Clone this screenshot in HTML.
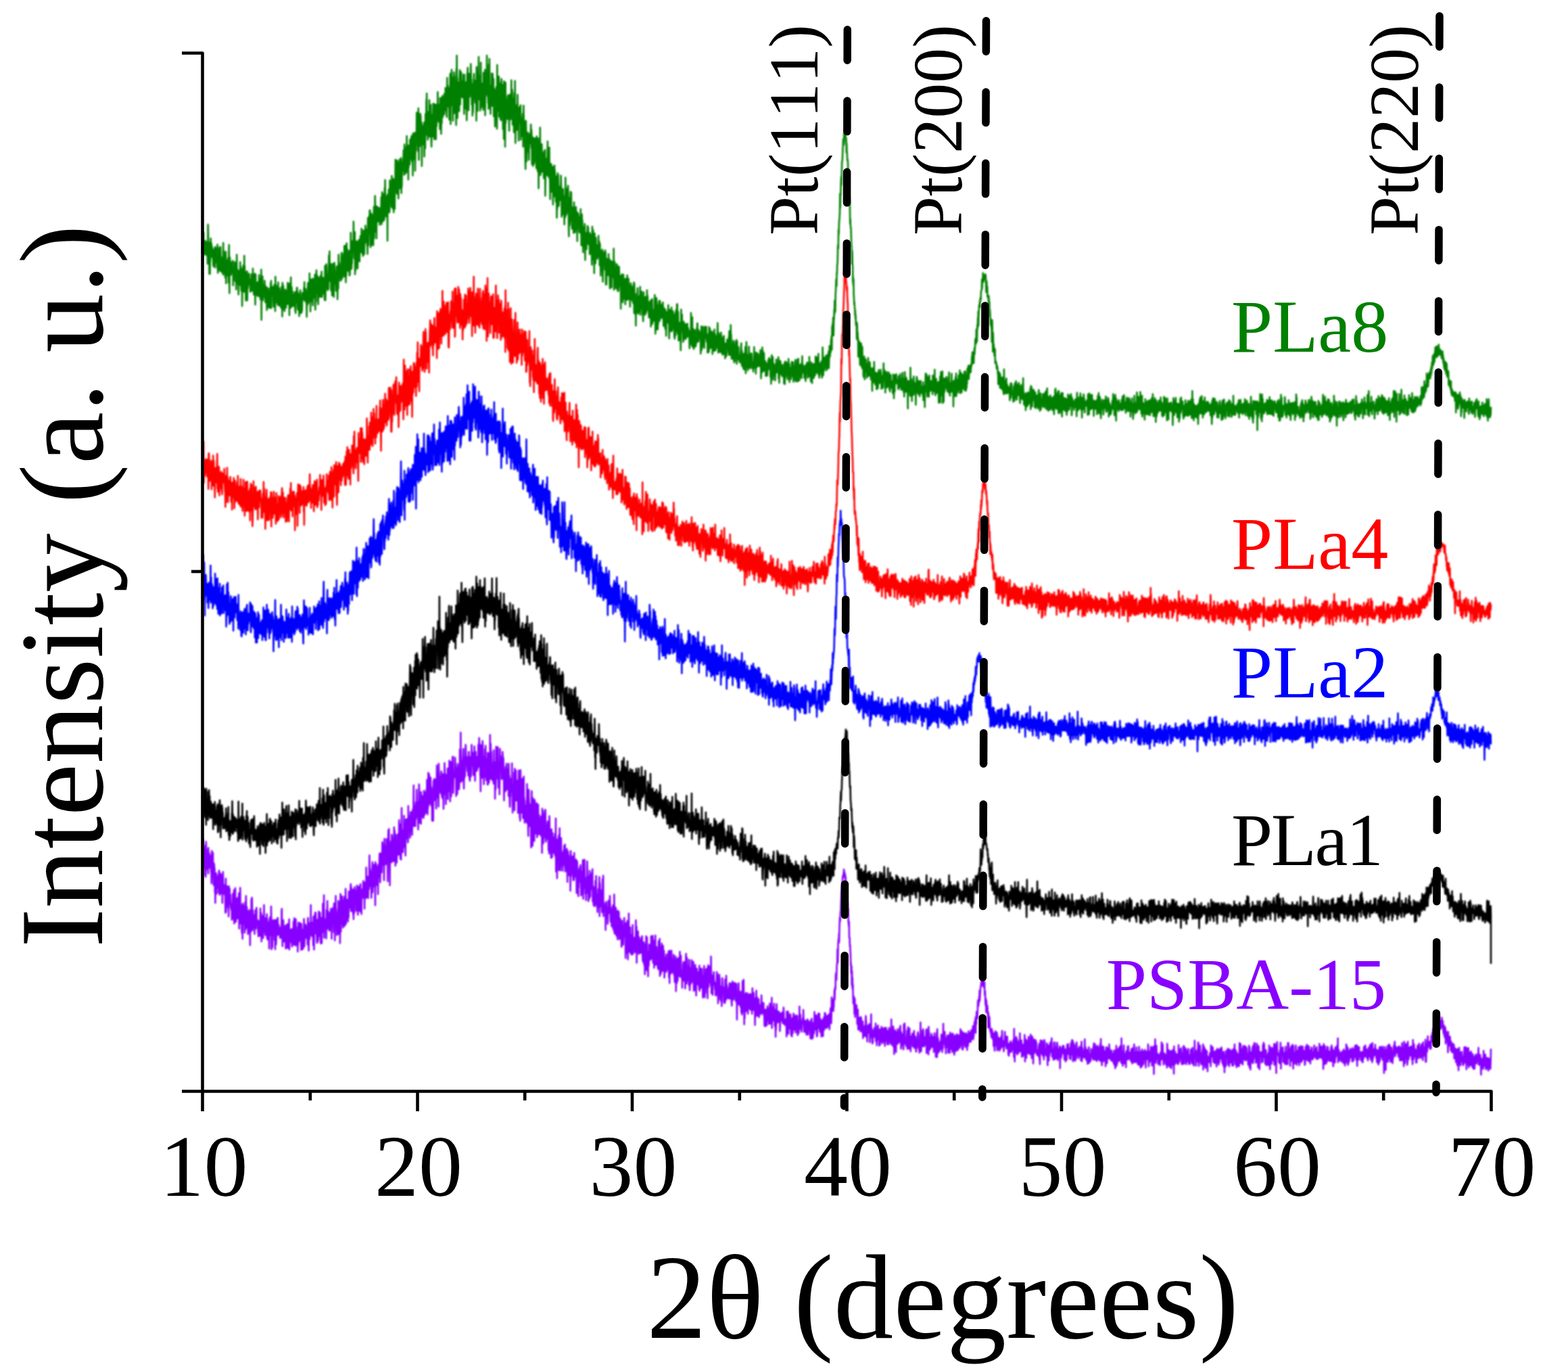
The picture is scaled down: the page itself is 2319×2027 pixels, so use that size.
<!DOCTYPE html>
<html><head><meta charset="utf-8"><title>XRD patterns</title>
<style>
html,body{margin:0;padding:0;background:#fff;}
svg{display:block;}
text{font-family:"Liberation Serif","Times New Roman",serif;font-kerning:none;}
</style></head>
<body>
<svg width="2319" height="2027" viewBox="0 0 2319 2027" xmlns="http://www.w3.org/2000/svg">
<rect width="2319" height="2027" fill="#fff"/>
<defs><filter id="bl" x="-1%" y="-5%" width="102%" height="110%"><feGaussianBlur stdDeviation="1.0"/></filter></defs>
<g fill="none" stroke-width="2.6" stroke-linejoin="round" filter="url(#bl)"><g transform="translate(300.0 0) scale(0.3175 0.5)">
<path vector-effect="non-scaling-stroke" d="M0 734l1 15 1-13 1-48 1 66 1-12 1-29 1 34 1-5 1-2 1-7 1 17 1-38 1 18 1-8 1 32 1-15 1-9 1-14 1 16 1 9 1-8 1 47 1-7 1-109 1 25 1 51 1-6 1 19 1 1 1 56 1-93 1 22 1 71 1-40 1 1 1-33 1-33 1 54 1-1 1-38 1 16 1 19 1-25 1 25 1 6 1-1 1-15 1 33 1 9 1-16 1-33 1 46 1-35 1 40 1-56 1 58 1-26 1-35 1 27 1 11 1 7 1-35 1-4 1 39 1-19 1 21 1 15 1-69 1 56 1 28 1-43 1-15 1 46 1-14 1 19 1-36 1-32 1 40 1-9 1 35 1-16 1-52 1 13 1 60 1-5 1-38 1 19 1 13 1 1 1 12 1-17 1-10 1-4 1 38 1-94 1 61 1 5 1-41 1 51 1-28 1 43 1-27 1 23 1 16 1-24 1-35 1-18 1 94 1-53 1-16 1 24 1-9 1 30 1-23 1 0 1-20 1 34 1-42 1 48 1 25 1-85 1-27 1 88 1 55 1-100 1-6 1 52 1-40 1 10 1 5 1 25 1-26 1 20 1-12 1-18 1 15 1-17 1 27 1-31 1 1 1 72 1-42 1 1 1 16 1-25 1 6 1 18 1-3 1-40 1 56 1-39 1-12 1 5 1 14 1 57 1-77 1 37 1-63 1 60 1 26 1-32 1-10 1 25 1 13 1 0 1 36 1-48 1-22 1 14 1 2 1 5 1-3 1 6 1-50 1 69 1-38 1-16 1 51 1 19 1-22 1-9 1-30 1 106 1-55 1-55 1 11 1 24 1-45 1 48 1-16 1 46 1-7 1-100 1 76 1-45 1 75 1-25 1 11 1-44 1 80 1 5 1-83 1 39 1-28 1 18 1-33 1 86 1-77 1 19 1 22 1-31 1 12 1-9 1 12 1-27 1 20 1 7 1-3 1 11 1-9 1 28 1-28 1 5 1-14 1 5 1-20 1 49 1-45 1 11 1 31 1 1 1-21 1-43 1 66 1-4 1-45 1 60 1-40 1-11 1 34 1-7 1 10 1-48 1 92 1-64 1-25 1 59 1-26 1 18 1-17 1 8 1 8 1-26 1 39 1-31 1-10 1 26 1 10 1-18 1-16 1 40 1-63 1 19 1 29 1-37 1 38 1-2 1 25 1-47 1 8 1 25 1-74 1 149 1-101 1-1 1 43 1-24 1-46 1 64 1 7 1-35 1 5 1 21 1-37 1 36 1-6 1-23 1-19 1 31 1-17 1 50 1-22 1 17 1-17 1 4 1-28 1 39 1 30 1-55 1-8 1 12 1-8 1-6 1 23 1-11 1 45 1-37 1 9 1 16 1-32 1 46 1-55 1-4 1 12 1 7 1-34 1 36 1-43 1 81 1-38 1-15 1-7 1 14 1 5 1-22 1 4 1 19 1-8 1 38 1 6 1-30 1 12 1-47 1 52 1-17 1 13 1 30 1-102 1 67 1-36 1 45 1-50 1 22 1 18 1 11 1-14 1-23 1 7 1 37 1-23 1-44 1 67 1-11 1 12 1-32 1 30 1-49 1 43 1-28 1 31 1 8 1-45 1 18 1 2 1 30 1-12 1-51 1 44 1 7 1 37 1-100 1 30 1 49 1-71 1 5 1 44 1 14 1-45 1 32 1-11 1 37 1-40 1 26 1-50 1 19 1 2 1 33 1-15 1-35 1 38 1 2 1-23 1-4 1 2 1-39 1 49 1 1 1-29 1 42 1-55 1 21 1 2 1 65 1-94 1 57 1 10 1-15 1 21 1-57 1-34 1 80 1-51 1 22 1-22 1 58 1-4 1-42 1 43 1-21 1-7 1 5 1-6 1 21 1-8 1-17 1 35 1-42 1 23 1 4 1 28 1-52 1 59 1-41 1-10 1-13 1 33 1-14 1-30 1-1 1 15 1-3 1 46 1 8 1-13 1-14 1-20 1 12 1 22 1 32 1-32 1-31 1 8 1-14 1-8 1 16 1 10 1 42 1-47 1 34 1 11 1-45 1 40 1-23 1-30 1 17 1-6 1-7 1 0 1 9 1 7 1-35 1 23 1-40 1 46 1 10 1-13 1 3 1 8 1-34 1 11 1 20 1 12 1-16 1 56 1-70 1 29 1 6 1-37 1-19 1-10 1 35 1 25 1-22 1-3 1-16 1 25 1-72 1 63 1-6 1-38 1 94 1-95 1 8 1-4 1 61 1-54 1 42 1-3 1-9 1-42 1 18 1 60 1-79 1 12 1 17 1 26 1-15 1 12 1-48 1 53 1-10 1-59 1 84 1 20 1-83 1 22 1 36 1-78 1-14 1 18 1 20 1-1 1 32 1-10 1-41 1 48 1 35 1-18 1-6 1-27 1 26 1-53 1 46 1-23 1 32 1-18 1-42 1 32 1 29 1-64 1 15 1-6 1-20 1 66 1 9 1-14 1-15 1-9 1 8 1-27 1 44 1 3 1-3 1-40 1 16 1-7 1 53 1-44 1-57 1 62 1 40 1-33 1 4 1-23 1-55 1 4 1 15 1 30 1 11 1 10 1-28 1 35 1-35 1-12 1 43 1-49 1-50 1 45 1 31 1-88 1 75 1 0 1-31 1-2 1 28 1-3 1 49 1-25 1-54 1 20 1 42 1 32 1-42 1-2 1 42 1-53 1-8 1-31 1 24 1 74 1-100 1 39 1-40 1 42 1 21 1-32 1 26 1 0 1-9 1 35 1-26 1-31 1-11 1-5 1 36 1-23 1 85 1-26 1-58 1-4 1 56 1-100 1 39 1 39 1-53 1 12 1 3 1 27 1-15 1 7 1 5 1-17 1 30 1-52 1-21 1-10 1 3 1 30 1 44 1-25 1-22 1-14 1 14 1 3 1-5 1-25 1 26 1 42 1-91 1 54 1-54 1 64 1-27 1-38 1 61 1 48 1-49 1 29 1-36 1-60 1 75 1-26 1-31 1 64 1-15 1-24 1 39 1-51 1 43 1-46 1 42 1-48 1 74 1-37 1 34 1-66 1 9 1 37 1-104 1 48 1 60 1-17 1 14 1-38 1 24 1-38 1-19 1-10 1 32 1-1 1-3 1-85 1 44 1 42 1 23 1-26 1-10 1-42 1 125 1-91 1 80 1-4 1-39 1-25 1 20 1-39 1 41 1-9 1 15 1 12 1 22 1-63 1 41 1-55 1-4 1 7 1-11 1 57 1-3 1 10 1-39 1 8 1-26 1-18 1 46 1-6 1-42 1 50 1-70 1 45 1-14 1 2 1-17 1 59 1-12 1 18 1-33 1-43 1 26 1-25 1 48 1 22 1-28 1-29 1 6 1 17 1-51 1 47 1 0 1-23 1 3 1 17 1-31 1-2 1 48 1-18 1 43 1-82 1-25 1 81 1 0 1-53 1-23 1 42 1-53 1 42 1-58 1 58 1-58 1 56 1 53 1-56 1 30 1-44 1-9 1-20 1 77 1-35 1 51 1-88 1 28 1 8 1 40 1 12 1-78 1-16 1-20 1 94 1-46 1-18 1 17 1-79 1 24 1 82 1-18 1-9 1-37 1 48 1 36 1-95 1 38 1-16 1 24 1-12 1-6 1-25 1 26 1-20 1 14 1 1 1 21 1-40 1 7 1 43 1-42 1-3 1 35 1-20 1-7 1 3 1-48 1 53 1 27 1-25 1-70 1 58 1-39 1 20 1 10 1-43 1 80 1-47 1 27 1-6 1 22 1-7 1-87 1 48 1-72 1 54 1 36 1 6 1 11 1-56 1 22 1-9 1 37 1 9 1-64 1 134 1-125 1-13 1 30 1 4 1-8 1-40 1 68 1-47 1 47 1-6 1-89 1 9 1-2 1 40 1-8 1 6 1-37 1 40 1 31 1-92 1 37 1 13 1-13 1-4 1 64 1-17 1-16 1-55 1 99 1-64 1-32 1 7 1-7 1 86 1-65 1-6 1-75 1 95 1-61 1-4 1 57 1-50 1 55 1 9 1-99 1 54 1-50 1 50 1 32 1-78 1 105 1-72 1-31 1 34 1 30 1-75 1 46 1-48 1 86 1-37 1-21 1 49 1-81 1 29 1 75 1-68 1 49 1-41 1-32 1 14 1 10 1-18 1-16 1 0 1-25 1 53 1 9 1 11 1-90 1 89 1-30 1-50 1 51 1 24 1-12 1 6 1 6 1-3 1-34 1-72 1 45 1 37 1-30 1 39 1 2 1-27 1 63 1-101 1 65 1-51 1-12 1 47 1-44 1 51 1-73 1 41 1-32 1 20 1-6 1-28 1 62 1-68 1 8 1 65 1 2 1-12 1-13 1 67 1-125 1 16 1-10 1 66 1-23 1 28 1-6 1-43 1-23 1-7 1 113 1-45 1-14 1-35 1 4 1-6 1 0 1-76 1 83 1-12 1 23 1-4 1 23 1-32 1 28 1-122 1 52 1 101 1-107 1 33 1 34 1-58 1 57 1-78 1-18 1 20 1-13 1 59 1-12 1 22 1-50 1 129 1-96 1 1 1 17 1-26 1-15 1 25 1 30 1-10 1 9 1-55 1-9 1 101 1-83 1 26 1 8 1 25 1-102 1 31 1 1 1 4 1-78 1 84 1-103 1 116 1 8 1 1 1-66 1 78 1-67 1-15 1 9 1 4 1 36 1 24 1-108 1 56 1 52 1-26 1 10 1-74 1 89 1-93 1 63 1 43 1 18 1-51 1 13 1-56 1 4 1 60 1-44 1-6 1-48 1 57 1 17 1-54 1 9 1 77 1-53 1-18 1-33 1 18 1 13 1 59 1-75 1 89 1-102 1 20 1 43 1-41 1-23 1 25 1 20 1-82 1 54 1 4 1-12 1 42 1-50 1 6 1 14 1 25 1-37 1 64 1-92 1 81 1-81 1 25 1 19 1 62 1-45 1-50 1 63 1-58 1-22 1 45 1-14 1 31 1-57 1 34 1 8 1-14 1-13 1-26 1 60 1-30 1 12 1-33 1 13 1-40 1 41 1 25 1-26 1 28 1-21 1 39 1-60 1-56 1 78 1-23 1-32 1 62 1-16 1 7 1-31 1 20 1 2 1 57 1-94 1 25 1 14 1-80 1 4 1 144 1-151 1 89 1-55 1 3 1-47 1 41 1 64 1-83 1 75 1-11 1 65 1-96 1 66 1-15 1-45 1-53 1 121 1-110 1 33 1 52 1 9 1-76 1 31 1-9 1 55 1 50 1-166 1 105 1-145 1 109 1-43 1 119 1-71 1-35 1 9 1-3 1 29 1-13 1 31 1 33 1-32 1-75 1-15 1 33 1 69 1-53 1-13 1 30 1-60 1 11 1 63 1-32 1-5 1 29 1-35 1-4 1 8 1 41 1-21 1-48 1 34 1 36 1 47 1-116 1 57 1-23 1 41 1-14 1 39 1-37 1-41 1 0 1 37 1-1 1 77 1-28 1-110 1 59 1-65 1-12 1 92 1-8 1-61 1 103 1-101 1-7 1 70 1-17 1-15 1 4 1 11 1-14 1-1 1-67 1 21 1 76 1-51 1 48 1 27 1-62 1 25 1 69 1-54 1 45 1-12 1-31 1-33 1-28 1-11 1 62 1-1 1-25 1 40 1-56 1 66 1-42 1-3 1 2 1-4 1 100 1-159 1 69 1 42 1-21 1-39 1 79 1-109 1-9 1 72 1-78 1-36 1 126 1-4 1-2 1-47 1 26 1-44 1 104 1-36 1-2 1-104 1 106 1 27 1-11 1-17 1-30 1-13 1 36 1-8 1-6 1-21 1 77 1-110 1 44 1-22 1 63 1 15 1-7 1-19 1-83 1 135 1-60 1-24 1 5 1-14 1 30 1-4 1-26 1-84 1 98 1 20 1 2 1-26 1 24 1 23 1-58 1 75 1-131 1 27 1 15 1-59 1 56 1 87 1 0 1-43 1 63 1-56 1-28 1 29 1-14 1 34 1-85 1 96 1-55 1 51 1-91 1 44 1 19 1 33 1-81 1 111 1-44 1-38 1 67 1-42 1 41 1 46 1-59 1-49 1 5 1 39 1-11 1-42 1 7 1 52 1 65 1-189 1 128 1-35 1 39 1 4 1-30 1-40 1-14 1-18 1 119 1-54 1-12 1 11 1-40 1 63 1 39 1-6 1-102 1 112 1-80 1-43 1 26 1 11 1 37 1-39 1-17 1 47 1 84 1-99 1 45 1-14 1 97 1-171 1 113 1-89 1 27 1 19 1 124 1-148 1-42 1 120 1-79 1 22 1 9 1 5 1-9 1 17 1 5 1 18 1-48 1-11 1-12 1 63 1-24 1 24 1-1 1 44 1-55 1 21 1-73 1 5 1 30 1-34 1 72 1-75 1 53 1-94 1 52 1 29 1 3 1-56 1 71 1 33 1-11 1-48 1 3 1-22 1 69 1 31 1-73 1-43 1 72 1 19 1-127 1 107 1 77 1-50 1-9 1-5 1 26 1-74 1 5 1 47 1-40 1 36 1-79 1 100 1 4 1-28 1 5 1 55 1-98 1 7 1-5 1 26 1-21 1 40 1-24 1-28 1-2 1 102 1-45 1-5 1 11 1-3 1 32 1-6 1-40 1-8 1-8 1-5 1 98 1-83 1-39 1 44 1 4 1 42 1-43 1 52 1-4 1 33 1 34 1 26 1-54 1-89 1 28 1 25 1 67 1-50 1 20 1-48 1 28 1 6 1-41 1 45 1 12 1-43 1 43 1 24 1-56 1-1 1-10 1-11 1 29 1-19 1 5 1-16 1-26 1 22 1 47 1-53 1 20 1 82 1-17 1-64 1 47 1-43 1 82 1-78 1 25 1 47 1-77 1 76 1-74 1 38 1-18 1 9 1 10 1-8 1-32 1 68 1-5 1 21 1 5 1-95 1 93 1 2 1-64 1 57 1 16 1-70 1-28 1 36 1 112 1-89 1-49 1 34 1-25 1 22 1 19 1-92 1 103 1 38 1-56 1-5 1 53 1-82 1 2 1-4 1 44 1 20 1-16 1 23 1 11 1-10 1-45 1 20 1 54 1-79 1 29 1-5 1 9 1-30 1-8 1 136 1-55 1-56 1 24 1 26 1-34 1 34 1-41 1 10 1 10 1-12 1-67 1 86 1 9 1 9 1-49 1 47 1-4 1-66 1-14 1 93 1-48 1 68 1 40 1-91 1-2 1 24 1 25 1-60 1 82 1-8 1-9 1-39 1 50 1 0 1-68 1 112 1-79 1 24 1-29 1 32 1 28 1-65 1-27 1 42 1-27 1 20 1 22 1 4 1 46 1-75 1 47 1-27 1 63 1 40 1-73 1 47 1-72 1-34 1 13 1-9 1 21 1 25 1 47 1-14 1-6 1-28 1-9 1 26 1 4 1 5 1 5 1-15 1-58 1 28 1 10 1 84 1-68 1 37 1 26 1-35 1-23 1 4 1-23 1 45 1 27 1-17 1 8 1-1 1 43 1-85 1 27 1 18 1 19 1-118 1 63 1 11 1-26 1 62 1-20 1-18 1-39 1 11 1 11 1 48 1-53 1-26 1 20 1 29 1 73 1 28 1-95 1 47 1 15 1-2 1-44 1-37 1 27 1-43 1 68 1 18 1-84 1 59 1 12 1 32 1 5 1-18 1-46 1 11 1 51 1-56 1 18 1 52 1-44 1-47 1 35 1 31 1-26 1 44 1 5 1-60 1 5 1 14 1-34 1 51 1-17 1 32 1-43 1-8 1 86 1-84 1 10 1-3 1 14 1-18 1 28 1-20 1 10 1 26 1 11 1-6 1-37 1 36 1-15 1 2 1-49 1 74 1-24 1 58 1-32 1-53 1-7 1 79 1-62 1 49 1-29 1 75 1-62 1 45 1-4 1-54 1 5 1 56 1-44 1-26 1 64 1 43 1-78 1 44 1-46 1 47 1-47 1 48 1-23 1-21 1 14 1-23 1-16 1 3 1 31 1-29 1 46 1 4 1-1 1-28 1 18 1-2 1 42 1-63 1 13 1 6 1 4 1-18 1 5 1 50 1-48 1 47 1 35 1-22 1-91 1 78 1-8 1 3 1-63 1 71 1-53 1 71 1-5 1 44 1-86 1-32 1 77 1-4 1-36 1 52 1-19 1-57 1 29 1-2 1 11 1 10 1-26 1 16 1 24 1-18 1-5 1 0 1 7 1-52 1 62 1-34 1 34 1-45 1 71 1-19 1-45 1 47 1-28 1 75 1-37 1-36 1 30 1-6 1 36 1-23 1 5 1-46 1 56 1 39 1-41 1-19 1 7 1-31 1 33 1-36 1 34 1-11 1-12 1 41 1-58 1 42 1-36 1 91 1 5 1-31 1 30 1-36 1-1 1-26 1-13 1 30 1-18 1 3 1 34 1-23 1-40 1 39 1-15 1 14 1-22 1 65 1 21 1-84 1 50 1-1 1-46 1 34 1 37 1-15 1 22 1-77 1 12 1 30 1 2 1-8 1-11 1 0 1-5 1 30 1-88 1 122 1-59 1-25 1 56 1-53 1 50 1-21 1 28 1 6 1 14 1-48 1 6 1 8 1-38 1 56 1-12 1-40 1 71 1 5 1-73 1 52 1 20 1-11 1-50 1-10 1 36 1-10 1 14 1-2 1 18 1-29 1 11 1 86 1-84 1 25 1-12 1-1 1-30 1 39 1-15 1 25 1 34 1-50 1 16 1-48 1 32 1 40 1-43 1-15 1 23 1-10 1 0 1-3 1 64 1-76 1 13 1-4 1 50 1-40 1 43 1-30 1-4 1-38 1 73 1-18 1-2 1-14 1-7 1-22 1 60 1-17 1-16 1-7 1 21 1-5 1 47 1-22 1-36 1-12 1 23 1-17 1 27 1 10 1 7 1-5 1-16 1 22 1-39 1 23 1 24 1-13 1-40 1 3 1-11 1 90 1-87 1 38 1 52 1-19 1 7 1-47 1 34 1 60 1-79 1 12 1-18 1 8 1 11 1 27 1-59 1-13 1 38 1 6 1 32 1-18 1-34 1 31 1 15 1-21 1-15 1 26 1-26 1-38 1 83 1-67 1 25 1 1 1 0 1 1 1-29 1 51 1-12 1 1 1 26 1 2 1 6 1 14 1-36 1-50 1 45 1-5 1 2 1-17 1-7 1 44 1 5 1-53 1 42 1-17 1-6 1 28 1-18 1-13 1 16 1-52 1 36 1 5 1-24 1 40 1 3 1-22 1 11 1 22 1 10 1-46 1 28 1 18 1-26 1-19 1 1 1 11 1-18 1 78 1-65 1 24 1-5 1 12 1-25 1-23 1 74 1-43 1 6 1 2 1 27 1-12 1 11 1-9 1-16 1 3 1-25 1-30 1 43 1-20 1 92 1-25 1-10 1-43 1 66 1-94 1 13 1 11 1-4 1 28 1 2 1 43 1-22 1 6 1-20 1-14 1-13 1-20 1 17 1 12 1 29 1-60 1 8 1 40 1-31 1 35 1-18 1-8 1-14 1 31 1-16 1 4 1 0 1 20 1 0 1-46 1 39 1 14 1 17 1-6 1-14 1-33 1 10 1 42 1-40 1 43 1 7 1-57 1 37 1-13 1 53 1-29 1-32 1 23 1-32 1 19 1 9 1-1 1 4 1-29 1-23 1 37 1-12 1 5 1 69 1-23 1-32 1-30 1 4 1 40 1 18 1-33 1 11 1 3 1 21 1-71 1 49 1 7 1 13 1-13 1-35 1 13 1-23 1 42 1 1 1 8 1-36 1-3 1 64 1-32 1 38 1-31 1-45 1 55 1 11 1-40 1-35 1 62 1-19 1 11 1-71 1 76 1-77 1 46 1 42 1-64 1-1 1 35 1 50 1 0 1-53 1 39 1-10 1-7 1 3 1-25 1 36 1 7 1 39 1-42 1-79 1 30 1 36 1-5 1-46 1 41 1-4 1 7 1-1 1 25 1 13 1-18 1-42 1 7 1 5 1 14 1-8 1 2 1-13 1 45 1-2 1 2 1-24 1 13 1-31 1-2 1 11 1 27 1-17 1-23 1 29 1 8 1-5 1-19 1 17 1-11 1 3 1 5 1 20 1 26 1-6 1-22 1-23 1 2 1 1 1 34 1-91 1 70 1-52 1 47 1 31 1-52 1-31 1 83 1 5 1-23 1 18 1-48 1 46 1 13 1-25 1-8 1 24 1-4 1-43 1 49 1-14 1-13 1 26 1-8 1-4 1-29 1 31 1-44 1 22 1-36 1 0 1 50 1-12 1 4 1 12 1-5 1-29 1 23 1-3 1-11 1 10 1-6 1-6 1 7 1 14 1 42 1-66 1 31 1-46 1 71 1-44 1 11 1 26 1-6 1-57 1 47 1-18 1 20 1-11 1 14 1-10 1-10 1 31 1-63 1 26 1-12 1 19 1-6 1 6 1-7 1 0 1-26 1 37 1 8 1-21 1-1 1 1 1 53 1-34 1 5 1-16 1-4 1-8 1 55 1-74 1 46 1-7 1-5 1-30 1 8 1 51 1-38 1 36 1-5 1-2 1 5 1-45 1 17 1 26 1-44 1 67 1-50 1 11 1-21 1 31 1-24 1 11 1-20 1 53 1-64 1 48 1-5 1 5 1-33 1 47 1-2 1-18 1 4 1-10 1 18 1-33 1 31 1-3 1-41 1-27 1 57 1-1 1 32 1-26 1-13 1-19 1 29 1-11 1-11 1 22 1 27 1-22 1-25 1 31 1-32 1-10 1 46 1-23 1 38 1-18 1-25 1 24 1 24 1-33 1-19 1 9 1-3 1-8 1-2 1 38 1 16 1-33 1 26 1 3 1 17 1-41 1-3 1 17 1-7 1 5 1 22 1-38 1 15 1-26 1 18 1-11 1-1 1 12 1-5 1 19 1 9 1-50 1 55 1-71 1 55 1 11 1-30 1 10 1-12 1 37 1-89 1 49 1-21 1 47 1 25 1-2 1-11 1-9 1-22 1 44 1-13 1-32 1-9 1 14 1 38 1 4 1 9 1-52 1 9 1 39 1-26 1 13 1-45 1 21 1 8 1-7 1-1 1-26 1 71 1-32 1-34 1 55 1-22 1 15 1-20 1-12 1 1 1 24 1 10 1-6 1 4 1 12 1-19 1 16 1 2 1-17 1-8 1-7 1-16 1-7 1 62 1-29 1-11 1 46 1-12 1-20 1 21 1-25 1 12 1 32 1-16 1-29 1 21 1 11 1-27 1-6 1 49 1-46 1-22 1 32 1 46 1-35 1 8 1-66 1 34 1 38 1-34 1 37 1-17 1-1 1 27 1-46 1 1 1 13 1 2 1-40 1 63 1-21 1-8 1 17 1-22 1 35 1-24 1 14 1-34 1 13 1 14 1-27 1 6 1 13 1 25 1-7 1 3 1-12 1 13 1 13 1-28 1 6 1 3 1-54 1 40 1 11 1 8 1-23 1 28 1-34 1 10 1 39 1-63 1 27 1-1 1 1 1-9 1 25 1-35 1-5 1 37 1-34 1 33 1-8 1-14 1 7 1 6 1 11 1-22 1 9 1-25 1 24 1-34 1 39 1-8 1 53 1-16 1-30 1 23 1-13 1-30 1-26 1 73 1-14 1-48 1 53 1 6 1-32 1 30 1-51 1 31 1 6 1 15 1-7 1-4 1 8 1-25 1 44 1-37 1 23 1-16 1-4 1 17 1-3 1 19 1-5 1-33 1 22 1-8 1-18 1-6 1 28 1-16 1-17 1 26 1 7 1-2 1-26 1 13 1 39 1-43 1 9 1 54 1-39 1-17 1-29 1 45 1-34 1 28 1-17 1-16 1 67 1-35 1 21 1-3 1-30 1 17 1-9 1 27 1-11 1-15 1 40 1-23 1-1 1-24 1 24 1-38 1 39 1-28 1 23 1-9 1 10 1 2 1-8 1 0 1-28 1-8 1 63 1-13 1-41 1 67 1-52 1 25 1-2 1-6 1 10 1-39 1 26 1-4 1 7 1-7 1-7 1-2 1 32 1-34 1 24 1 0 1-9 1 11 1 2 1-21 1 17 1 31 1-59 1 16 1-9 1 54 1-67 1 28 1 19 1-36 1 15 1-12 1-12 1 25 1 11 1-17 1 11 1 10 1 11 1-48 1 36 1-24 1-25 1 22 1 28 1-7 1-27 1 53 1-24 1-9 1-9 1 19 1-16 1 30 1-16 1 6 1-18 1-23 1 39 1-30 1 18 1 2 1-15 1 33 1-46 1 58 1-41 1 30 1 7 1-42 1 2 1 33 1-15 1-2 1-37 1 3 1 43 1 18 1-42 1-3 1 21 1 5 1 2 1-20 1-29 1 66 1-38 1 34 1-63 1 46 1-17 1-11 1 40 1 6 1-37 1 24 1-33 1 9 1 7 1-2 1 19 1-36 1 42 1 0 1-23 1-18 1-24 1 45 1-12 1 15 1-22 1 20 1-1 1 2 1 5 1 0 1 13 1-34 1 29 1-11 1-11 1-11 1 47 1-24 1-14 1 11 1-1 1-10 1-17 1 29 1-6 1-2 1 24 1-44 1 7 1 21 1 13 1-4 1 2 1-57 1 52 1-1 1 5 1-27 1 23 1 9 1 12 1-26 1-31 1 27 1 11 1-3 1 27 1-41 1-15 1 7 1 24 1-28 1-4 1 3 1 39 1-19 1-11 1 23 1-4 1-31 1 34 1-12 1-44 1 17 1 27 1 4 1-15 1-14 1 24 1-40 1 45 1-13 1 2 1-13 1 28 1-60 1 27 1 28 1-25 1 41 1-20 1-23 1 35 1-23 1 12 1-23 1 0 1 24 1-11 1-17 1-3 1 29 1 20 1-50 1 29 1-69 1 29 1 38 1 16 1-29 1 8 1-6 1 13 1-39 1 31 1-21 1 1 1 5 1-5 1-11 1 8 1-14 1 44 1-15 1-22 1 35 1-7 1-16 1-21 1 13 1 4 1 13 1-30 1-10 1 50 1-19 1-22 1-25 1 23 1 9 1-10 1-2 1-18 1 16 1-35 1-1 1-5 1-7 1 41 1-69 1 28 1-26 1-11 1 18 1-35 1 19 1 34 1-49 1 3 1-30 1 14 1-41 1 19 1-14 1 28 1-47 1-14 1-14 1-21 1 20 1 0 1-40 1 4 1-28 1-1 1-13 1-41 1-3 1 11 1-55 1 14 1-19 1-23 1 0 1-11 1-12 1-56 1 42 1-43 1 5 1-28 1-20 1-7 1 25 1-32 1-35 1-5 1-1 1-17 1-16 1-12 1-18 1 13 1-3 1 7 1-34 1 9 1-10 1 13 1-14 1-5 1-9 1 29 1-2 1 16 1-11 1 41 1-27 1 22 1 9 1 19 1-3 1 3 1 11 1 34 1 5 1 17 1 0 1 26 1 15 1 20 1-13 1 24 1 48 1-14 1 18 1 10 1-1 1 20 1 35 1-2 1 53 1-39 1 6 1 36 1 0 1 52 1-16 1 26 1-19 1 44 1 10 1 20 1-7 1 15 1 3 1 21 1-13 1 24 1-11 1 29 1-9 1 0 1 6 1 44 1-47 1 7 1 43 1-23 1 14 1 4 1 55 1-49 1 3 1 10 1 15 1 9 1-32 1 37 1 31 1-65 1 46 1 6 1-9 1-4 1-37 1 67 1-26 1 4 1 28 1-63 1 43 1 14 1 4 1-1 1 28 1-31 1 15 1-4 1-40 1 14 1 54 1-43 1 5 1-22 1 19 1-17 1 14 1 22 1-25 1 5 1 37 1-15 1 1 1 10 1-28 1 3 1-30 1 53 1-17 1 4 1-20 1 33 1 0 1-7 1-33 1 14 1 16 1-14 1 23 1 12 1-33 1 12 1-9 1 32 1-2 1 34 1-50 1-17 1 26 1-12 1 8 1 20 1-28 1 19 1-52 1 59 1-17 1-6 1-5 1 36 1-35 1 33 1-33 1 11 1 6 1 32 1-33 1 0 1-5 1-5 1-5 1 46 1-7 1-40 1 17 1-25 1 40 1-5 1-10 1-17 1 29 1-2 1-15 1 18 1-39 1 14 1-6 1 20 1 29 1-30 1 21 1-22 1-7 1 27 1-8 1 16 1-8 1-33 1-32 1 50 1-24 1-4 1-2 1 16 1 9 1 4 1 38 1-61 1 23 1-23 1 5 1 20 1 7 1-32 1 46 1-39 1 36 1-19 1 18 1-6 1-16 1 15 1-34 1 1 1 18 1 32 1-39 1 3 1 42 1-30 1 0 1-20 1 21 1 10 1-12 1 16 1-8 1 13 1-4 1-17 1 18 1 18 1-28 1-28 1 27 1-8 1 52 1-34 1-34 1 17 1 31 1-49 1 13 1 9 1-2 1-8 1 13 1-28 1 15 1 0 1 6 1 0 1 5 1-6 1-1 1 15 1 10 1 1 1-39 1 26 1 9 1-18 1 14 1-13 1 11 1-35 1 37 1-17 1-5 1 9 1 23 1 0 1-13 1 12 1-24 1-15 1-11 1 34 1-2 1 3 1 1 1 21 1-39 1 3 1 50 1-21 1-20 1-32 1 22 1 9 1 5 1 6 1-8 1 25 1-42 1 16 1-7 1 27 1-11 1 12 1-13 1 67 1-55 1-27 1 14 1-8 1 22 1 4 1-11 1-10 1-9 1 42 1-9 1-74 1 55 1-16 1 8 1 38 1-51 1 1 1 64 1-53 1 4 1 26 1-30 1 10 1 4 1 21 1-55 1 14 1 13 1 19 1-28 1 20 1-18 1 2 1 31 1-28 1 59 1-48 1 14 1-7 1-42 1 1 1 37 1-29 1 10 1 4 1-11 1 39 1-8 1-11 1 8 1-27 1 32 1-31 1 44 1-41 1 2 1 32 1-10 1-29 1 29 1-11 1 0 1 11 1 0 1 7 1-9 1-3 1-8 1 29 1-41 1 49 1 5 1-1 1-42 1 41 1-17 1-1 1 40 1-56 1 7 1-34 1-17 1 45 1 3 1 5 1-7 1-42 1 43 1 14 1 8 1-46 1 1 1 4 1 1 1-18 1 17 1 41 1-48 1-15 1 29 1-4 1 22 1-26 1 10 1-12 1-3 1 25 1-5 1-3 1 11 1-25 1 16 1 3 1 18 1-56 1 28 1 14 1-18 1 12 1 11 1-4 1-40 1 9 1-29 1 63 1-8 1 21 1-24 1-22 1 41 1-44 1 24 1-4 1 18 1 3 1-25 1-5 1 12 1-10 1 28 1-10 1 18 1 22 1-63 1 5 1 20 1-2 1-13 1-25 1 77 1-45 1-22 1-23 1 69 1-19 1-6 1-19 1 17 1-5 1-39 1 94 1-40 1-15 1-11 1 7 1 55 1-37 1-32 1 41 1-8 1 1 1-12 1-1 1 7 1-8 1-21 1 7 1 18 1-29 1 27 1-4 1 19 1-10 1-9 1 0 1 14 1 9 1-37 1-8 1 14 1-28 1 27 1 30 1 2 1 10 1-26 1 1 1-13 1 1 1 14 1 12 1-9 1-45 1 46 1-9 1-11 1 13 1 14 1-14 1-16 1 74 1-72 1 19 1 15 1-39 1 26 1-26 1 11 1-9 1 45 1-57 1 34 1-8 1-37 1 67 1-42 1 6 1 8 1-20 1 2 1 13 1-15 1 17 1 21 1-41 1-10 1 25 1 10 1 4 1-31 1-23 1 58 1-4 1 14 1-44 1 27 1 8 1-51 1 51 1 6 1-15 1-1 1 3 1-18 1-21 1 8 1 13 1-12 1 33 1-26 1 5 1-30 1 37 1-19 1 38 1-57 1 35 1-14 1 0 1 36 1-14 1-33 1 39 1-37 1 24 1-44 1 23 1-1 1-2 1-22 1-7 1 31 1 9 1-11 1-8 1-21 1 19 1-7 1-5 1 13 1-2 1 2 1-13 1-12 1 8 1-5 1-24 1 18 1-24 1-8 1 15 1 0 1 18 1-20 1 9 1 11 1-25 1 0 1-20 1 18 1-16 1-4 1-23 1-2 1-1 1 6 1 9 1-42 1 11 1-5 1 30 1-40 1-10 1 11 1-31 1 16 1-35 1 42 1-33 1-11 1-17 1 8 1-3 1-16 1 17 1-24 1-1 1-4 1 7 1-25 1 0 1-3 1-2 1-30 1 27 1-17 1-10 1 3 1-22 1 9 1 8 1 9 1-15 1 3 1-7 1 11 1-12 1 9 1-6 1-5 1 2 1 6 1 21 1 24 1-31 1-2 1 18 1 4 1-6 1 31 1-6 1 6 1-4 1 7 1 16 1-22 1 13 1 17 1-12 1 43 1-21 1 9 1 16 1 21 1-14 1-3 1 4 1 22 1-5 1 46 1-9 1-55 1 36 1 24 1 33 1-56 1 27 1 29 1-22 1 16 1-4 1 22 1-22 1 21 1-18 1 41 1-1 1-6 1 4 1 4 1-3 1 12 1 6 1-4 1-5 1 6 1 2 1 17 1-2 1 32 1-33 1 7 1-10 1 14 1-7 1-5 1 19 1 25 1-39 1 5 1 12 1 6 1 19 1-31 1 10 1-10 1 0 1 8 1-10 1 27 1 11 1-25 1-3 1 36 1-26 1 30 1-74 1 47 1-14 1 9 1 24 1 5 1-21 1 20 1-35 1 24 1-6 1-26 1 45 1-27 1 20 1-20 1 16 1 8 1-10 1-8 1 19 1-6 1-11 1 9 1-2 1-4 1 22 1 14 1-38 1 7 1-14 1-6 1 43 1-31 1 18 1-29 1 12 1 20 1 0 1-4 1 3 1-3 1 14 1 12 1-19 1-11 1-16 1 10 1 3 1 30 1-51 1 13 1-3 1 32 1-26 1-20 1-3 1 41 1-34 1 48 1-1 1-37 1 13 1 7 1-26 1 5 1 10 1 11 1 5 1-37 1 37 1-6 1-3 1-3 1 26 1 9 1-34 1 5 1-24 1 20 1 19 1-13 1 8 1-8 1 4 1 10 1 2 1-46 1 29 1-46 1 51 1-10 1 0 1 37 1-20 1 13 1-8 1 18 1-33 1 0 1 3 1 44 1-50 1 9 1 23 1-8 1-24 1 39 1-22 1 17 1-14 1 3 1-26 1 37 1-36 1 13 1 18 1-24 1 8 1-2 1 3 1 7 1-35 1 16 1 45 1-69 1 23 1 25 1-45 1 16 1 2 1 40 1-41 1 26 1-22 1 11 1-19 1-5 1 17 1-15 1 20 1 5 1 6 1 19 1-2 1-42 1 6 1 41 1-29 1-5 1 25 1-29 1 27 1-21 1 27 1-24 1 17 1 4 1 9 1-40 1 7 1-17 1-5 1 21 1 11 1 19 1-28 1 39 1-29 1 12 1-18 1-17 1 48 1-31 1 23 1-24 1 16 1-12 1-3 1 3 1 14 1-31 1 4 1 33 1-29 1 16 1-26 1 19 1 22 1-16 1 2 1-10 1 8 1-31 1 3 1 34 1-36 1 51 1-8 1-34 1-16 1-4 1 46 1-7 1 24 1-15 1 19 1-12 1-30 1 13 1-11 1 9 1-4 1 5 1 27 1-32 1-11 1 9 1 3 1-2 1 7 1-4 1 26 1-4 1-27 1 29 1 7 1-23 1-15 1 22 1-9 1 7 1-23 1 53 1-38 1 12 1-19 1 13 1-41 1 16 1-19 1 58 1-40 1-3 1 45 1-27 1 6 1 20 1-9 1-3 1 6 1-44 1 54 1 1 1 9 1-66 1 21 1 5 1 37 1-19 1 21 1-22 1-19 1-11 1 13 1 32 1-37 1-15 1 34 1 18 1 18 1-20 1-5 1-45 1 23 1 0 1 9 1-18 1 29 1 7 1-19 1-6 1 8 1 3 1 7 1-28 1 39 1-24 1-3 1 14 1-23 1 26 1 21 1-28 1-4 1-11 1 32 1-6 1-44 1 42 1-28 1-8 1 18 1-10 1 31 1-41 1 0 1 6 1 13 1 12 1-28 1 6 1-14 1 23 1-14 1 54 1-4 1-48 1 18 1 5 1-17 1 3 1 17 1-15 1 0 1 4 1 21 1-25 1 11 1-2 1 8 1-16 1-4 1-4 1 16 1-2 1-6 1 8 1 35 1-26 1-44 1 53 1-20 1-19 1 39 1-23 1 18 1-27 1 28 1-23 1 21 1-2 1-33 1 25 1 2 1-9 1-28 1 34 1-10 1 25 1-37 1 34 1-14 1 40 1-59 1 32 1-24 1-7 1 33 1-7 1 7 1-44 1 7 1 29 1-23 1 36 1 5 1-29 1 2 1 0 1-5 1 4 1-3 1 11 1-12 1-3 1 3 1-5 1 9 1 10 1 25 1-61 1 5 1 21 1 2 1-1 1 32 1-62 1 28 1-18 1 16 1 13 1-32 1 41 1-31 1-3 1-10 1 15 1 0 1 26 1-40 1 30 1 10 1-18 1 17 1-24 1 18 1-12 1 41 1-40 1 0 1 11 1-15 1 6 1 8 1 9 1-24 1 11 1-4 1 15 1 2 1-7 1-2 1 25 1-44 1 41 1-18 1-34 1 28 1-26 1 22 1-32 1 46 1-25 1 40 1-39 1 13 1-23 1 20 1 3 1 7 1 33 1-14 1-14 1-18 1 1 1-1 1-9 1 26 1-12 1 9 1-12 1 10 1 23 1-23 1 10 1-30 1 12 1-4 1 15 1-3 1-16 1 17 1-4 1-28 1 26 1 20 1-34 1 33 1-7 1-8 1 4 1-20 1 25 1-35 1 5 1 27 1-27 1 51 1-27 1 9 1 2 1-23 1 7 1 8 1-8 1 26 1-9 1-13 1 17 1-20 1 12 1-10 1-7 1-11 1 4 1 12 1 6 1-42 1 29 1 16 1-12 1-16 1 2 1 44 1-54 1 21 1 19 1-47 1 44 1-36 1 42 1 27 1-64 1 19 1 7 1-15 1 18 1-20 1 2 1-4 1 13 1 8 1 8 1-17 1-16 1 10 1-1 1 2 1 16 1-12 1 4 1 0 1-3 1-6 1 20 1-14 1 0 1-17 1 7 1 2 1 19 1-38 1 41 1-10 1-14 1-2 1 22 1-5 1-36 1 21 1-3 1 14 1-10 1 18 1-16 1 4 1 25 1-24 1-4 1 9 1-22 1-5 1 25 1-9 1-13 1 38 1-4 1-7 1-13 1 6 1-6 1 23 1-38 1 28 1-4 1-18 1 28 1-15 1 36 1-12 1-20 1-5 1-5 1-1 1 17 1-28 1 39 1-4 1-14 1 15 1 25 1-33 1 23 1-32 1-5 1 26 1-48 1 47 1-15 1-8 1 9 1 0 1 19 1-7 1-10 1-7 1-12 1 19 1-45 1 58 1-16 1-27 1 36 1-24 1 7 1-21 1 17 1 15 1-4 1 6 1-17 1 21 1-33 1 15 1-34 1 38 1-4 1 6 1 12 1 13 1-41 1 15 1-28 1 62 1-9 1-13 1 12 1-6 1-24 1 22 1 8 1-6 1-15 1-5 1 45 1-34 1 5 1-32 1 34 1-7 1-18 1 35 1-21 1 11 1-4 1-18 1 16 1 18 1-41 1 1 1 2 1 27 1-19 1 12 1 14 1-37 1 42 1-23 1-4 1 28 1-17 1-29 1 20 1-11 1 17 1-12 1 2 1 21 1-43 1 32 1-8 1 9 1-44 1 23 1 9 1 34 1-48 1 3 1 15 1 8 1-15 1 11 1-28 1 54 1-32 1 7 1 42 1-53 1-11 1 4 1 43 1-30 1-9 1 12 1 0 1 17 1-5 1-5 1 1 1-21 1-7 1 27 1 2 1-6 1 2 1 6 1-29 1 13 1-8 1-16 1 38 1-12 1 11 1 3 1-25 1 39 1-19 1 11 1 11 1-35 1-2 1 13 1 15 1 1 1-51 1 55 1-30 1 15 1-29 1 7 1 20 1-34 1 42 1-22 1 13 1-2 1-11 1 30 1 16 1-27 1-38 1 30 1-6 1 18 1-13 1 33 1-23 1-1 1-16 1-8 1 13 1 4 1 5 1-5 1-7 1 5 1-8 1-9 1 2 1 22 1 4 1-15 1 1 1 11 1-11 1 53 1-49 1-10 1-21 1 33 1 13 1-17 1 21 1-30 1 8 1-1 1-9 1-12 1 8 1-15 1 43 1-15 1 1 1-7 1 24 1-29 1 41 1-10 1-28 1 8 1 13 1 10 1-33 1 5 1 48 1-25 1 0 1 16 1-24 1-14 1-21 1 42 1-32 1 29 1-43 1 25 1 7 1-20 1 12 1-5 1 15 1-22 1 16 1 27 1 0 1 8 1-24 1-13 1 12 1 6 1-7 1 19 1-34 1 7 1-21 1 18 1 27 1-19 1 11 1-5 1 8 1-29 1 22 1 3 1 7 1 4 1-30 1-15 1 13 1 31 1-37 1-6 1 1 1 0 1 33 1-24 1 2 1 28 1-3 1-1 1-26 1-15 1 33 1 22 1-34 1 2 1-48 1 80 1-31 1-25 1 27 1-8 1 19 1 25 1-48 1 16 1-9 1-4 1 18 1 17 1-17 1-14 1 15 1-5 1 10 1-22 1 11 1 24 1-26 1 15 1-16 1 2 1-13 1 57 1-26 1 0 1-1 1-35 1 5 1 9 1-24 1 12 1 28 1-47 1 19 1 13 1 0 1 1 1-11 1 26 1-52 1 45 1-31 1 12 1 11 1 27 1-41 1-8 1 39 1-17 1 1 1 9 1 7 1-13 1-37 1 31 1 3 1-18 1 2 1 26 1-6 1-18 1 23 1-7 1-23 1 17 1-17 1 7 1 19 1-24 1-1 1 26 1-22 1 12 1 0 1 2 1 8 1-13 1-5 1 5 1 26 1-4 1-15 1 20 1-8 1-29 1 42 1 20 1-39 1-32 1 51 1-15 1-11 1-31 1 31 1-3 1-1 1-1 1 22 1-22 1 13 1-37 1 15 1 15 1-14 1 15 1-1 1 4 1-9 1 16 1-32 1 15 1 31 1-31 1 31 1-19 1-9 1 5 1 24 1-30 1-13 1 26 1 3 1 2 1-38 1 31 1-5 1-5 1-4 1 15 1-9 1 1 1 33 1-32 1-19 1 4 1 2 1-13 1 43 1 12 1-40 1 25 1-27 1 1 1-17 1 27 1 21 1 1 1-12 1-13 1 24 1 8 1-40 1 17 1-5 1-10 1-8 1 5 1 15 1 3 1-2 1 18 1-32 1-9 1 2 1 25 1-15 1-18 1 41 1 8 1-20 1 8 1-33 1 0 1 25 1 1 1-7 1-1 1-6 1 34 1-37 1 11 1 19 1-33 1 19 1-4 1 11 1-49 1 35 1-8 1 30 1-18 1-9 1 24 1-4 1 6 1 1 1-5 1-22 1 14 1 0 1 1 1 0 1-4 1-8 1 5 1-14 1 1 1 26 1-17 1 7 1-10 1-18 1 20 1 32 1-27 1-9 1 22 1-19 1-2 1-16 1-2 1 34 1-4 1-2 1 11 1-19 1 8 1-14 1 0 1 1 1 28 1-4 1-28 1 11 1 7 1-14 1 23 1-23 1 7 1 0 1-24 1 1 1 15 1 32 1-9 1-2 1-18 1 3 1 8 1 4 1-29 1 13 1-1 1 33 1-29 1-5 1 26 1-20 1 22 1-30 1 45 1-31 1 4 1-6 1 3 1 1 1-6 1 25 1-56 1 17 1 13 1 4 1 25 1-14 1-9 1-12 1 44 1-18 1 27 1-64 1 51 1-29 1-12 1 15 1 0 1-7 1-18 1 18 1-15 1 22 1-23 1 25 1-10 1 22 1-28 1-9 1-1 1 27 1 58 1-85 1 12 1 35 1-14 1 10 1-16 1 3 1-7 1-19 1 21 1-19 1 26 1-54 1 11 1 30 1 4 1 28 1-43 1 23 1-39 1 67 1-80 1 66 1-30 1-23 1 20 1 23 1-17 1-11 1 16 1-3 1 15 1-4 1-18 1-5 1 13 1-3 1 6 1-20 1 18 1-15 1 22 1-5 1-8 1-21 1 43 1-32 1 6 1 7 1 8 1-16 1 1 1-15 1 40 1-25 1 1 1-26 1 24 1 23 1 3 1-33 1 17 1 9 1-33 1 17 1 18 1 6 1-41 1 6 1 36 1-25 1 12 1-24 1 37 1-12 1 16 1-38 1 7 1-11 1-1 1-1 1 24 1-18 1 14 1-11 1 17 1 7 1 0 1 1 1-16 1 14 1-16 1-9 1-7 1 20 1 5 1 22 1-34 1 31 1-48 1 23 1 39 1-43 1-9 1-1 1 52 1-16 1-29 1 2 1-33 1 37 1 28 1-56 1 49 1-8 1 16 1-34 1 13 1 17 1-13 1 3 1-16 1 2 1-6 1 11 1-2 1-4 1-30 1 11 1 22 1 20 1-33 1 5 1 8 1 17 1 11 1-23 1-4 1-13 1 19 1-11 1 7 1-16 1 31 1-24 1-18 1 24 1-17 1 27 1 12 1-12 1-11 1-11 1 5 1 42 1-17 1-33 1 1 1 21 1-4 1 0 1 8 1-27 1 5 1 29 1-11 1-9 1 2 1 12 1-5 1-16 1-8 1 32 1-33 1 53 1-52 1 9 1 27 1 6 1-22 1-44 1 41 1-32 1 26 1 21 1 0 1-11 1 2 1 6 1-16 1 0 1 25 1-11 1 11 1-13 1 0 1 7 1-2 1 16 1-17 1-18 1 2 1-9 1 19 1-15 1-10 1 31 1 14 1-50 1 41 1-12 1-19 1 5 1 8 1 40 1-33 1 21 1-35 1 27 1-4 1-24 1 2 1 17 1-33 1 24 1-20 1 21 1 7 1 4 1-5 1-9 1-6 1-5 1 4 1 3 1-1 1 11 1-14 1-15 1 37 1-23 1-15 1 12 1 9 1 2 1 7 1 27 1-51 1 46 1-23 1-7 1-31 1 31 1 15 1-27 1-8 1 4 1 23 1-2 1 25 1-33 1 20 1-32 1 16 1 21 1-22 1 13 1-29 1 5 1 7 1-10 1 11 1 31 1-27 1 7 1 21 1-24 1-3 1-5 1 25 1-3 1 18 1 1 1-57 1 36 1 21 1-28 1-3 1-21 1 37 1-34 1 19 1-9 1 13 1-14 1 0 1 23 1-17 1 15 1-25 1 35 1-16 1 11 1-7 1-38 1-16 1 59 1-25 1 1 1-7 1 5 1 13 1 10 1-19 1-31 1 45 1-5 1-15 1-10 1-1 1 41 1-30 1 30 1-24 1 18 1-29 1-5 1 17 1-25 1 7 1 29 1 17 1-22 1-29 1 10 1 19 1-5 1 41 1-9 1-35 1 39 1-49 1 0 1 38 1-40 1 8 1 35 1-33 1 29 1-11 1-18 1 17 1 8 1-5 1-27 1 29 1-53 1 33 1 6 1 14 1 7 1-44 1 13 1 7 1-6 1 14 1 4 1 1 1-17 1 57 1-70 1 15 1 29 1-12 1 0 1 7 1-23 1 5 1 16 1 8 1-47 1 13 1 8 1 15 1-35 1 36 1-27 1 23 1-8 1 20 1-40 1 26 1-14 1-7 1 27 1-31 1 27 1-29 1-2 1 30 1 24 1-28 1-22 1 20 1-10 1-6 1 14 1 5 1 5 1-30 1 43 1-31 1-21 1 12 1 15 1-16 1 17 1-17 1 31 1-14 1-7 1 20 1-31 1 12 1 12 1-3 1-5 1 13 1-23 1 8 1-14 1 13 1-17 1 0 1 18 1-16 1 29 1 3 1-6 1 2 1-3 1-33 1 6 1 23 1-22 1 6 1 11 1 5 1-30 1 25 1 14 1-8 1 18 1-31 1 28 1 14 1-23 1 4 1 0 1-51 1 24 1 28 1-38 1 26 1 4 1 11 1-22 1 16 1-15 1 26 1-36 1 2 1 15 1 20 1-22 1-5 1-10 1 27 1-28 1 7 1 0 1 22 1-32 1 1 1 16 1-2 1-25 1 10 1 4 1 11 1-15 1 46 1-28 1 15 1-14 1-1 1 8 1-18 1-24 1 37 1-19 1 33 1-36 1 17 1-2 1-10 1 3 1 4 1 5 1 1 1-3 1-1 1-36 1 58 1-11 1-31 1 7 1-21 1-14 1 40 1 35 1-25 1 1 1-2 1 8 1-10 1-12 1 3 1 21 1-18 1-24 1 40 1-6 1 18 1-20 1-1 1-2 1-11 1 17 1-13 1-8 1 15 1 3 1 4 1 5 1 24 1-39 1 26 1-22 1 2 1 11 1-27 1 13 1 12 1-34 1 8 1 7 1 7 1 13 1-33 1 43 1-11 1-2 1-41 1 37 1-18 1 24 1-13 1-6 1-8 1 11 1 15 1-37 1 14 1 8 1 1 1-5 1 11 1-2 1-35 1 50 1-39 1 41 1-6 1-41 1 30 1 20 1 1 1-20 1-15 1 32 1-44 1 0 1 37 1-32 1 28 1-26 1 7 1 29 1-20 1 11 1-13 1-5 1-3 1-4 1 21 1 1 1 20 1-23 1-9 1 13 1 15 1-47 1 50 1-40 1 0 1 55 1-24 1-26 1 22 1 8 1-11 1 7 1-12 1 2 1-26 1 2 1 19 1-25 1 33 1-12 1 20 1-5 1-21 1-37 1 20 1 24 1 33 1-33 1 9 1-10 1-42 1 52 1-14 1-20 1 36 1-12 1 48 1-83 1 22 1 14 1-7 1 16 1 4 1-6 1-7 1-12 1 14 1 11 1-12 1-36 1 61 1-35 1 22 1-22 1 25 1-23 1 29 1-3 1-31 1-36 1 52 1-22 1 32 1-10 1-12 1-9 1 1 1 37 1-8 1-19 1 9 1 9 1-18 1-25 1 55 1-32 1-5 1 10 1-15 1-2 1 20 1-15 1 18 1 0 1 25 1-36 1 6 1-10 1 27 1-11 1-2 1 24 1-26 1 0 1-25 1-7 1 19 1 10 1-19 1 2 1 27 1-21 1-1 1 4 1-12 1 31 1 8 1-6 1 8 1-56 1 45 1-16 1 23 1-32 1 23 1 15 1-18 1-8 1-5 1 11 1-12 1-15 1 27 1 16 1-20 1 11 1 2 1-19 1-2 1-12 1 16 1 3 1-22 1 9 1 20 1-26 1 21 1-7 1-11 1 18 1-5 1-10 1 1 1 4 1 1 1-2 1 4 1-19 1 28 1-24 1-2 1 21 1-5 1-43 1 26 1 10 1-4 1-34 1 14 1-3 1 19 1 3 1-9 1-7 1-12 1 25 1-47 1 37 1-1 1-6 1-5 1 0 1 6 1-20 1 17 1-12 1 0 1-39 1 16 1 13 1-8 1 19 1-33 1 32 1-7 1-10 1-11 1-10 1-3 1 4 1 7 1 6 1-2 1 2 1-3 1-23 1 0 1 16 1-24 1 18 1-13 1-18 1 18 1-5 1-14 1-19 1 26 1 0 1 1 1-6 1-14 1-12 1 14 1 9 1-13 1-13 1-6 1-11 1 25 1 1 1-26 1 13 1 17 1-33 1 31 1-4 1-3 1-5 1 0 1 0 1 9 1-25 1-6 1-2 1 20 1 7 1-15 1 10 1-1 1 9 1-3 1-2 1-9 1 4 1 13 1-5 1 12 1-17 1 17 1-9 1 7 1-18 1 25 1-14 1 23 1-1 1-13 1 24 1 3 1 4 1-2 1-15 1 22 1-26 1 12 1 10 1-19 1 33 1-4 1-6 1-20 1 19 1 19 1 1 1-16 1-2 1 18 1-12 1-4 1 40 1-16 1 7 1-5 1 17 1 2 1-12 1-1 1 2 1 19 1-8 1-16 1 35 1-15 1 8 1 14 1-10 1 6 1-11 1 11 1 6 1-6 1-5 1 0 1 0 1 9 1-9 1 16 1-13 1 22 1-11 1-10 1 16 1-20 1 60 1-53 1 9 1 24 1-28 1-4 1 0 1 31 1-32 1 42 1-15 1-10 1 19 1-16 1-3 1-14 1-2 1 25 1-33 1 7 1 1 1 23 1-20 1 19 1 41 1-37 1 26 1-24 1-18 1 8 1-1 1 17 1 4 1-7 1-9 1-5 1 6 1-7 1 1 1 51 1-24 1-30 1 17 1 5 1-6 1-9 1 16 1-3 1 5 1 10 1-25 1 11 1-10 1-5 1 5 1 11 1-11 1-6 1 4 1 13 1 20 1-2 1-44 1 20 1 14 1-15 1 4 1-12 1 17 1-4 1-11 1 21 1 8 1-8 1-25 1 22 1 8 1 5 1 2 1-4 1-17 1 11 1 3 1-9 1 3 1-20 1 20 1-11 1 4 1 29 1-23 1 2 1-15 1-13 1 5 1 13 1 2 1-24 1 17 1 11 1-13 1 7 1 8 1 17 1-14 1 19 1-45 1 41 1-22 1 18 1 16 1-16 1-8 1 18 1-32 1 24 1-10 1 0 1-15 1 14 1 1 1-6 1 6 1-26 1 35 1-18 1 8 1-13 1 4 1-4 1 29 1-32 1 2 1 8 1-15 1 3 1 19 1 1 1 7 1-4 1-20 1-3 1 32 1-49 1 36 1 8 1 8 1 3 1-4 1 13 1-57 1 23 1 10 1-40 1 23 1 30 1-28 1 26 1-6 1 9 1-5 1-5 1 3 1-24" stroke="#008000"/>
<path vector-effect="non-scaling-stroke" d="M0 1379l1-20 1 4 1-57 1 122 1-19 1-41 1 32 1-14 1-23 1 44 1-36 1 0 1-13 1 36 1-15 1 19 1-32 1 21 1-28 1 50 1-18 1 4 1 3 1-40 1 52 1 36 1-104 1-2 1 7 1 67 1-20 1 28 1-10 1-14 1 3 1-13 1 30 1-56 1 21 1 19 1 45 1-72 1-8 1 15 1 43 1-33 1 44 1-89 1 85 1-2 1-68 1 44 1 31 1-32 1 27 1 39 1-59 1-15 1-13 1 40 1-23 1 1 1 3 1 22 1-48 1-12 1-25 1 102 1-31 1 41 1-42 1-20 1 35 1-15 1-32 1 10 1 75 1-39 1 2 1-18 1-11 1 44 1-27 1-18 1 18 1-21 1 31 1 27 1-54 1 63 1-57 1 23 1-27 1 18 1 8 1-13 1-6 1 1 1-3 1-20 1 36 1 19 1 14 1-6 1 50 1-58 1-20 1 64 1-79 1 55 1-52 1 37 1-63 1 79 1-28 1-22 1 73 1-24 1-19 1-21 1 20 1-3 1 25 1 2 1-39 1 4 1 1 1-21 1 21 1 14 1 22 1 17 1-57 1 37 1-26 1 69 1-57 1 15 1-38 1 4 1 28 1-15 1 20 1-51 1 60 1-41 1 71 1-54 1 38 1-66 1 49 1-35 1 12 1 14 1-9 1 16 1 13 1-2 1-19 1-34 1 16 1 16 1-51 1 77 1-26 1 0 1 32 1-7 1-11 1-33 1 36 1 1 1-32 1 51 1-14 1-65 1 55 1-36 1 64 1-9 1-50 1 6 1 27 1-9 1 47 1-21 1-26 1 23 1-69 1 62 1 15 1-27 1-14 1 34 1 37 1-46 1-35 1 68 1-87 1 63 1-29 1 40 1-46 1 57 1-27 1-53 1-6 1 44 1 43 1-31 1-1 1-8 1 26 1-9 1-3 1-33 1 57 1 5 1-69 1 94 1-41 1-31 1-37 1 67 1-2 1-30 1-31 1 76 1-44 1 3 1 87 1-19 1-30 1-37 1 29 1-76 1 62 1-22 1-13 1-8 1 55 1-11 1 2 1 18 1-44 1-9 1-14 1 37 1 29 1-23 1 21 1-48 1 19 1-7 1-12 1 81 1-26 1-42 1 0 1 19 1-36 1 49 1-44 1 24 1-17 1 15 1-22 1-6 1 16 1 7 1 11 1 9 1 38 1-18 1-27 1 25 1-36 1 56 1-23 1-49 1 54 1 2 1-90 1 50 1 8 1-38 1 23 1 3 1 38 1-5 1 60 1-78 1 40 1-27 1 5 1-37 1-19 1 30 1 39 1 22 1-25 1-3 1-34 1 61 1-5 1-48 1 13 1-24 1 63 1-27 1-13 1 13 1 1 1-22 1-21 1-1 1-12 1 57 1 45 1-101 1 47 1 7 1-35 1 30 1-33 1 59 1-46 1 17 1 15 1-28 1-35 1 32 1 33 1-21 1 8 1-34 1 31 1 15 1-17 1 48 1-55 1-21 1-15 1 71 1-31 1 27 1-14 1 30 1-9 1-42 1 16 1 21 1-60 1 69 1-6 1-6 1-30 1 13 1-37 1 30 1-16 1 17 1-15 1 20 1 23 1-64 1 57 1-75 1-4 1 52 1 3 1 12 1-54 1 40 1 5 1 29 1-35 1 16 1-39 1 21 1-7 1 30 1-44 1 4 1 36 1 31 1-36 1-2 1-17 1 37 1-14 1 30 1-36 1-33 1 10 1-11 1-7 1 65 1-12 1-53 1 78 1-40 1-31 1 34 1-11 1-19 1-30 1 51 1 6 1-74 1 80 1 2 1-28 1 14 1-10 1-15 1 12 1 44 1-73 1 44 1-2 1-23 1 6 1-25 1 14 1 22 1 8 1-32 1 102 1-95 1 18 1-10 1-4 1 43 1-46 1 46 1-5 1-57 1 53 1-44 1 88 1-82 1-15 1-26 1 16 1 18 1-11 1-6 1 13 1 12 1 43 1-83 1 30 1-11 1-15 1 6 1 9 1 42 1-24 1-9 1 30 1-10 1-13 1 15 1-32 1 38 1-4 1-24 1-22 1 72 1-37 1 77 1-98 1 40 1-35 1 18 1 15 1-43 1 18 1 7 1-2 1 13 1 11 1-5 1-15 1-17 1-21 1 11 1 5 1 32 1-28 1-24 1 50 1-38 1 0 1 15 1 18 1-77 1 34 1 35 1-15 1-13 1 8 1 51 1-49 1 31 1 2 1-33 1 23 1-23 1-5 1-14 1 53 1-34 1-4 1-15 1 78 1-29 1-23 1-15 1-23 1 49 1-1 1-45 1 68 1-10 1-47 1 11 1 3 1 16 1-8 1-40 1 82 1-31 1 25 1 0 1-39 1 14 1 11 1 0 1-25 1-12 1 17 1-22 1 6 1-40 1 57 1-30 1 12 1 13 1 10 1 42 1-45 1-44 1 41 1-20 1 27 1-30 1-1 1 5 1-3 1-32 1 30 1 17 1 33 1-41 1-2 1 25 1-2 1 28 1-28 1-16 1 36 1 4 1-54 1 16 1-50 1 35 1-15 1 18 1-8 1 8 1 1 1 16 1-8 1-22 1-21 1 68 1 5 1-52 1 27 1-58 1-1 1 34 1 47 1-69 1 5 1 66 1-97 1 69 1-5 1-20 1 10 1 66 1-103 1 21 1 1 1-13 1-18 1 80 1-39 1-55 1 28 1 30 1-1 1-52 1 37 1 9 1 3 1-1 1-62 1 101 1-46 1 43 1 29 1-85 1-30 1 57 1-29 1-9 1-17 1 76 1-61 1-27 1 26 1-21 1 36 1-17 1-19 1 46 1-35 1 37 1 14 1-46 1-9 1 23 1 19 1-26 1 3 1-6 1 9 1 8 1-38 1 5 1 14 1-21 1 22 1 11 1-17 1-17 1-6 1 71 1-26 1-58 1 8 1 76 1-11 1-40 1 28 1-76 1 42 1 20 1-75 1 30 1 44 1 9 1-50 1 24 1 37 1-58 1-28 1 36 1-10 1 48 1-34 1-28 1 91 1-84 1 27 1 5 1 3 1-18 1 11 1-20 1-40 1 35 1 0 1 0 1 8 1-23 1 56 1 7 1-110 1 64 1-22 1-56 1 88 1-31 1 7 1-9 1 50 1 4 1-28 1 11 1-24 1 7 1-26 1 22 1-23 1 32 1 12 1-15 1 25 1 44 1-142 1 62 1-18 1 2 1-27 1 41 1-10 1-11 1 10 1-11 1-52 1 100 1-41 1-20 1 36 1-30 1-45 1 90 1-77 1 42 1 9 1 36 1-6 1-31 1-29 1 9 1 44 1 20 1-38 1-37 1 50 1-44 1-2 1 3 1 25 1-10 1 20 1 8 1-24 1-87 1 18 1 55 1-8 1 66 1-67 1-5 1 32 1 3 1-41 1 21 1-50 1 4 1 65 1-81 1 70 1-9 1 2 1 3 1-11 1-84 1 34 1 11 1 45 1-63 1 12 1 9 1 51 1-86 1 1 1 61 1-86 1 74 1-25 1-36 1 35 1-19 1 35 1 5 1 34 1-48 1 3 1-22 1 16 1 32 1-93 1 79 1-38 1 18 1 7 1 15 1-20 1-21 1 21 1-10 1-8 1 12 1 20 1-24 1-1 1-46 1 35 1-55 1 80 1-53 1 69 1 53 1-108 1 53 1-30 1-31 1-10 1 43 1 26 1-34 1-60 1 14 1 25 1 49 1-35 1 1 1 27 1-46 1 3 1-4 1-52 1 71 1-3 1 17 1-70 1 11 1 55 1-20 1 33 1-73 1 33 1-29 1 31 1-26 1 32 1 16 1-14 1-81 1 88 1-17 1-49 1 5 1 28 1 17 1-34 1-39 1 61 1-4 1 73 1-122 1 123 1-26 1-48 1 44 1-52 1 28 1-56 1 25 1-36 1-19 1 42 1-14 1 40 1 22 1-48 1 7 1 4 1-62 1 63 1-9 1-2 1-36 1-29 1 56 1 18 1 33 1-7 1 10 1-36 1 25 1-45 1 27 1 9 1 58 1-81 1-51 1 87 1-72 1 24 1-9 1-20 1 73 1-25 1-40 1 22 1-17 1 34 1-33 1-14 1 4 1 6 1 24 1-41 1 27 1 17 1 62 1-49 1-128 1 81 1 3 1 24 1 40 1-28 1-102 1 86 1-7 1 10 1 30 1-82 1 72 1-92 1 56 1 10 1 63 1-101 1-34 1 79 1-46 1 73 1-77 1-6 1 70 1-40 1 30 1-83 1 103 1-77 1 47 1-63 1-19 1 42 1 14 1 46 1-42 1 11 1-3 1 82 1-134 1 69 1-49 1 13 1-29 1 57 1-83 1-4 1 37 1-33 1 62 1 6 1-58 1 51 1-51 1 20 1 1 1 63 1-66 1-32 1-2 1 72 1-100 1 40 1 2 1-73 1 67 1 50 1-28 1-41 1 54 1-7 1 50 1-97 1 11 1 13 1-7 1 6 1-8 1-22 1-33 1 34 1-30 1 10 1 16 1 35 1 11 1-68 1 46 1 15 1-31 1-58 1-19 1 102 1 3 1-24 1-49 1 87 1-10 1-46 1-8 1-63 1 95 1-85 1 79 1 1 1-24 1 51 1-69 1 31 1 7 1-21 1-25 1 57 1-30 1-23 1 0 1 9 1 76 1-79 1-13 1-31 1-6 1-26 1 76 1-9 1-39 1-18 1 41 1-8 1-30 1 57 1-6 1-8 1 28 1-52 1 72 1-87 1 54 1 3 1-33 1 21 1-60 1-9 1 46 1-20 1 47 1-21 1 20 1-11 1-5 1-5 1-18 1-4 1 90 1-139 1 56 1 43 1-22 1 35 1-32 1-67 1 33 1-40 1 87 1 16 1-70 1 35 1-35 1-39 1 36 1-43 1 37 1 28 1 18 1 20 1-60 1 20 1 6 1 4 1-126 1 76 1 57 1-71 1 50 1 21 1-101 1 62 1 15 1-9 1-57 1 68 1-34 1 51 1-15 1-37 1 26 1-33 1-1 1-33 1 49 1 38 1-26 1-5 1-24 1 4 1 46 1-83 1 131 1-80 1 83 1-38 1-59 1 42 1-18 1 7 1 11 1-50 1-3 1 7 1-36 1 41 1 17 1 1 1-3 1-22 1 43 1-106 1 61 1 2 1 45 1-9 1 4 1-30 1 35 1-74 1 40 1-82 1 142 1-5 1-82 1-10 1-47 1 21 1 61 1-11 1-49 1 36 1-7 1 42 1 9 1-35 1 12 1-5 1-78 1 85 1-10 1 30 1-97 1 97 1-52 1 33 1 36 1-101 1 6 1 86 1-80 1 6 1 59 1-31 1 37 1-18 1-13 1 38 1 45 1-86 1 59 1-13 1-39 1 13 1-52 1 12 1 33 1-12 1 50 1-98 1 38 1-13 1 18 1 49 1-89 1 77 1-54 1 10 1 49 1-48 1 36 1-21 1-11 1-7 1-52 1 37 1 34 1 1 1-63 1 93 1-16 1-71 1 10 1 58 1-85 1 38 1 26 1-3 1 3 1 16 1-44 1 11 1 96 1-130 1 35 1 22 1-29 1 70 1-43 1 26 1-127 1 143 1-2 1-71 1 77 1-39 1 25 1 33 1-64 1-42 1 38 1-48 1 18 1 2 1 2 1 70 1-12 1-65 1 76 1-106 1 39 1 19 1 51 1-18 1-10 1 32 1-22 1 25 1-81 1-34 1 48 1 47 1-22 1 24 1-7 1-7 1 12 1-58 1 68 1-79 1 34 1-49 1 72 1-77 1 111 1-103 1 60 1-15 1-27 1 80 1-63 1 71 1-94 1 9 1-45 1 96 1 14 1-26 1-15 1-28 1 123 1-60 1-97 1 57 1-86 1 158 1 15 1-20 1-56 1-21 1-30 1 73 1-48 1 14 1-10 1 13 1 45 1 30 1-57 1-5 1-43 1-4 1 6 1 74 1-24 1 27 1-20 1-31 1-31 1 33 1-40 1 129 1-65 1-24 1 89 1-89 1 36 1-27 1 20 1-27 1 33 1 35 1-100 1-36 1 135 1-44 1 27 1-43 1 70 1 11 1-112 1 70 1-48 1-37 1 51 1 33 1-72 1 4 1 95 1-44 1 15 1-57 1 19 1 30 1 3 1-1 1 56 1-53 1-63 1 26 1 31 1 51 1-72 1 12 1 14 1-24 1-3 1 23 1 46 1-18 1-27 1 26 1-61 1 86 1-9 1-15 1-71 1 137 1-183 1 73 1 4 1 61 1-80 1 65 1-13 1-4 1 43 1 22 1-37 1-24 1-73 1 140 1-65 1-56 1 75 1 49 1-58 1-37 1 127 1-60 1-9 1 26 1-116 1 78 1-3 1 90 1-103 1 1 1-30 1 22 1 23 1 18 1-16 1 81 1-55 1 7 1 27 1-26 1-42 1-37 1 71 1-43 1 79 1-75 1-53 1 83 1 39 1-46 1 14 1 0 1 58 1-51 1-12 1-21 1-36 1 111 1-8 1-76 1 57 1-10 1-25 1 3 1 40 1-71 1 26 1 16 1 4 1-7 1 16 1 12 1-51 1 36 1-21 1 74 1-105 1 43 1 35 1-35 1-1 1-7 1 32 1-53 1 40 1 0 1-49 1 64 1-26 1 29 1 20 1-17 1-55 1 55 1-68 1 31 1 88 1-59 1 57 1-62 1 8 1-39 1 74 1-40 1 31 1-6 1 4 1-6 1-12 1 2 1-23 1-50 1 94 1 58 1-35 1 46 1-65 1-50 1 0 1 63 1-14 1-16 1 33 1-56 1 50 1-27 1 17 1 37 1-46 1 55 1-1 1-72 1 110 1-125 1 42 1 30 1-105 1 118 1 5 1-43 1 15 1-1 1-14 1 46 1-49 1 13 1 15 1 18 1 10 1-89 1-18 1 67 1 4 1-34 1 49 1 13 1-8 1 45 1-92 1 38 1 67 1-42 1-61 1 47 1 35 1 32 1-48 1 19 1-77 1 30 1 51 1-73 1 32 1-61 1 116 1-54 1 25 1-70 1 8 1 108 1-73 1-5 1 37 1 2 1-84 1 34 1 37 1-1 1 13 1-25 1 6 1 18 1-30 1-4 1 11 1 20 1-4 1-10 1 9 1 8 1 13 1 3 1-55 1 78 1-86 1 73 1-41 1 45 1 17 1-97 1 84 1-10 1-24 1 30 1-28 1 21 1-38 1 63 1-6 1 6 1-45 1 84 1 5 1-67 1-9 1 1 1 37 1 13 1-58 1-41 1 83 1-15 1 8 1 12 1-52 1 39 1-10 1 23 1 28 1-38 1-27 1 69 1-16 1-29 1-51 1 31 1 34 1 14 1-34 1 33 1-34 1 8 1 32 1-25 1 14 1 25 1 9 1-55 1 12 1-34 1 2 1 52 1-25 1-42 1 78 1-43 1 17 1 25 1 0 1-14 1-61 1 83 1-36 1-25 1-25 1 114 1-37 1 0 1 17 1-21 1-44 1 69 1 11 1-14 1 33 1 13 1-85 1 12 1 43 1-21 1 1 1 24 1-5 1-36 1 18 1-25 1 17 1-28 1-26 1 47 1-2 1 47 1 22 1-47 1 14 1-33 1-8 1 20 1 1 1 19 1-5 1 49 1-57 1-44 1 56 1-24 1 28 1 29 1-54 1 19 1 19 1-45 1 37 1 11 1 9 1 10 1-16 1-4 1-55 1-38 1 53 1 74 1-39 1-72 1 57 1 25 1-67 1 75 1-52 1 68 1-30 1 94 1-134 1 50 1-53 1 80 1-30 1 25 1-24 1-38 1 16 1-17 1 7 1 37 1 28 1-5 1-10 1-32 1 33 1-41 1 33 1 20 1-30 1-8 1 1 1 33 1-28 1-32 1 31 1-19 1 77 1-44 1-44 1 53 1 14 1-9 1-22 1 16 1 5 1 22 1-18 1 57 1-73 1 52 1-44 1-51 1 17 1-19 1 4 1 87 1-54 1 38 1-44 1 27 1-30 1 57 1-32 1-5 1 9 1 70 1-51 1 13 1-61 1 18 1 29 1-63 1 95 1-31 1-8 1-4 1-1 1-7 1 57 1-20 1 17 1-45 1-16 1 67 1-75 1 19 1 39 1 12 1-70 1 32 1 9 1-3 1-21 1 46 1-34 1 9 1-57 1 63 1-52 1 77 1-5 1-28 1 20 1 0 1-7 1 16 1-13 1-9 1-8 1 72 1-42 1-5 1 22 1-31 1 2 1 31 1 11 1-9 1-61 1 45 1-1 1 15 1-37 1-4 1 28 1-21 1-4 1 29 1 29 1-21 1 29 1-59 1 49 1-19 1-24 1 14 1-11 1 19 1-14 1 57 1-44 1-28 1 35 1 17 1-19 1 34 1-48 1 2 1 70 1-44 1 16 1 0 1 3 1-14 1-6 1 36 1-42 1 18 1 16 1-29 1-30 1 56 1 17 1-21 1-52 1 64 1 37 1-95 1-31 1 68 1 10 1 20 1 2 1-19 1 13 1-5 1-5 1-4 1-2 1 24 1-7 1-21 1 41 1-48 1 14 1 11 1-54 1 42 1 34 1-1 1-52 1 10 1-5 1 23 1 5 1-40 1 52 1-6 1-3 1-15 1 14 1-42 1 54 1 0 1-7 1-28 1 66 1-3 1-78 1 60 1-6 1-70 1 81 1 4 1 3 1-14 1-20 1 4 1 27 1 18 1-42 1 6 1 26 1-73 1 68 1-17 1-50 1 77 1-43 1 45 1 16 1-67 1 2 1 31 1-44 1 64 1-13 1 21 1-71 1 52 1 8 1-58 1 70 1-58 1 41 1-38 1 54 1 24 1-41 1 0 1 33 1-44 1 13 1 21 1-10 1 30 1-9 1 19 1-48 1 29 1-48 1 44 1 22 1 16 1-91 1 28 1 23 1-39 1 36 1 1 1-26 1 0 1-10 1 32 1 25 1-24 1 63 1-107 1 23 1 32 1-45 1 38 1 12 1-15 1-10 1 30 1-13 1 8 1-4 1-30 1-10 1 18 1 15 1-9 1 29 1-17 1 18 1-21 1-20 1 39 1-8 1-33 1 11 1 81 1-154 1 113 1-27 1-3 1-5 1-5 1 72 1-70 1 4 1 28 1-10 1-14 1-2 1-26 1 61 1-54 1-34 1 88 1-8 1-10 1-21 1 43 1-56 1-28 1 59 1 17 1-5 1 37 1-31 1-26 1 1 1 27 1-23 1-2 1-40 1 36 1-24 1 38 1-2 1 15 1 27 1-49 1 41 1-65 1 33 1 20 1 25 1-76 1 21 1 11 1-6 1-21 1-17 1 10 1 29 1-31 1 78 1-14 1-78 1 36 1 45 1 4 1-8 1-64 1 27 1 41 1-29 1-13 1 24 1 12 1-21 1 3 1 21 1-41 1-8 1 42 1-49 1 43 1-31 1 40 1-51 1 58 1-20 1-15 1-13 1 17 1-18 1-7 1 57 1-12 1 16 1-64 1-14 1 9 1 56 1 4 1-66 1 72 1-36 1-18 1 28 1 16 1-19 1 1 1-16 1-14 1 26 1-30 1 55 1-35 1 54 1-71 1 74 1-56 1 0 1 30 1 15 1-23 1-7 1 58 1-36 1-42 1 24 1 48 1-33 1 13 1 30 1-64 1 24 1-25 1 17 1 14 1-46 1 37 1 1 1 22 1-39 1-17 1 42 1-37 1 32 1 10 1-34 1 18 1-21 1-44 1 34 1-15 1 52 1-26 1 23 1 3 1 27 1-33 1-1 1 22 1 27 1-40 1 11 1-13 1-12 1-19 1 35 1-4 1 1 1 54 1-55 1 16 1-15 1 37 1-35 1 52 1-50 1 25 1 6 1-30 1 27 1-18 1-20 1 3 1 24 1 35 1-54 1 25 1-31 1 25 1-37 1 13 1 19 1-17 1 12 1 30 1-26 1-14 1-12 1 17 1 40 1-29 1-1 1 21 1 3 1 4 1-32 1-13 1-17 1 23 1 8 1 26 1-9 1-21 1 34 1-50 1 5 1-3 1 3 1 20 1-14 1 2 1 50 1-66 1 10 1 19 1 16 1 1 1-17 1-2 1 2 1 24 1-39 1-33 1 60 1-32 1 26 1 34 1-30 1 41 1-80 1 43 1 4 1 10 1-36 1 21 1-1 1-1 1-34 1-8 1 53 1-4 1-7 1 14 1 11 1-53 1 46 1 17 1-11 1-10 1 3 1-50 1 22 1 36 1 11 1-24 1-21 1 8 1 23 1 28 1-29 1-30 1 27 1-5 1 46 1-41 1-13 1-3 1-26 1 4 1 14 1-8 1 24 1-2 1 19 1 14 1-31 1-8 1-39 1 52 1 7 1-33 1 9 1-7 1 41 1-10 1 14 1-56 1 90 1-81 1-4 1 29 1-17 1 54 1-51 1-6 1 39 1 6 1-48 1 9 1 3 1 4 1 44 1-10 1-5 1 5 1-28 1 20 1-22 1-15 1 55 1-78 1 41 1-14 1-24 1 29 1 11 1 9 1-29 1 36 1-10 1 12 1-62 1 34 1-4 1 28 1-30 1 5 1-14 1-1 1 6 1 44 1-46 1-31 1 62 1-17 1 24 1-1 1-19 1-2 1-3 1 13 1-17 1 22 1 28 1-47 1 1 1 1 1 28 1 1 1 18 1-16 1-13 1 8 1-39 1 42 1-8 1 43 1-15 1-50 1 6 1 33 1-66 1 26 1 30 1 6 1-10 1 23 1-32 1 8 1-6 1-20 1 26 1-13 1 15 1-60 1 61 1-14 1-1 1 15 1-11 1 31 1 8 1-8 1 2 1-13 1-7 1-28 1 20 1 36 1-10 1-27 1 14 1 21 1-27 1 40 1-52 1 35 1-2 1-11 1 3 1 6 1-62 1 61 1 15 1-16 1 17 1-51 1 25 1 9 1-12 1 32 1-15 1-22 1 30 1 0 1-27 1 24 1-5 1 0 1-35 1 56 1-14 1-14 1 8 1 1 1-14 1-6 1 15 1-14 1 3 1-15 1 20 1 28 1-17 1-3 1-8 1-2 1-23 1 69 1-51 1-17 1 42 1-3 1-16 1-21 1 3 1 64 1-36 1-11 1 54 1-51 1-8 1 32 1-4 1 26 1-66 1 40 1-43 1 47 1-24 1 5 1-6 1 34 1 17 1-36 1-3 1-5 1 22 1-33 1 98 1-80 1 42 1-33 1-32 1-4 1 25 1-6 1 10 1-19 1 75 1-5 1-83 1 49 1 15 1-32 1 3 1 28 1-11 1-37 1 52 1-36 1 50 1-60 1-28 1 51 1 24 1-14 1-8 1-22 1 39 1-58 1 56 1-42 1 13 1-15 1 9 1 51 1-56 1 29 1-21 1 39 1-50 1 29 1 19 1 29 1-72 1 6 1 18 1 32 1-52 1 39 1-30 1-9 1-11 1 37 1 18 1-23 1-42 1 33 1 32 1-2 1-12 1 26 1-58 1 1 1 76 1-35 1-18 1-6 1-44 1 72 1-61 1 3 1 40 1 33 1-40 1 17 1-17 1 18 1-43 1 79 1-64 1 32 1-54 1 80 1-28 1 33 1-55 1 36 1-26 1 3 1 29 1-46 1 35 1 25 1-4 1-14 1-15 1-27 1 51 1-44 1 39 1-31 1 7 1 0 1 13 1-22 1 13 1-14 1 22 1-5 1 4 1-27 1 25 1-6 1 12 1-11 1-21 1 35 1-28 1 20 1-49 1 54 1 3 1-32 1 31 1-19 1 36 1-15 1-39 1 22 1-32 1 30 1 18 1 6 1-19 1-2 1 8 1-15 1 19 1 17 1-19 1 14 1-33 1 6 1 17 1 35 1-20 1 14 1-33 1 24 1-59 1 45 1-52 1 67 1-14 1 14 1-15 1-18 1-5 1 19 1 27 1-17 1-24 1 0 1-3 1 11 1 2 1-7 1 10 1-32 1 64 1-27 1 26 1-24 1-10 1 6 1 3 1-17 1 6 1 46 1-20 1-29 1 21 1-26 1 44 1-48 1 39 1-18 1 1 1-17 1 11 1-10 1-1 1 26 1 41 1-57 1 27 1-20 1-14 1 41 1-14 1 10 1-20 1 1 1-19 1 11 1 38 1-78 1 53 1 21 1-13 1 2 1-23 1 28 1 0 1-23 1 34 1-43 1-39 1 49 1-2 1-15 1 8 1-2 1-25 1 60 1-24 1 53 1-53 1 8 1-38 1 50 1-41 1 32 1 7 1-3 1-31 1 0 1 31 1 8 1 6 1-29 1-2 1 37 1-46 1 26 1-21 1-22 1 6 1 31 1-5 1 6 1-17 1-3 1 16 1-10 1-27 1 23 1 41 1-48 1 26 1-13 1 16 1-31 1-8 1 33 1-22 1 13 1-6 1 25 1-14 1-2 1-22 1-11 1 14 1 33 1-3 1-2 1-20 1-12 1 42 1-18 1 6 1-28 1 4 1 26 1 2 1-34 1 25 1-28 1 46 1-11 1 31 1-15 1-42 1 17 1-13 1 12 1 12 1-15 1 1 1-27 1 37 1-12 1 12 1 8 1-19 1 12 1-25 1 30 1-19 1-11 1 7 1-23 1 14 1 5 1 8 1-2 1-11 1 9 1-38 1 43 1 8 1 5 1 5 1-25 1 2 1-7 1-1 1 12 1 23 1-59 1 23 1 15 1-25 1 27 1-35 1 20 1-26 1 37 1-21 1 27 1-18 1-13 1 10 1 10 1-3 1-5 1-2 1 7 1 15 1-27 1 19 1-34 1 42 1-11 1-14 1 0 1-26 1 33 1-7 1-22 1 18 1 18 1-8 1 2 1-17 1 26 1-17 1 16 1 25 1-80 1 28 1 9 1-15 1 32 1-26 1 37 1-18 1-7 1-9 1 15 1-8 1 18 1-21 1 10 1-13 1-2 1-37 1 28 1 6 1-31 1-5 1 18 1 9 1-39 1 36 1 9 1-24 1 6 1 2 1-24 1 21 1-6 1-34 1 28 1 3 1-40 1 31 1-25 1-24 1 0 1-2 1 19 1-24 1-5 1-22 1 15 1-30 1 2 1 14 1-8 1-30 1-2 1-1 1-20 1 8 1-10 1-36 1-32 1 4 1 9 1-18 1-15 1-18 1-42 1-5 1-5 1-31 1-9 1-47 1-23 1 27 1-38 1-23 1-9 1-11 1-13 1-91 1 16 1-13 1-58 1-19 1 0 1 6 1-31 1-4 1-39 1-7 1-11 1-26 1-17 1-10 1-50 1 35 1-29 1 7 1 14 1-4 1-24 1 30 1 8 1 1 1 15 1 9 1-13 1 30 1 13 1 6 1 30 1 9 1 27 1 10 1 43 1 35 1-14 1 29 1 21 1 26 1 13 1-7 1 56 1 14 1 7 1 33 1 15 1 30 1 11 1 19 1 24 1 19 1 14 1 34 1 2 1-1 1 55 1-12 1 37 1-30 1 40 1 31 1 4 1-9 1-1 1 9 1 17 1-5 1 12 1 4 1 7 1 29 1-29 1 41 1 15 1-23 1 6 1 21 1 4 1 23 1-50 1 39 1 31 1-21 1 34 1 11 1-47 1 40 1-15 1-8 1-2 1 3 1-11 1 16 1 22 1 8 1-29 1 19 1 0 1-51 1 59 1-35 1 3 1 38 1 17 1-51 1 5 1 0 1 8 1 4 1-7 1-14 1 64 1-42 1-4 1 32 1-23 1 28 1-5 1 5 1-26 1 20 1-40 1 4 1 28 1-7 1 32 1-30 1-28 1 35 1-6 1 10 1-25 1 8 1 16 1 13 1-5 1 6 1-41 1 24 1 9 1 14 1-13 1-9 1 3 1 1 1-25 1 28 1 15 1-1 1-48 1 35 1-28 1 49 1-10 1 4 1-26 1-23 1 17 1 13 1-21 1 9 1 53 1-58 1 35 1-45 1 40 1 12 1-7 1 14 1 12 1-60 1 31 1 5 1-1 1 22 1-24 1 17 1 0 1-19 1 8 1-24 1 20 1-2 1-6 1-6 1 28 1-20 1 45 1-18 1-10 1-25 1 28 1-14 1-1 1-22 1 32 1-6 1-13 1-4 1 8 1-20 1 15 1 37 1-38 1 56 1-69 1 46 1 0 1 2 1-11 1-41 1 52 1-1 1-19 1-45 1 65 1-38 1 13 1 28 1 2 1-17 1-18 1 43 1-10 1-25 1-15 1 24 1-31 1 59 1-24 1-15 1 14 1-39 1 30 1-10 1-18 1 18 1 19 1-33 1 23 1-24 1 31 1-36 1 46 1-1 1 4 1 18 1-30 1-1 1 9 1-20 1-27 1 13 1 0 1 27 1-16 1 5 1 18 1-7 1 34 1-38 1-17 1 42 1-32 1 7 1 20 1-15 1 10 1-25 1 6 1 18 1-22 1 3 1 7 1 30 1-2 1-23 1-3 1-14 1 38 1-17 1 10 1-43 1 41 1-12 1 12 1 5 1-19 1-7 1 20 1-35 1 49 1-20 1-27 1 45 1-6 1 10 1-9 1-10 1-9 1-19 1 34 1-3 1-19 1 19 1-28 1 37 1-17 1 2 1-18 1 31 1-15 1-13 1 18 1-11 1 23 1-48 1 7 1 59 1-47 1 19 1-17 1 12 1 44 1-85 1 47 1-9 1-1 1-15 1-3 1 43 1-16 1-31 1 22 1-25 1 78 1-46 1-40 1 50 1-5 1-6 1-3 1-13 1 7 1-34 1 61 1 13 1-27 1 2 1-37 1 17 1-18 1 2 1 34 1 17 1-28 1 47 1-30 1-57 1 34 1 32 1-22 1 17 1-51 1 55 1-46 1 29 1 33 1-38 1-6 1 19 1-30 1-2 1 36 1-46 1 4 1 56 1-56 1 32 1 12 1-22 1-18 1 35 1-33 1 57 1 2 1-61 1 30 1-24 1 21 1-12 1-14 1 28 1-40 1 36 1-8 1-12 1 31 1-16 1-7 1 3 1-1 1 22 1-23 1-48 1-4 1 38 1-4 1 18 1-20 1 10 1 40 1-49 1 40 1-18 1 27 1-8 1-15 1 19 1-16 1-25 1 30 1 0 1-11 1 7 1-13 1 14 1-11 1-23 1 23 1 35 1-14 1 12 1-28 1-7 1-12 1 22 1 16 1-4 1-1 1-23 1 11 1-16 1 30 1-5 1-23 1 15 1-45 1 55 1-28 1 8 1 18 1 2 1-25 1 41 1 8 1-10 1-3 1-23 1 25 1-42 1-5 1 24 1 2 1-21 1 49 1-60 1-11 1 30 1 38 1-16 1-8 1-4 1 8 1-4 1-4 1-5 1-27 1 47 1-25 1 15 1 2 1 10 1-34 1 30 1 0 1-18 1 1 1 4 1-21 1 10 1-13 1 43 1-36 1-6 1 23 1 7 1-17 1-10 1 25 1 8 1-46 1 47 1-50 1 45 1-20 1 3 1 18 1 13 1 12 1-13 1-13 1-37 1 17 1 10 1-13 1 21 1-15 1 37 1-36 1-20 1 14 1-4 1 26 1 13 1-7 1 0 1-32 1-7 1 5 1 16 1-7 1 11 1 14 1-18 1 30 1-45 1 25 1-12 1 19 1-19 1-9 1 7 1-14 1-4 1 35 1-26 1 33 1 24 1-53 1 22 1-17 1-33 1 32 1 29 1-49 1 19 1-1 1-23 1 32 1-9 1 13 1-9 1-27 1 28 1 9 1-17 1 15 1-1 1-49 1 50 1-48 1 13 1 21 1-16 1 3 1 34 1-39 1 40 1 11 1-8 1-45 1-8 1 28 1 37 1-43 1-6 1 7 1 15 1 8 1-22 1-3 1 11 1-9 1-9 1-25 1 33 1-14 1 6 1-2 1-11 1 24 1 8 1-11 1-22 1 13 1 8 1-16 1 13 1-39 1 19 1 26 1-9 1-22 1 2 1 32 1-21 1-33 1 14 1-16 1-6 1-14 1 28 1 20 1-27 1-39 1 25 1-37 1 21 1 8 1 0 1-26 1-3 1-11 1-9 1 18 1-43 1-16 1 39 1-1 1-60 1 27 1-10 1-24 1-14 1 6 1-14 1 6 1-25 1 13 1-28 1 18 1-15 1-4 1-23 1-4 1-4 1 9 1-23 1-5 1 3 1 4 1-6 1 0 1-13 1 8 1-3 1 24 1-8 1 11 1-16 1 18 1 10 1-9 1 10 1 9 1 14 1 9 1-12 1 28 1 7 1 9 1-7 1 18 1 26 1 6 1-15 1 37 1-19 1 1 1 35 1-4 1 36 1-30 1 12 1 15 1 0 1-4 1 11 1 6 1 5 1 5 1-19 1 43 1-20 1 11 1-5 1 13 1 23 1 8 1-12 1 0 1-8 1 7 1 11 1-4 1-12 1 20 1-17 1 55 1-28 1-14 1 20 1-20 1 10 1 33 1-4 1-41 1 2 1 11 1 49 1-37 1 4 1-12 1 33 1-6 1-46 1 16 1-17 1 12 1 7 1-9 1 13 1 24 1 8 1-17 1 11 1-36 1 50 1 15 1-42 1 13 1-4 1-44 1 57 1-10 1-36 1 21 1 28 1-10 1-34 1 15 1-2 1 15 1-15 1 14 1-4 1-23 1 34 1-2 1-17 1 26 1 27 1-68 1 32 1 11 1-14 1-10 1 49 1-48 1 7 1-9 1 33 1-59 1 22 1 8 1 14 1 1 1 12 1-20 1-11 1 13 1-15 1 7 1 1 1 14 1 9 1-34 1 9 1 11 1 1 1-5 1 15 1-14 1-27 1 54 1-45 1 51 1-24 1 1 1-31 1 31 1-8 1-12 1 25 1 4 1 8 1-43 1 8 1 39 1-15 1 5 1-24 1 16 1 8 1-35 1 9 1 17 1 20 1-32 1 20 1-26 1-6 1 31 1-28 1 18 1-10 1 19 1-31 1-2 1 0 1 21 1 26 1-8 1-11 1-6 1 24 1-23 1 20 1 6 1-12 1-5 1 0 1-8 1 7 1-20 1 0 1 42 1-29 1-27 1 53 1 0 1-15 1-29 1 55 1-15 1 3 1-26 1 12 1-12 1 1 1-16 1 6 1 5 1 10 1 16 1-7 1-41 1 49 1-43 1 34 1-12 1 5 1-9 1-10 1 46 1-70 1 27 1 38 1-23 1 1 1-15 1-4 1 29 1-13 1 9 1 8 1-43 1 12 1 6 1 16 1 8 1-29 1 14 1 2 1 0 1 29 1-39 1 15 1-42 1 38 1 4 1 10 1-20 1-1 1-11 1 12 1 50 1-70 1 0 1 31 1-17 1 37 1-47 1 55 1-36 1-21 1-9 1 23 1 4 1 18 1-29 1 75 1-38 1-17 1-6 1 56 1-60 1 27 1 12 1-41 1 26 1-18 1 32 1 2 1-16 1-6 1-24 1 63 1-16 1-13 1 13 1-25 1-19 1 35 1-33 1 8 1 22 1-40 1 28 1-6 1-15 1 0 1 17 1-2 1 8 1-28 1 27 1-23 1 8 1 30 1-28 1 3 1-5 1 14 1 14 1-20 1 17 1-34 1 31 1-10 1 3 1-17 1 5 1 16 1-25 1 33 1-21 1 16 1-27 1-9 1 39 1 1 1-13 1 12 1-11 1 12 1-9 1-19 1 35 1-35 1 55 1-41 1-14 1 13 1 5 1 1 1 7 1-20 1-25 1 21 1 22 1 12 1-53 1 36 1 17 1-43 1 53 1-42 1 11 1-7 1 40 1-16 1-13 1-8 1-23 1 24 1-5 1 8 1-31 1 55 1-6 1 12 1-38 1 10 1-21 1 36 1-19 1 33 1-16 1 1 1-4 1-35 1 38 1-40 1 33 1 5 1-31 1 10 1 7 1 8 1 0 1-4 1-16 1 20 1 38 1-53 1 38 1-48 1 9 1 34 1-8 1 13 1-17 1-21 1 12 1-9 1 25 1-7 1 11 1-33 1 7 1-3 1 1 1 4 1 24 1-19 1 18 1-17 1-34 1 7 1 20 1 23 1-19 1-26 1 28 1-7 1 15 1 4 1-10 1-15 1-7 1 12 1 4 1 8 1-14 1-3 1 19 1 6 1-9 1-23 1 12 1 43 1-56 1 13 1 22 1-33 1 12 1 27 1-5 1-48 1 41 1-15 1-19 1 42 1-27 1 8 1-14 1 29 1 2 1-2 1 28 1-31 1-16 1 15 1-3 1 7 1-53 1 56 1 20 1-20 1-25 1 48 1-24 1 23 1-18 1-22 1-23 1 30 1 8 1-16 1-15 1 37 1-27 1 36 1-33 1 16 1-12 1 12 1 3 1-45 1 24 1 2 1-1 1 9 1 21 1-37 1 27 1-16 1-5 1-14 1 12 1-5 1 26 1 18 1-16 1 3 1-26 1 25 1-26 1-1 1 20 1-15 1 21 1-8 1-7 1-5 1 13 1 1 1-3 1 18 1-29 1-13 1 1 1 6 1 1 1 13 1 30 1-45 1 3 1 6 1-8 1 4 1 25 1 9 1-33 1 11 1 17 1-10 1-9 1 9 1-7 1-10 1 20 1-19 1 2 1 14 1-25 1 31 1-23 1-5 1 26 1 2 1 5 1 6 1-39 1 13 1-14 1 6 1 26 1-9 1-1 1 3 1-14 1 28 1-37 1 27 1-21 1-5 1 49 1-40 1 18 1-25 1 1 1 32 1-13 1-5 1 6 1 3 1 4 1-6 1 3 1-6 1-3 1 16 1-54 1 49 1-13 1 3 1-7 1-8 1 22 1-30 1 3 1 0 1 44 1-27 1-1 1-23 1 25 1 12 1-32 1 19 1 3 1 6 1 6 1 17 1-33 1 1 1-11 1 26 1-16 1 8 1 4 1-14 1-1 1 6 1 0 1-2 1-3 1 2 1 20 1-29 1 11 1-1 1 17 1-26 1 5 1-4 1 21 1-2 1-4 1-4 1 34 1-32 1-36 1 8 1 1 1 15 1-17 1 24 1-23 1 22 1-9 1 18 1-6 1-17 1 45 1-48 1 10 1-14 1 38 1 0 1-17 1-39 1 53 1 17 1-44 1 22 1 7 1-14 1-20 1 16 1-7 1 20 1-38 1 37 1-7 1-27 1 9 1 26 1 12 1-7 1 33 1-44 1-23 1 20 1-12 1-28 1 57 1-33 1 1 1 45 1-41 1-3 1 28 1 16 1-61 1 13 1 8 1 23 1-9 1 15 1-43 1 22 1 26 1-54 1 48 1-32 1 19 1-22 1 28 1 2 1-15 1 30 1-44 1 33 1-35 1 34 1-2 1-25 1 38 1-27 1-22 1 17 1 21 1-14 1 14 1 8 1-9 1-5 1-5 1 4 1 16 1-34 1 7 1 17 1-30 1 33 1-16 1 8 1-18 1 6 1 24 1-38 1 35 1 1 1-17 1-33 1 14 1 24 1 11 1-40 1 29 1-2 1-29 1 28 1-15 1-13 1 55 1-42 1-12 1 1 1 55 1-16 1-7 1-23 1 21 1-6 1 11 1-36 1 36 1 5 1-31 1-1 1 13 1-20 1 18 1 0 1 27 1-39 1 11 1 27 1-50 1 46 1-25 1 17 1-10 1 11 1-66 1 44 1-24 1 31 1-6 1 12 1 27 1-19 1-2 1 4 1-15 1 29 1-14 1-10 1 20 1-27 1-2 1-6 1-9 1 4 1 39 1-27 1 7 1 13 1-15 1-14 1 3 1 6 1 25 1-26 1-1 1 18 1-8 1 1 1 3 1 24 1-34 1-2 1 38 1-45 1-14 1 43 1-22 1 8 1 2 1-21 1 27 1-28 1 34 1 5 1-30 1 29 1-15 1 28 1-30 1-30 1-1 1 45 1-22 1 14 1-25 1 9 1-27 1 43 1 7 1-26 1 21 1-20 1 18 1-14 1-7 1 22 1-38 1 61 1-56 1-7 1 37 1-21 1 27 1-33 1 47 1-3 1-38 1 50 1-40 1 7 1-11 1 16 1 2 1-9 1 7 1-2 1 5 1-29 1 15 1-13 1 19 1 0 1-2 1-9 1 42 1-46 1 25 1-16 1 31 1-4 1-13 1 4 1-25 1-3 1 30 1-12 1-26 1 23 1-19 1-2 1 23 1 2 1-7 1-3 1-9 1 14 1 2 1-6 1 46 1-43 1 7 1-15 1 10 1 4 1 8 1-59 1 67 1-8 1-5 1-21 1-12 1 11 1 30 1-1 1-11 1 12 1-27 1-2 1 38 1-2 1-5 1 5 1-19 1-36 1 33 1 22 1-22 1 16 1-1 1-25 1 23 1-7 1-25 1 41 1-35 1 25 1 1 1-21 1-2 1 22 1-3 1 16 1-17 1 6 1-6 1 13 1-32 1-14 1 38 1-11 1-7 1 38 1-51 1 19 1 19 1-18 1-3 1 12 1-11 1-22 1 6 1 33 1 0 1-30 1 23 1 6 1 1 1 13 1-8 1-17 1-3 1 15 1-29 1-8 1 40 1 5 1-9 1-4 1-31 1 3 1 13 1 37 1-32 1 8 1-16 1 35 1-52 1 57 1-27 1-42 1 44 1 8 1 0 1-2 1-12 1 0 1 7 1-12 1 38 1-47 1 21 1-7 1-18 1 46 1-19 1-15 1-3 1 10 1 30 1-22 1-18 1 17 1-14 1 20 1-1 1 5 1-7 1-3 1-23 1 25 1 14 1-41 1 38 1-24 1-1 1 1 1 21 1-11 1 3 1-19 1 41 1-41 1 37 1-1 1-8 1-32 1 21 1-13 1 37 1-20 1 2 1-3 1 1 1 12 1 18 1-22 1 8 1-9 1-4 1-26 1 13 1-4 1 20 1-57 1 12 1 27 1 15 1-12 1 4 1 13 1 12 1 4 1-18 1 9 1-24 1-8 1 24 1 16 1-16 1-39 1 47 1 14 1-19 1-16 1-9 1-4 1 41 1-28 1 1 1 1 1 1 1 8 1-12 1 12 1-14 1-4 1-16 1 30 1 19 1-11 1 8 1-24 1-6 1 0 1-5 1 30 1 7 1-31 1 18 1-29 1 27 1 8 1-26 1 33 1-27 1 11 1 23 1-51 1 32 1-12 1 28 1-24 1-3 1 11 1 20 1-37 1-6 1 3 1 27 1-44 1 10 1 8 1-4 1 12 1-9 1-21 1 68 1-19 1-20 1-6 1-2 1-18 1 11 1 21 1 2 1 18 1-23 1-10 1 25 1-5 1-30 1 9 1 25 1-26 1 14 1-18 1 33 1 16 1-66 1 17 1 28 1-7 1-6 1-19 1-8 1 22 1 22 1 1 1 22 1-66 1 31 1 1 1 27 1-42 1 33 1-47 1 43 1-33 1-2 1 23 1-13 1 11 1-6 1-12 1 27 1-18 1-7 1 0 1-20 1 10 1 26 1-1 1-6 1 24 1-22 1 0 1 9 1-3 1 13 1-27 1 10 1-1 1-6 1 4 1 17 1 9 1-23 1-1 1 4 1 15 1-9 1 17 1 4 1-12 1-27 1 3 1 0 1-2 1 24 1-26 1 18 1-14 1-8 1 34 1-43 1 45 1-44 1 30 1-3 1 0 1-6 1-9 1 6 1 26 1-6 1 20 1-17 1-8 1-7 1-6 1 25 1-27 1 0 1-5 1 19 1 43 1-57 1-23 1 16 1 25 1-20 1-2 1 19 1-12 1-13 1 21 1-23 1 14 1 32 1-66 1 62 1-56 1 34 1-38 1 29 1-7 1 2 1-4 1 38 1-9 1-40 1-4 1 26 1-20 1 54 1-9 1-12 1-38 1 16 1 27 1-30 1 26 1-11 1 15 1-16 1 0 1-20 1 18 1-11 1 25 1-34 1 36 1 3 1-6 1-35 1 4 1 23 1-1 1-8 1 3 1-14 1 1 1-1 1 8 1 7 1-3 1-10 1 32 1-14 1-19 1 59 1-84 1 51 1-4 1-15 1-7 1 15 1 18 1-2 1-7 1-4 1-3 1 14 1-13 1 2 1 18 1-30 1 14 1-7 1-12 1 37 1-39 1 10 1-8 1 21 1 2 1 17 1 0 1 0 1-18 1 8 1-20 1-12 1 35 1-32 1 24 1 13 1-24 1 23 1-21 1-3 1 12 1 19 1-49 1 24 1-16 1 16 1 4 1-31 1 6 1 31 1-7 1-17 1 11 1 14 1-1 1-48 1 25 1 35 1-33 1 0 1 9 1 3 1-2 1 2 1-18 1 19 1 6 1-11 1-4 1-9 1 14 1-22 1 12 1 4 1-34 1 40 1-28 1 10 1 0 1 8 1 2 1 13 1-27 1 11 1 13 1-16 1-2 1 15 1 7 1-2 1-29 1 22 1-2 1 27 1-27 1-4 1 26 1-33 1 31 1 0 1-21 1 6 1 6 1 25 1-31 1-10 1 18 1-9 1-14 1 13 1 6 1 12 1-10 1 0 1-17 1 24 1-26 1-1 1 4 1-6 1 15 1 9 1-10 1-7 1 10 1-12 1 24 1 7 1-27 1-1 1 21 1 20 1-39 1 25 1-13 1-22 1 14 1 5 1-12 1 37 1-68 1 29 1 0 1-4 1 1 1 11 1 8 1-7 1 9 1-13 1-13 1 5 1 30 1-28 1 2 1 13 1 3 1-10 1 13 1 10 1 3 1-22 1-24 1 4 1 0 1 21 1 15 1-12 1 7 1 33 1-66 1 40 1-22 1-9 1 4 1 1 1 36 1-25 1 16 1-43 1 45 1-17 1 8 1-29 1 23 1-7 1-5 1 4 1 2 1 3 1-19 1 26 1-33 1 4 1-11 1-17 1 71 1 0 1-35 1 1 1-8 1 15 1-1 1-17 1 16 1-21 1 19 1 22 1-8 1-7 1-8 1 35 1-34 1-31 1 29 1-31 1 36 1-3 1 27 1-2 1-26 1 1 1 15 1-28 1 4 1 36 1-40 1 20 1 36 1-45 1 36 1-51 1 7 1 36 1-10 1-11 1-2 1 18 1 13 1-48 1 12 1 22 1-20 1 20 1-30 1 37 1-10 1-8 1 2 1 20 1-45 1 24 1-18 1-1 1 37 1-16 1-3 1 7 1-19 1 28 1-27 1 17 1-9 1 14 1-29 1 26 1 1 1-11 1-10 1-9 1 10 1 12 1-13 1-19 1 37 1-3 1-14 1-14 1 10 1 2 1-2 1 12 1-34 1 32 1-6 1 19 1-28 1 12 1-3 1-27 1 68 1-41 1 13 1-6 1-5 1 2 1-30 1 37 1-14 1 4 1 22 1-17 1 31 1-11 1-10 1-4 1-22 1 52 1-8 1-30 1 4 1-25 1 43 1-15 1 0 1-9 1 3 1-3 1-2 1-1 1-1 1 37 1 9 1-69 1 30 1-10 1 0 1 22 1-65 1 66 1-44 1 34 1-10 1-4 1 10 1-17 1 47 1-57 1 1 1 24 1 3 1 21 1-24 1-16 1 9 1-3 1 6 1 14 1-13 1-5 1 21 1-26 1 14 1 7 1-16 1 28 1-21 1 32 1-32 1-5 1-10 1 20 1 9 1-35 1-6 1 10 1 20 1 0 1-15 1 8 1 6 1 8 1-26 1-10 1 22 1 35 1-36 1 1 1 9 1-29 1 38 1-24 1-16 1 26 1 0 1 19 1-7 1-16 1 22 1-1 1 16 1-41 1 14 1-14 1 15 1 19 1-7 1-20 1-33 1 27 1 6 1 12 1 13 1-2 1-12 1 9 1-29 1 2 1 33 1-16 1 10 1-1 1-3 1-14 1 16 1-13 1 14 1 2 1-18 1 33 1-29 1 21 1-40 1 31 1-33 1 4 1-9 1 19 1 6 1-9 1 44 1-21 1-31 1 17 1-4 1 8 1-5 1-22 1 52 1-11 1-9 1 9 1-12 1-18 1-7 1 29 1-24 1 7 1-12 1 29 1-17 1 10 1-10 1-12 1 27 1-10 1-12 1 26 1 7 1 9 1-16 1-8 1 11 1-28 1 11 1 3 1-29 1 36 1 6 1-18 1 22 1-34 1 31 1 1 1-25 1 9 1-8 1-11 1-4 1 4 1 23 1-31 1 23 1 42 1-29 1-7 1-11 1-29 1 49 1 3 1-18 1-11 1 13 1-13 1 28 1-17 1 14 1-26 1-9 1-15 1 42 1-26 1 41 1-19 1 0 1-30 1 41 1-2 1 13 1-28 1 10 1 2 1 5 1 3 1-10 1 4 1 4 1 11 1-7 1-10 1-8 1-4 1 19 1-26 1-2 1 15 1-7 1 4 1 9 1-7 1 6 1 1 1-6 1-12 1 22 1-8 1-10 1-6 1 16 1 29 1-30 1 13 1-20 1-5 1 29 1-12 1-22 1 35 1-20 1 19 1 2 1-21 1-11 1 33 1 13 1-29 1-28 1 17 1 16 1-38 1 17 1-2 1 6 1 40 1-29 1 23 1-22 1-3 1-3 1 3 1 21 1-6 1-4 1 3 1-33 1 7 1-12 1 12 1 27 1-31 1 0 1 5 1-12 1 22 1 9 1 10 1-17 1 6 1 8 1-25 1-1 1 15 1-4 1-5 1 3 1-9 1-7 1 19 1-11 1-5 1 24 1-9 1 16 1-28 1 28 1 12 1-37 1-2 1-4 1 1 1 8 1 8 1-12 1 15 1-24 1 11 1 19 1 5 1 7 1-2 1-6 1-43 1 14 1 2 1 8 1 7 1 16 1-30 1-33 1 20 1 26 1 4 1-27 1 31 1-10 1 17 1-61 1 42 1-4 1 3 1-7 1-6 1 6 1-14 1-17 1 46 1-18 1-7 1 35 1-24 1 2 1 12 1-16 1 9 1-16 1 30 1-16 1 25 1-16 1 9 1-26 1-2 1 22 1 0 1-17 1 13 1-13 1 11 1-19 1 23 1-18 1 14 1-13 1 6 1 0 1 2 1 16 1 8 1-20 1-25 1 17 1-15 1 36 1-20 1-4 1 9 1-13 1 17 1-5 1-25 1 30 1-18 1 20 1-44 1 57 1-32 1 1 1 22 1-29 1 26 1-39 1 46 1 1 1-12 1-33 1 29 1-3 1-11 1-7 1 7 1-4 1 10 1 14 1-16 1 10 1-8 1-9 1 11 1-6 1 10 1 19 1-54 1 30 1-32 1 24 1-18 1 27 1 18 1-36 1 14 1-18 1 16 1 17 1-36 1 6 1-14 1 26 1 2 1-15 1 16 1-34 1 28 1-8 1-20 1-2 1 8 1 22 1 5 1-11 1 12 1-18 1-13 1 29 1-13 1-25 1 10 1 16 1 2 1-11 1-19 1 13 1 21 1-15 1 6 1-32 1 6 1 9 1-2 1-8 1-23 1 25 1-3 1-13 1 18 1 18 1-32 1-5 1 11 1 12 1-27 1-6 1-5 1 27 1-17 1-3 1-12 1-10 1-4 1 17 1 5 1-33 1 20 1-37 1-9 1 20 1 4 1 2 1-18 1-7 1 18 1-45 1 32 1-7 1-18 1 3 1 19 1-48 1 20 1-12 1 10 1-1 1-2 1 1 1-1 1-6 1-18 1 2 1 14 1-14 1 9 1 1 1-36 1 41 1-12 1-1 1 2 1-2 1 2 1-15 1 5 1-3 1 3 1 4 1 0 1-2 1-2 1-1 1 7 1-4 1 3 1 15 1 4 1-10 1 0 1-11 1 20 1 7 1-2 1 2 1 17 1 0 1-9 1 27 1-1 1 13 1-19 1-4 1 8 1 4 1-6 1 23 1-15 1-13 1 35 1-6 1 10 1-9 1-15 1 49 1-10 1-6 1 7 1 17 1-10 1-4 1 5 1-15 1 24 1-3 1 12 1-14 1 3 1-14 1 21 1 3 1-1 1 24 1-2 1-8 1-13 1 18 1 51 1-55 1 3 1 15 1-22 1 22 1-26 1 21 1 4 1 2 1 12 1-13 1-1 1 16 1-14 1 14 1-17 1 11 1-7 1 7 1-7 1 7 1-38 1 58 1-34 1 19 1-16 1 45 1-14 1 13 1-35 1 10 1 14 1-20 1 40 1-21 1-2 1-11 1 22 1-20 1-21 1 22 1-16 1 17 1 7 1-11 1 0 1-22 1 16 1 35 1-41 1-14 1 28 1 25 1-8 1-13 1 2 1-7 1 11 1-2 1-5 1-26 1 20 1-3 1-5 1 18 1 0 1-13 1 21 1-13 1-6 1 21 1-2 1 26 1-21 1-8 1-4 1-12 1-16 1 23 1-6 1 11 1 11 1-14 1 13 1 27 1-40 1-3 1 26 1-2 1 8 1-39 1-11 1 48 1-3 1-19 1-39 1 69 1-6 1-7 1-46 1 30 1-15 1 14 1 21 1-25 1-14 1-3 1 25 1-21 1 9 1-4 1-5 1 2 1-9 1 44 1-15 1-13 1 39 1-31 1 13 1-11 1-11 1-6 1 6 1 29 1-34 1 13 1-9 1 13 1-2 1-15 1 19 1-16 1 22 1-6 1-5 1 5 1 4 1 9 1 0 1 0 1-7 1-10 1 8 1-13 1-2 1 11 1 4 1-22 1 25 1-8 1-4 1 0 1 3 1 21 1-45 1 34 1-34 1 32 1-17 1-16 1 42 1-44 1 13 1-5 1 13 1-17" stroke="#ff0000"/>
<path vector-effect="non-scaling-stroke" d="M0 1773l1-132 1 87 1-27 1 5 1 8 1-51 1 53 1-17 1 121 1-88 1-15 1 3 1-10 1-10 1 20 1 26 1-19 1 35 1-32 1 8 1 44 1-27 1-29 1 10 1 21 1 41 1-62 1 2 1 36 1-52 1 18 1 34 1-8 1-13 1 17 1-98 1 110 1-55 1-19 1 55 1 13 1-32 1-17 1 32 1-2 1 42 1-18 1-15 1 26 1-36 1-20 1 43 1 0 1-21 1-16 1 29 1-75 1 89 1-5 1-59 1 48 1-29 1 49 1-77 1 31 1 46 1 12 1-91 1 46 1 24 1-26 1 61 1-76 1 43 1-39 1 69 1-40 1-9 1-37 1 94 1-25 1 0 1 11 1-21 1-27 1-4 1 0 1 60 1-77 1 24 1 8 1 15 1 10 1-50 1-13 1 48 1 34 1-12 1-15 1-14 1 17 1-15 1 30 1-44 1 26 1-7 1 19 1-9 1 64 1-28 1 0 1-97 1 47 1-7 1 32 1-77 1 95 1-2 1-65 1 10 1 5 1 23 1 17 1 39 1-61 1 27 1-16 1 44 1-27 1 17 1-66 1 25 1-17 1 64 1-23 1-25 1-4 1 26 1-31 1-6 1 39 1 54 1-72 1-8 1-16 1-4 1 51 1 10 1-22 1 9 1-5 1 1 1-44 1 29 1 16 1-23 1 9 1-9 1 14 1 33 1-33 1 7 1 27 1-4 1 28 1-100 1 79 1-35 1 17 1 20 1 7 1-1 1-22 1 39 1-50 1 5 1 25 1-35 1 72 1-29 1 31 1-58 1-9 1 15 1 16 1-35 1 26 1-9 1 43 1-60 1 46 1-44 1-8 1 7 1-12 1 35 1 24 1-23 1 13 1 27 1-36 1-2 1-12 1-34 1 62 1-66 1 64 1-18 1 30 1-31 1-19 1 31 1-24 1 10 1 6 1-4 1-2 1-16 1 17 1-51 1 52 1-27 1 60 1 4 1-84 1 55 1-7 1-23 1 41 1-26 1-34 1 39 1 4 1 6 1-34 1 48 1 3 1-49 1 13 1 15 1-12 1 60 1-40 1-32 1 6 1 19 1 62 1-64 1 8 1 10 1-15 1 61 1-73 1 33 1-15 1 12 1-47 1 77 1-49 1 4 1-25 1 6 1 33 1 11 1-6 1 12 1-12 1-18 1 21 1-6 1-18 1 21 1 15 1-27 1-15 1 28 1 31 1-55 1 3 1-1 1 35 1-79 1 57 1 22 1-52 1 60 1-25 1-28 1 20 1-45 1 25 1 63 1-71 1 71 1-49 1 28 1-25 1-59 1 43 1 20 1-34 1-5 1 44 1-26 1-27 1 27 1 40 1-34 1 36 1 16 1-39 1-30 1-4 1 33 1 24 1-16 1 7 1-25 1 19 1-19 1 4 1-25 1-7 1 28 1-16 1 4 1 42 1-20 1 78 1-51 1-40 1 37 1-11 1-27 1 46 1-48 1-58 1 99 1-36 1 54 1-55 1-14 1 71 1-68 1 33 1 32 1-34 1-5 1 5 1 19 1-42 1 36 1 0 1 45 1-69 1-15 1 43 1-29 1 17 1-4 1 27 1-47 1 15 1-64 1 43 1 62 1-57 1 0 1-14 1 47 1-11 1-35 1 48 1-11 1 13 1-36 1 61 1-34 1-14 1-11 1 7 1 29 1-30 1 35 1-13 1 20 1-14 1-23 1-48 1 57 1 12 1-16 1 10 1-27 1 2 1-14 1 59 1-31 1-17 1-22 1 30 1 41 1-26 1-30 1 55 1 0 1-12 1-5 1 9 1-16 1 6 1-41 1 59 1-33 1 46 1-105 1 71 1 6 1-34 1 20 1 8 1-5 1-29 1 10 1 30 1 6 1-31 1 0 1 3 1 21 1-54 1-8 1 38 1-32 1 13 1 17 1 10 1-40 1 48 1-67 1 60 1-55 1 7 1 50 1-27 1-11 1 9 1 24 1-14 1 1 1 28 1-47 1 6 1-1 1 44 1-5 1 8 1-35 1-3 1 26 1-33 1 32 1-3 1-38 1 16 1-1 1 49 1 22 1-71 1 3 1-60 1 65 1-6 1-28 1 48 1-62 1 36 1 9 1-37 1 55 1 5 1-64 1-1 1 53 1-17 1-31 1 24 1 4 1-1 1 26 1-12 1 36 1-11 1-18 1 10 1 6 1-16 1-51 1 55 1-21 1 40 1-40 1 11 1-6 1 36 1-40 1-12 1 15 1-20 1 16 1-5 1 7 1 43 1-61 1 11 1-6 1 22 1-49 1 13 1 17 1 15 1-16 1-12 1-10 1 36 1 24 1-30 1-3 1 6 1-37 1 17 1 0 1 15 1-9 1-32 1 62 1 15 1-52 1 17 1-4 1 13 1-60 1 82 1-56 1 46 1-32 1-13 1 6 1 28 1-48 1 13 1-3 1-33 1 80 1-20 1-16 1 31 1-57 1 23 1 48 1-20 1-87 1-30 1 61 1 56 1-41 1 6 1 22 1-41 1 30 1 15 1-9 1-3 1-27 1 30 1-26 1 46 1 34 1-90 1-39 1 47 1 21 1 18 1 0 1-51 1-1 1 56 1-65 1 59 1-36 1 26 1-2 1 2 1 0 1-49 1 34 1-8 1 8 1 24 1-41 1-13 1-1 1 11 1 29 1-44 1 54 1-25 1-14 1-31 1 43 1 11 1-68 1 81 1 12 1-37 1 4 1 52 1-33 1-59 1 23 1-4 1-1 1-61 1 85 1-39 1 22 1-9 1 27 1-33 1-15 1 36 1 24 1-48 1 46 1-32 1-22 1 56 1-66 1 50 1-42 1 25 1-47 1 10 1 52 1-25 1-5 1-14 1 24 1-52 1 7 1 26 1-20 1 3 1 17 1-2 1-4 1 53 1-20 1 6 1-36 1-14 1-28 1 30 1-49 1 41 1 37 1 24 1-19 1-53 1 38 1-37 1 44 1-27 1 27 1 48 1-48 1 39 1-62 1-15 1 47 1 10 1-66 1 17 1-44 1 35 1 30 1-29 1-15 1-24 1 50 1 11 1-7 1-10 1-45 1 86 1-53 1-4 1 25 1-85 1 60 1-3 1 14 1 27 1-26 1-68 1 42 1 15 1-3 1-42 1-12 1 63 1-7 1-12 1-50 1 101 1-138 1 73 1 71 1-67 1 11 1-43 1 74 1-79 1 44 1-4 1-36 1 56 1-69 1 21 1 18 1-12 1 25 1 12 1-37 1-8 1-1 1 4 1 34 1-32 1 18 1-16 1-24 1 50 1-57 1 30 1 43 1-78 1 30 1-47 1 31 1-30 1 33 1-6 1 19 1 43 1-41 1 11 1-23 1-6 1-19 1-30 1 55 1 47 1-36 1-32 1 66 1-64 1-7 1-19 1 7 1 21 1 67 1-68 1-26 1 12 1 11 1-47 1 56 1 16 1-12 1 8 1-59 1-14 1 91 1-7 1-81 1 52 1-6 1 15 1-11 1-23 1 21 1-2 1-8 1-56 1-37 1 68 1-27 1 57 1 14 1-15 1-21 1 13 1 33 1-60 1 51 1-8 1-15 1 36 1-68 1 51 1-60 1 4 1-10 1 46 1-44 1 30 1-38 1 68 1 23 1-51 1 43 1-35 1 50 1-66 1-54 1 95 1-52 1-30 1 11 1-31 1 45 1-30 1 80 1-27 1-75 1 3 1 29 1-44 1 56 1 1 1-24 1 6 1 32 1 28 1 1 1-48 1 25 1-53 1 36 1-45 1 52 1-64 1 7 1 30 1 16 1-65 1 27 1 21 1 1 1-36 1 29 1-13 1 52 1-29 1-62 1-30 1 73 1 34 1-35 1 22 1-46 1-30 1 67 1-23 1 18 1-69 1 50 1-29 1 46 1-47 1-3 1 0 1 59 1-42 1-28 1-10 1-2 1 81 1-110 1 30 1 49 1 16 1-46 1 30 1-2 1 6 1-33 1 52 1-49 1 43 1-90 1 67 1-75 1-9 1 66 1-46 1 41 1-52 1 89 1-55 1-40 1 43 1 22 1-57 1 43 1 50 1-41 1-31 1-20 1 38 1-73 1-53 1 80 1-16 1 96 1-56 1-40 1-7 1 56 1-47 1 7 1 16 1 5 1-1 1 0 1 39 1 13 1-117 1 145 1-86 1 38 1-70 1 36 1-5 1-5 1 25 1-9 1-58 1 30 1 28 1-2 1-37 1 1 1 3 1-34 1-8 1 99 1-70 1 16 1-30 1 70 1 15 1-70 1 25 1-46 1 87 1-30 1-63 1 72 1-32 1 1 1-3 1-37 1 3 1 40 1-25 1-32 1 104 1-80 1-14 1-5 1 48 1 9 1-27 1 21 1-85 1 39 1-4 1 16 1 16 1-91 1 183 1-143 1 42 1 17 1 0 1-23 1-113 1 64 1 65 1-61 1-6 1-47 1 127 1-26 1-52 1 27 1 0 1-37 1 29 1 18 1 10 1 25 1-46 1-18 1 30 1-38 1-23 1 85 1-55 1 17 1 18 1-64 1 62 1-7 1-21 1 17 1-42 1-53 1 69 1-24 1 64 1-23 1-29 1 20 1 46 1-8 1-29 1 2 1-26 1 4 1 26 1-27 1 15 1-52 1-21 1-2 1 45 1 64 1-6 1-80 1-21 1 85 1-12 1-68 1 88 1-33 1 42 1-37 1 20 1-21 1-47 1 25 1-16 1 54 1-67 1-20 1 80 1 17 1 10 1-13 1-96 1 30 1 5 1 18 1-78 1 78 1 10 1-45 1 39 1 39 1-43 1 37 1-2 1-22 1-1 1-28 1 58 1-63 1-8 1 51 1-53 1 42 1 23 1-36 1 1 1 29 1-6 1-85 1 9 1 96 1-35 1-91 1 27 1 50 1-37 1 53 1-15 1 15 1-61 1 66 1 48 1-101 1 77 1-12 1-13 1-27 1-40 1 10 1 60 1 8 1 8 1-10 1-2 1-50 1-29 1 52 1 10 1-16 1-59 1 36 1-36 1 60 1-45 1 32 1 17 1-7 1 45 1-92 1-41 1 115 1 16 1 1 1-44 1 9 1-16 1-53 1 26 1 38 1-40 1 91 1-129 1 40 1 57 1-65 1-20 1-10 1 23 1 82 1-42 1 3 1-39 1 50 1-29 1-39 1 16 1 24 1 35 1-47 1 20 1 56 1-107 1-18 1 83 1-22 1-21 1 13 1-24 1 31 1-33 1 42 1-76 1 13 1 34 1-23 1 42 1-28 1-20 1 27 1-29 1-40 1 15 1 12 1 11 1 21 1 30 1-15 1 46 1-20 1-57 1 69 1-19 1-63 1 28 1 29 1-33 1 29 1-25 1 11 1-40 1 26 1-29 1 38 1-91 1 76 1 34 1-27 1-24 1 21 1-54 1-1 1 17 1 7 1 42 1-73 1 72 1-100 1 29 1 28 1 45 1-69 1-60 1 98 1-19 1-41 1 0 1 13 1 30 1 21 1-83 1 145 1-91 1-13 1 40 1-22 1 86 1-49 1-56 1-1 1-5 1 6 1 40 1-51 1 87 1-65 1-2 1 42 1-113 1 41 1 59 1-22 1-1 1 16 1-38 1 17 1-46 1-19 1 122 1-85 1 9 1 82 1-13 1-60 1 0 1 18 1-33 1 58 1-15 1 0 1 25 1-1 1 44 1-12 1-124 1 101 1-77 1-11 1 83 1-54 1 15 1 54 1-66 1-8 1 48 1 35 1-26 1-80 1 36 1 19 1 81 1-39 1-1 1 14 1-57 1 30 1 1 1-55 1 37 1 23 1-62 1 72 1-1 1 11 1-68 1 34 1 52 1-25 1-59 1 39 1 46 1-57 1 18 1 84 1-98 1-2 1-34 1 14 1 82 1-61 1-39 1 10 1 36 1 30 1-57 1 56 1-45 1 33 1 7 1 4 1-39 1 10 1 27 1-68 1 56 1 14 1 20 1-40 1-5 1 13 1-32 1 20 1 24 1-4 1-49 1 27 1-66 1 110 1-49 1 29 1-49 1 39 1 20 1 21 1-87 1 83 1-37 1-22 1 47 1-28 1 1 1-15 1 36 1-7 1-7 1-28 1 17 1 35 1 33 1-48 1 55 1-53 1-39 1 65 1-59 1 52 1 25 1-50 1 9 1 96 1-83 1 2 1 20 1-32 1 1 1 18 1-102 1 142 1-91 1 0 1 61 1-19 1-46 1 55 1-50 1 17 1-29 1 26 1 46 1-9 1 7 1 24 1-35 1-22 1 14 1 72 1-59 1 12 1-15 1 13 1 8 1-16 1-4 1-23 1-1 1 46 1 14 1 7 1-31 1-32 1 54 1 0 1-76 1 85 1-8 1 41 1-102 1-4 1 76 1-94 1 40 1-12 1 3 1-32 1 62 1 45 1-18 1 0 1-28 1 66 1-32 1 20 1-94 1 70 1-54 1 55 1-4 1-47 1 48 1 36 1-23 1 4 1-51 1 7 1-15 1 46 1 39 1-26 1-15 1-39 1 57 1-24 1-59 1 8 1 51 1-20 1 93 1-57 1-38 1 21 1 76 1-90 1 62 1-11 1 38 1-32 1-33 1 35 1-16 1 34 1-36 1 74 1-73 1 20 1-38 1 29 1-2 1 6 1 27 1-50 1-10 1 71 1-49 1-12 1 66 1-12 1-120 1 81 1 42 1 3 1-46 1 74 1-82 1 21 1 14 1-3 1 29 1 9 1-36 1 51 1-71 1 17 1 69 1-55 1 35 1-52 1 7 1 7 1 11 1-17 1 14 1 24 1 20 1-37 1 20 1 10 1-68 1-16 1 112 1-10 1-42 1 11 1-44 1-14 1 60 1-61 1 84 1-54 1 34 1 58 1-1 1-73 1 47 1-71 1 17 1 33 1 36 1-66 1 39 1-14 1-45 1 39 1 57 1-53 1 21 1 12 1-52 1 68 1 10 1 5 1-9 1-60 1-3 1-5 1-4 1 5 1 62 1 17 1-70 1 50 1-70 1 33 1-21 1-21 1 58 1 2 1-15 1-3 1-15 1 30 1-15 1 29 1-47 1 49 1 11 1 25 1-5 1-28 1-29 1-37 1 62 1 49 1 9 1-140 1 61 1 15 1-23 1 42 1-3 1-18 1 17 1-51 1 22 1 3 1 61 1-83 1 48 1 34 1-27 1 30 1-48 1 37 1 17 1 45 1-49 1 24 1-46 1 4 1 50 1-32 1 29 1-23 1 48 1 9 1-105 1 90 1-46 1 2 1-18 1 28 1-59 1 14 1 0 1 35 1 22 1-5 1-11 1-31 1-37 1 72 1-8 1 8 1 36 1-52 1 1 1-68 1 94 1-18 1-22 1 38 1-46 1 17 1 82 1-38 1 7 1-5 1-3 1-13 1 68 1-75 1 27 1-30 1-3 1-67 1 18 1 112 1-1 1-61 1 14 1 22 1-51 1 90 1-90 1 11 1-64 1 138 1-46 1 51 1-83 1 44 1-8 1 5 1 61 1 6 1-27 1-56 1 42 1 15 1-24 1 1 1-2 1-43 1 38 1 43 1-81 1 35 1 25 1-69 1 39 1-48 1 35 1-24 1 17 1 13 1 8 1 3 1-69 1 127 1-58 1-25 1 15 1 31 1-41 1 19 1-1 1 33 1-40 1 38 1-2 1-15 1 44 1-37 1-37 1 47 1-5 1-4 1 9 1 67 1-65 1 7 1-21 1 49 1-41 1-23 1-12 1 55 1 7 1-71 1 27 1 43 1 13 1-72 1 29 1 39 1-42 1 4 1-2 1-23 1 42 1 9 1-52 1 47 1 32 1-27 1 23 1-45 1 60 1-66 1 83 1-71 1-7 1-5 1 16 1-2 1-5 1 12 1 31 1 7 1-36 1 49 1-68 1 0 1-2 1 54 1-65 1 5 1 83 1 14 1-11 1-85 1 47 1 25 1-21 1-51 1 39 1-40 1 15 1 103 1-43 1-64 1 0 1 60 1-31 1 36 1-35 1 14 1 14 1-37 1-26 1 23 1 16 1 16 1 5 1 1 1 18 1-41 1 69 1 19 1-47 1-5 1 33 1-17 1-13 1-9 1-16 1-12 1 55 1 17 1-66 1 30 1 10 1-18 1-9 1 12 1-45 1 57 1-6 1 71 1-33 1-37 1 11 1 51 1-2 1-41 1-8 1-37 1 33 1 6 1-16 1 73 1-104 1 51 1 17 1 1 1 37 1-88 1 20 1 25 1 2 1-14 1-10 1 53 1-60 1 14 1 59 1 9 1-24 1-49 1 1 1 0 1-6 1 21 1 49 1-29 1-27 1 0 1-10 1 68 1-91 1 66 1-48 1 12 1-12 1 71 1-29 1 81 1-107 1-1 1 49 1 0 1-24 1-48 1 99 1-25 1-4 1-27 1 36 1-34 1 18 1-6 1 42 1-48 1 4 1 41 1-24 1-6 1-6 1 35 1-45 1 32 1 45 1-45 1-33 1-11 1 39 1-38 1-10 1 24 1-9 1 56 1-64 1 85 1-64 1 24 1 16 1-12 1 15 1-47 1-35 1 58 1-40 1 31 1 43 1-31 1-11 1-14 1 24 1 3 1-38 1 53 1-38 1 37 1-18 1 40 1-3 1-23 1-3 1 16 1 26 1-8 1-24 1 5 1 35 1-87 1 60 1-39 1 62 1-50 1 12 1-27 1 31 1 22 1 25 1-80 1 23 1 119 1-80 1-25 1 15 1-87 1 117 1-39 1-42 1 71 1-49 1-10 1 43 1-3 1-23 1 11 1-34 1-2 1 64 1 12 1-24 1-1 1-20 1 7 1-21 1 73 1-62 1 27 1-11 1-37 1 90 1-61 1-10 1 24 1-27 1 26 1-26 1 41 1-13 1-38 1 65 1-22 1-34 1 39 1 3 1 39 1-73 1 47 1-25 1 19 1-22 1 6 1 15 1-45 1-23 1 56 1-11 1 15 1 15 1-22 1 38 1-32 1 4 1 20 1-6 1-17 1 6 1-23 1 5 1 19 1 20 1-33 1 35 1 29 1 6 1-55 1 28 1-12 1 6 1 2 1-8 1 9 1-17 1-11 1 14 1 7 1 20 1-22 1 10 1 19 1-61 1 18 1 21 1-12 1-27 1 53 1-27 1-24 1 76 1-82 1 33 1-16 1 21 1 12 1-35 1 19 1 0 1-22 1 56 1-25 1-11 1-9 1 9 1 13 1-15 1 44 1-97 1 11 1 49 1-40 1 46 1-15 1 33 1-4 1 24 1-10 1 9 1-18 1 14 1-14 1-27 1-16 1 1 1 44 1-73 1 66 1-23 1 39 1-13 1-24 1 20 1-58 1 66 1 5 1-58 1 69 1-24 1 8 1-40 1 52 1 0 1-14 1-24 1 44 1 13 1-21 1 16 1-39 1 19 1 6 1-5 1 68 1-60 1-24 1 36 1-48 1 37 1 11 1-31 1 5 1-15 1 27 1-19 1 60 1-26 1-21 1-29 1 86 1-18 1-20 1-6 1 0 1-16 1 59 1-41 1-40 1 20 1-47 1 80 1 3 1 26 1 8 1-70 1 30 1 14 1-4 1-32 1 33 1-7 1 21 1-34 1-4 1-7 1 4 1-9 1 10 1 22 1-1 1 21 1-5 1-11 1-44 1 43 1 15 1-60 1 5 1 4 1-2 1 19 1-16 1 33 1-39 1 26 1-8 1-12 1 50 1-25 1 13 1-21 1 26 1-2 1-19 1-39 1 63 1-2 1-13 1 2 1-2 1 2 1-29 1 23 1 9 1-22 1-8 1 68 1-30 1-22 1-4 1-52 1 30 1 29 1 37 1-81 1 34 1 63 1-30 1-6 1 19 1-31 1-1 1 21 1 4 1-46 1 63 1-79 1 26 1 91 1-87 1 29 1-40 1 17 1-10 1 8 1 26 1 26 1-20 1 16 1-49 1 47 1-21 1 20 1-43 1 4 1 39 1-18 1-12 1-19 1 15 1 14 1 6 1-31 1 6 1 18 1-36 1 49 1-23 1-3 1-54 1 19 1 14 1 11 1-12 1 35 1-6 1-9 1-42 1 82 1-40 1 21 1-30 1 16 1 17 1-11 1 18 1-27 1 51 1-92 1 32 1 37 1-29 1-5 1-31 1 71 1-74 1 58 1-8 1 17 1 14 1-52 1-2 1 12 1-33 1 60 1-29 1 14 1-31 1 28 1-15 1 13 1-24 1 50 1-39 1-45 1 76 1-22 1-14 1 80 1-60 1-30 1 17 1 24 1-14 1 35 1-4 1-44 1 20 1 14 1-24 1-1 1 32 1-10 1-44 1 21 1 3 1 7 1-13 1 48 1-54 1-2 1 31 1-58 1 29 1 39 1-45 1 11 1 46 1-14 1-9 1 5 1-22 1 24 1-12 1 64 1-45 1-20 1 7 1 3 1-33 1 13 1 55 1-67 1 19 1 38 1 12 1-58 1 58 1-42 1 47 1-26 1-18 1 24 1-3 1-30 1 68 1-57 1 35 1-38 1-30 1 17 1 24 1 18 1 26 1-38 1-8 1-21 1 27 1 9 1-57 1 81 1-4 1 27 1-73 1 22 1 0 1-30 1 12 1-3 1 34 1-1 1 21 1-39 1-22 1 42 1-1 1 7 1 13 1-41 1 32 1-41 1 27 1 12 1-18 1 8 1-36 1 17 1 19 1-31 1 8 1 75 1-49 1-24 1-5 1 55 1-94 1 55 1 21 1-26 1 24 1-35 1 23 1 2 1-1 1 3 1-2 1 25 1-31 1-8 1 8 1-1 1-27 1-8 1 12 1 37 1-21 1 6 1 73 1-38 1-30 1-9 1 45 1-48 1 45 1-14 1 18 1-47 1 36 1-60 1 36 1 29 1-9 1-56 1 56 1-5 1-11 1-15 1 10 1-6 1 34 1-11 1 14 1-8 1-44 1 32 1 45 1-73 1 32 1-24 1-2 1 25 1 15 1-3 1-6 1 11 1-57 1 54 1-9 1-13 1 4 1-18 1 45 1-42 1-16 1 33 1-13 1 12 1 35 1-36 1 6 1 47 1-80 1 39 1 18 1 8 1 16 1-64 1 29 1-16 1-7 1-6 1-16 1 40 1 10 1-40 1 40 1-28 1-10 1-35 1 82 1-8 1-23 1-1 1-20 1 40 1-12 1 14 1-8 1-35 1-2 1 43 1-46 1 44 1 14 1-48 1 44 1-14 1 11 1-25 1 14 1 10 1 31 1-23 1-5 1-39 1 36 1-22 1 14 1 8 1 15 1-7 1-9 1-5 1 31 1-48 1 20 1 30 1-34 1 23 1 1 1 24 1-18 1-60 1 36 1 7 1 12 1-9 1 32 1-16 1-49 1 12 1-31 1 82 1-40 1 0 1-31 1 25 1 19 1-18 1 1 1-5 1 56 1-54 1-19 1 20 1 4 1 6 1-3 1-18 1 20 1 13 1-38 1 73 1-6 1-75 1 32 1 30 1 7 1 10 1-77 1 16 1 13 1 24 1-35 1 33 1 1 1 6 1-42 1 32 1-2 1-10 1 37 1-33 1 37 1-42 1 49 1-1 1-51 1 25 1 0 1-27 1 38 1-4 1-30 1 21 1 17 1-21 1-12 1 50 1-54 1 28 1 17 1-6 1-55 1 32 1 5 1-1 1 18 1-2 1-8 1 3 1 16 1 6 1-65 1 85 1-56 1 28 1-50 1 24 1-15 1 49 1-4 1-18 1-3 1 12 1-28 1 8 1-3 1 33 1-16 1-27 1 34 1 4 1 18 1-40 1 20 1 35 1-49 1-1 1 18 1-20 1 11 1-10 1-6 1 34 1-25 1-13 1 15 1 4 1 9 1 13 1 17 1-60 1 20 1-32 1 42 1 6 1-24 1-5 1-1 1-10 1 43 1 26 1-61 1 56 1-35 1-26 1 40 1 4 1-7 1-13 1 39 1-39 1 19 1 0 1-31 1-19 1 3 1 27 1 15 1-43 1 22 1 45 1-66 1 45 1-2 1 9 1-45 1 36 1-34 1 54 1-43 1 25 1-24 1 19 1-33 1 36 1 7 1-12 1 32 1-24 1 8 1-5 1 27 1-50 1 8 1 1 1 17 1-7 1 11 1-10 1-16 1 9 1 10 1-54 1 73 1-38 1 4 1 12 1-10 1-23 1 24 1 32 1-6 1 4 1-36 1 7 1 26 1 8 1-28 1-20 1-19 1 67 1-59 1 39 1 10 1 47 1-61 1-6 1 12 1 1 1 16 1-12 1-29 1-27 1 48 1-19 1 42 1-55 1 31 1-19 1-3 1 51 1-30 1-7 1 19 1-30 1 8 1-5 1 52 1-33 1 6 1 10 1-26 1 1 1-30 1 42 1-4 1-13 1 32 1-60 1 44 1-35 1 4 1 19 1 31 1-50 1 3 1-4 1 65 1-30 1-2 1 33 1-36 1-47 1 32 1-14 1 64 1-68 1 34 1-16 1 1 1 9 1-3 1-11 1-11 1 12 1-8 1 3 1 20 1-5 1 12 1-14 1 43 1-53 1-5 1 40 1-34 1 16 1 17 1-21 1-5 1 26 1-13 1-17 1-13 1 16 1-25 1 15 1-4 1 27 1 9 1-28 1 4 1-13 1-5 1 18 1 20 1-2 1 2 1-17 1-48 1 72 1 7 1-8 1 0 1 4 1 31 1-47 1 25 1-15 1-3 1-16 1-4 1-16 1 34 1-18 1-18 1 9 1-9 1 55 1-37 1 7 1-26 1 3 1 41 1-26 1 9 1 31 1 5 1-28 1-4 1-5 1-11 1 45 1-64 1 22 1-36 1 12 1 32 1 1 1-3 1-13 1-8 1 2 1 3 1 28 1 6 1-20 1-20 1-8 1 23 1-11 1-32 1 60 1-27 1-7 1-12 1-2 1 33 1-37 1 18 1 9 1 21 1-26 1-14 1-10 1 21 1 0 1-30 1 16 1-17 1-32 1 8 1 29 1 7 1-20 1-21 1-15 1 16 1-10 1-42 1 32 1-31 1 15 1-11 1-7 1-4 1-17 1-40 1-10 1 21 1-21 1-45 1-20 1 31 1 6 1-36 1-30 1-8 1-57 1 9 1 12 1-18 1-54 1 28 1-24 1-9 1-28 1-11 1-25 1 5 1-4 1-30 1 6 1-16 1 12 1-4 1-38 1 30 1 8 1-14 1 8 1 7 1-3 1 20 1 30 1-1 1 25 1 7 1 16 1 1 1 24 1 31 1 9 1 0 1 2 1 12 1 32 1 18 1-19 1 45 1 17 1 13 1 0 1 58 1-10 1-23 1 22 1 36 1 6 1 4 1 7 1 6 1 5 1-2 1 35 1-51 1 43 1 41 1-30 1-1 1 61 1-11 1-17 1-3 1 10 1 2 1 5 1-6 1 27 1-18 1-20 1 12 1 26 1-17 1-25 1 76 1-17 1-17 1 1 1 21 1 17 1-36 1 21 1-19 1 19 1-27 1-12 1 37 1-2 1 16 1-25 1 39 1-24 1 29 1-35 1 35 1-29 1 5 1 16 1-52 1 14 1 56 1-63 1 20 1 20 1 18 1-37 1 12 1-23 1 15 1 27 1-13 1-7 1 10 1-6 1 1 1-9 1-12 1 32 1-34 1 41 1 22 1-11 1 15 1-64 1 25 1-20 1 2 1-18 1 10 1 39 1-2 1 10 1-2 1-6 1-30 1 14 1 16 1 10 1-30 1-2 1 1 1 39 1-20 1-16 1-8 1 23 1-40 1 27 1-6 1 0 1 15 1 5 1 50 1-56 1 11 1-28 1-16 1 54 1 15 1-56 1 18 1 23 1-19 1-47 1 64 1-21 1 16 1-32 1 36 1 3 1-34 1 24 1-22 1 3 1-7 1 9 1-5 1 35 1-26 1-17 1 47 1-15 1 9 1-20 1 14 1-15 1-16 1 21 1 0 1 0 1 14 1-49 1 39 1-21 1 10 1 14 1-7 1-14 1 27 1-15 1 19 1 6 1-30 1-14 1 23 1 13 1-9 1-28 1-9 1 14 1 0 1 30 1-11 1 16 1-18 1 33 1-31 1 10 1-18 1 16 1 12 1-5 1 9 1-35 1 20 1 24 1-28 1-7 1-1 1-6 1 13 1 23 1-17 1-9 1-14 1-7 1 66 1-53 1 11 1-11 1 12 1-11 1 10 1 25 1-40 1 23 1-11 1 15 1-26 1 20 1-26 1-15 1 9 1 7 1-3 1 15 1 26 1-41 1 29 1-5 1-16 1-4 1 25 1 1 1-15 1 3 1 3 1-24 1 26 1 4 1 27 1-56 1 8 1 17 1-12 1 3 1 8 1-5 1 5 1 8 1-37 1 40 1-52 1 73 1-14 1-28 1 30 1-22 1 11 1 6 1-7 1-7 1 12 1-15 1-3 1-11 1-15 1 62 1-15 1-40 1 33 1-3 1-44 1 25 1 14 1 33 1-11 1 3 1-17 1 12 1-39 1 32 1 2 1-36 1 28 1 23 1 8 1-10 1-38 1 11 1-8 1 32 1-37 1-4 1-10 1 33 1 4 1-19 1-2 1 10 1 28 1-49 1 24 1 5 1 3 1 16 1-8 1-10 1 22 1-6 1-15 1-1 1-26 1 24 1-17 1-6 1 16 1-27 1 16 1 6 1 16 1-12 1 13 1 21 1-13 1-36 1-11 1 15 1 1 1-20 1 5 1 0 1 20 1 36 1 5 1-49 1 10 1-17 1-4 1 28 1 2 1-12 1 22 1-17 1 25 1-28 1 24 1-19 1 6 1 9 1-35 1 10 1 13 1-4 1 10 1-20 1-9 1 22 1 7 1-19 1 36 1-9 1 3 1-2 1-29 1 54 1-51 1 20 1 6 1-7 1-2 1-18 1 8 1 8 1 23 1-36 1 25 1-5 1-6 1-11 1 8 1-29 1 33 1 4 1-15 1 19 1-3 1-19 1 28 1-24 1 53 1-62 1 4 1 3 1 16 1 16 1-19 1-9 1 42 1-16 1-23 1 3 1-26 1 28 1 30 1-51 1-5 1 28 1-45 1 67 1-52 1 15 1 10 1 24 1-15 1-41 1 4 1 34 1-41 1 32 1-10 1 29 1 7 1-66 1 52 1 4 1-25 1 3 1-11 1 15 1 14 1 16 1 2 1-31 1-9 1 32 1-67 1 24 1 37 1 28 1-54 1 16 1-21 1 18 1 0 1-12 1 21 1-10 1 12 1-13 1-18 1 24 1 13 1-29 1 38 1-16 1-14 1 7 1-8 1-9 1 33 1-1 1-24 1 5 1 0 1 16 1 14 1-38 1 17 1-6 1 11 1 15 1-41 1-21 1 34 1-26 1 59 1-42 1 7 1 9 1 0 1-11 1 7 1 17 1-22 1 38 1-26 1-49 1 58 1-47 1 37 1 34 1-20 1-40 1 6 1 15 1 25 1-38 1 32 1-14 1-7 1-1 1 32 1-56 1 6 1 36 1 2 1-40 1 6 1-4 1 30 1-21 1 37 1-12 1-9 1-1 1 6 1 5 1-14 1 4 1 9 1-15 1 19 1-20 1-11 1 16 1 26 1-3 1-54 1 33 1-14 1 3 1 0 1 1 1-5 1 4 1 9 1-25 1-1 1 2 1 0 1 30 1-30 1 18 1 3 1 11 1-12 1 17 1-19 1 5 1 9 1-39 1 32 1 19 1-24 1-6 1 37 1-32 1 19 1-62 1 42 1-10 1 15 1 13 1-23 1-2 1-45 1 62 1 8 1-20 1-12 1 14 1 11 1-7 1 23 1-45 1-15 1 30 1 13 1-30 1 6 1-12 1-11 1 7 1-23 1 36 1 2 1 5 1-30 1 1 1-19 1 2 1 34 1 27 1-63 1 8 1 17 1-28 1 16 1-17 1-3 1 13 1-20 1-18 1 25 1-16 1-12 1-7 1 13 1-21 1 6 1 6 1-18 1 9 1-33 1 18 1-5 1 10 1-25 1 5 1-15 1-13 1-1 1-1 1 12 1-18 1 6 1 7 1 2 1-3 1 5 1-25 1 7 1 9 1 10 1-4 1-10 1 9 1-12 1 30 1-24 1 26 1 13 1 3 1-24 1 26 1-2 1 5 1 29 1-12 1-17 1 9 1 28 1-2 1-13 1-3 1 19 1 6 1 21 1-16 1 22 1 12 1-38 1 18 1 36 1-27 1 9 1 18 1-24 1 8 1-17 1 37 1-15 1 4 1-34 1 59 1-3 1-22 1 34 1-59 1 41 1-26 1 74 1-87 1 24 1 8 1 27 1 2 1-7 1-10 1 41 1-48 1 18 1 25 1-50 1 8 1 33 1-11 1-29 1 23 1 33 1-37 1 18 1-11 1-13 1 39 1-11 1 5 1-23 1 4 1 3 1 4 1-13 1-3 1 31 1-41 1 12 1 1 1-2 1-12 1 8 1 27 1-20 1-6 1 42 1-52 1 41 1-11 1-30 1 17 1 0 1 29 1-6 1-20 1-16 1-8 1 26 1-21 1 21 1 0 1 10 1 11 1-15 1 6 1-11 1 21 1-4 1 14 1-4 1-36 1-12 1 36 1 9 1-31 1 37 1-24 1-3 1 8 1-30 1-4 1 22 1-14 1 20 1 0 1-44 1 30 1 23 1-49 1 35 1-18 1-10 1 53 1-1 1-25 1-2 1 33 1-3 1-21 1 15 1-13 1-7 1 16 1-18 1 18 1-14 1-4 1-2 1 18 1 8 1-8 1-23 1 26 1-26 1-4 1 16 1 18 1-2 1-2 1 14 1-9 1-21 1 20 1-18 1 12 1 3 1-11 1-24 1 23 1-3 1 4 1-5 1-12 1-8 1 39 1 2 1-7 1-7 1 34 1-22 1-11 1 14 1-15 1 13 1-7 1 5 1-8 1-9 1 17 1 10 1-34 1 6 1-9 1 33 1-18 1 19 1-28 1 27 1-24 1 2 1 17 1-15 1-4 1 26 1-16 1 22 1 22 1-53 1 4 1-19 1 5 1 30 1-5 1 0 1 3 1-22 1-14 1 47 1-14 1 15 1-19 1 13 1-22 1 9 1-2 1 9 1 17 1-12 1-60 1 47 1 2 1 14 1-11 1-14 1-2 1 8 1-6 1 35 1-13 1-9 1 15 1 20 1-39 1 3 1-5 1-15 1 10 1-5 1 24 1-1 1 7 1-27 1 30 1-33 1 13 1 25 1-1 1-2 1 17 1-18 1-21 1 0 1-9 1 17 1-16 1 2 1-6 1-12 1 70 1-26 1-50 1 42 1-16 1-26 1 32 1 7 1 6 1 9 1-32 1 13 1 12 1-2 1-2 1-5 1 19 1-41 1-4 1 54 1-22 1 11 1-14 1-10 1-1 1 10 1-10 1 7 1-1 1 16 1-1 1 14 1-38 1 11 1 17 1-10 1-46 1 46 1-6 1-7 1 1 1-5 1 31 1-8 1-7 1 15 1-3 1-29 1-4 1 1 1 29 1-12 1 20 1-11 1-12 1-17 1 17 1 41 1-48 1-2 1 10 1 26 1-23 1-17 1 8 1 8 1 3 1 16 1 24 1-18 1-12 1-11 1-12 1 22 1 12 1-8 1-15 1 13 1-14 1 1 1-1 1 5 1-3 1 18 1-16 1-2 1 19 1-6 1 7 1-30 1 33 1-21 1-17 1 15 1-18 1 4 1 10 1 22 1-37 1 26 1-8 1 29 1-22 1 7 1 13 1-40 1 12 1-19 1 11 1 19 1-8 1 9 1-13 1-5 1 9 1-11 1-4 1-8 1 24 1 9 1-27 1 12 1-29 1 18 1 20 1-22 1 27 1-13 1 12 1-14 1-14 1 22 1 12 1-19 1 14 1-17 1 6 1 25 1-20 1-15 1 24 1-8 1-9 1 20 1-57 1 55 1 21 1-25 1-35 1 52 1 18 1-30 1-26 1 6 1 9 1 5 1 16 1-10 1-44 1 30 1 3 1 32 1-39 1-12 1 17 1 9 1-33 1 46 1-19 1 15 1-2 1-2 1 13 1 5 1-33 1 5 1 18 1-14 1-12 1 11 1-15 1 6 1-46 1 56 1 27 1-17 1-1 1-8 1-14 1 19 1-6 1-3 1 6 1-13 1 11 1 8 1 6 1-14 1 11 1-10 1-38 1 5 1 27 1-14 1 27 1-30 1 14 1-2 1-3 1 3 1 8 1 2 1-9 1 11 1 6 1-12 1-8 1 1 1 3 1-1 1 10 1 41 1-25 1-17 1 9 1 0 1 11 1 2 1-37 1 50 1-48 1 15 1-15 1-13 1-2 1 60 1-8 1-39 1-2 1 41 1-38 1 22 1 25 1-20 1 12 1-20 1-30 1 14 1-16 1 33 1-25 1 22 1-9 1-3 1 19 1-16 1-6 1 29 1-16 1-23 1 42 1-41 1 26 1 5 1-12 1-9 1 8 1-1 1-12 1 31 1-23 1-1 1 33 1-34 1-12 1 23 1 1 1 1 1 32 1-42 1 31 1-8 1 9 1-24 1-3 1 2 1 8 1 10 1 11 1-54 1 45 1-11 1-5 1-17 1 22 1-34 1 48 1-34 1 13 1-1 1 12 1-30 1 34 1-7 1 18 1-19 1-7 1-28 1 24 1 32 1-33 1-1 1 6 1 16 1-42 1 57 1-19 1 2 1-12 1 32 1-38 1 19 1-11 1-21 1 18 1 13 1-16 1-2 1 7 1-14 1-3 1 18 1-16 1 24 1 2 1 9 1-4 1-20 1 11 1-25 1 25 1-14 1 29 1-32 1 13 1-14 1 21 1 1 1-26 1 47 1-23 1-31 1 9 1-15 1-3 1 30 1-31 1 39 1-32 1 20 1 33 1-33 1 6 1 20 1-25 1 14 1-22 1 7 1 8 1-2 1-12 1 16 1 6 1 0 1-9 1-15 1 25 1 3 1-29 1-21 1 33 1 19 1-2 1-32 1 39 1-35 1 29 1-21 1 22 1-8 1-11 1 15 1-22 1 5 1 1 1-9 1 28 1 0 1-14 1-16 1 23 1-3 1 6 1-11 1-3 1 26 1-32 1 7 1-25 1 22 1-2 1 2 1 15 1-19 1 16 1-12 1-1 1-22 1 35 1 3 1-25 1 6 1-19 1 23 1-12 1 23 1-8 1 12 1-23 1-13 1 25 1-8 1 38 1-25 1 19 1-15 1-13 1-19 1 21 1 13 1-8 1 3 1 0 1-25 1 25 1-17 1 12 1 22 1-52 1 26 1 10 1 11 1-15 1-14 1 25 1-3 1-37 1 29 1-28 1-14 1 25 1 1 1-18 1 62 1-49 1 26 1 6 1 22 1-39 1 31 1-43 1 17 1-5 1-10 1 21 1 25 1 3 1-22 1-29 1 6 1 22 1-1 1 0 1-13 1-10 1 22 1-8 1 23 1-33 1 24 1 8 1 10 1-1 1-47 1-2 1 21 1-16 1-24 1 61 1-15 1 8 1-13 1 15 1-14 1-2 1 28 1-48 1 26 1-33 1 48 1-27 1-15 1-10 1 25 1 35 1-23 1-33 1-8 1 77 1-53 1-15 1 26 1 7 1 16 1-29 1-8 1 22 1-23 1 18 1-3 1 13 1-27 1 1 1 15 1 3 1-31 1 11 1 15 1-9 1 43 1-25 1 8 1-21 1 3 1 0 1 15 1-22 1 30 1-36 1 27 1-11 1-10 1 31 1-10 1-19 1-9 1 26 1-27 1 22 1-23 1 16 1-16 1 11 1 30 1 1 1-35 1 3 1-22 1 31 1 13 1-31 1-1 1 20 1-15 1 12 1 22 1-18 1 4 1 19 1-26 1 7 1-10 1-13 1 38 1-48 1 23 1-19 1 5 1-8 1 17 1 11 1 14 1-51 1 33 1-10 1-3 1 8 1 5 1-5 1 2 1 35 1-34 1 4 1-24 1 36 1-26 1 7 1-11 1 11 1-13 1-6 1-2 1 16 1 7 1 11 1 15 1 3 1-40 1-1 1 23 1-26 1 32 1-1 1-32 1 27 1 11 1-15 1-12 1 2 1 10 1-19 1 17 1-9 1-8 1-4 1 24 1-23 1 18 1-33 1 26 1 5 1 4 1 9 1-6 1 0 1-13 1-12 1-2 1 6 1 16 1 12 1-10 1-3 1 9 1-17 1 8 1-5 1 5 1-6 1-17 1 14 1-7 1 40 1-5 1-32 1-4 1 14 1-24 1 43 1-20 1-7 1 24 1 4 1-18 1 13 1-42 1 14 1-1 1-13 1 40 1 24 1-59 1 12 1 26 1-22 1 5 1-13 1 18 1-21 1 27 1-3 1-3 1-18 1 9 1 11 1-22 1-1 1-21 1 28 1 6 1 17 1-34 1-4 1 42 1-2 1-35 1 10 1-21 1 28 1 21 1-8 1-29 1 21 1-16 1 17 1-14 1 19 1 9 1-14 1 0 1 1 1 7 1-20 1 4 1 0 1 23 1-18 1 6 1-14 1-16 1 17 1 12 1-13 1-4 1 3 1 15 1-2 1-7 1-15 1 4 1 68 1-60 1 13 1-5 1-27 1 43 1-20 1-15 1 26 1-21 1 14 1-26 1 18 1 13 1-18 1-14 1 9 1 23 1-35 1 3 1 34 1-11 1-2 1-7 1 14 1 6 1-6 1-34 1 37 1-36 1 53 1-34 1 17 1-5 1-15 1 29 1-15 1 30 1-23 1-5 1 34 1-17 1-22 1-13 1 43 1-11 1 0 1-24 1-5 1-4 1 32 1-21 1 13 1-45 1 51 1-28 1-31 1 22 1 27 1 18 1-68 1 21 1 24 1-27 1 18 1-10 1 18 1-25 1 18 1-8 1 16 1-4 1 17 1-12 1 25 1-54 1 21 1 17 1-11 1-44 1 48 1-13 1 47 1-41 1 13 1-27 1 27 1-56 1 28 1 11 1-20 1 41 1-15 1 26 1-49 1 9 1 24 1-18 1 21 1-3 1-22 1 14 1 7 1-5 1-7 1-5 1 4 1 20 1 17 1-56 1 7 1 13 1 26 1-37 1 52 1-1 1-75 1 49 1-1 1-17 1-23 1 35 1-11 1 25 1-9 1-25 1 47 1-2 1-5 1-23 1 14 1-13 1-11 1-21 1 34 1-36 1 43 1-33 1 25 1-8 1-14 1 2 1 8 1 33 1-18 1-11 1 18 1-32 1-6 1 10 1 31 1-21 1 6 1 0 1-9 1 27 1-8 1-26 1-3 1 16 1-14 1 15 1 12 1-11 1 2 1-11 1-5 1-4 1 38 1-34 1 14 1 1 1 5 1-13 1-20 1 60 1-52 1 28 1-28 1 29 1-29 1 46 1-21 1-33 1 53 1-58 1 25 1 24 1-25 1 28 1-21 1-10 1 30 1-20 1-8 1 23 1-20 1-18 1 11 1 52 1-3 1-63 1 39 1 7 1-25 1 16 1-28 1 11 1 23 1-19 1-1 1-2 1-18 1 6 1 7 1 7 1-12 1 45 1-60 1 11 1 7 1 20 1-33 1 28 1-18 1 1 1 20 1 7 1 3 1-36 1 36 1 1 1-12 1 2 1-7 1-3 1 17 1 13 1-32 1 11 1 9 1-38 1 50 1-21 1 18 1-29 1-9 1 12 1 7 1-20 1 30 1-10 1-22 1 25 1-10 1 3 1-7 1-5 1-9 1 22 1-1 1 8 1-20 1 19 1 6 1-33 1 23 1 33 1-45 1 3 1 5 1-8 1 23 1-16 1-1 1-11 1 22 1-11 1-5 1 2 1 31 1-26 1 4 1 18 1-24 1 18 1-33 1 28 1-46 1 37 1-9 1-5 1 30 1-6 1 2 1 11 1-16 1 0 1-10 1 32 1-16 1-28 1-1 1 2 1 0 1 33 1-16 1 12 1-30 1 0 1 33 1-53 1 13 1-15 1 24 1 53 1-55 1 30 1 9 1-37 1-1 1 17 1 6 1-37 1 12 1 41 1-41 1 20 1 10 1-22 1 3 1-6 1-2 1 1 1-17 1 18 1 5 1 15 1-18 1-4 1 41 1-31 1-3 1-5 1 9 1-14 1 5 1-5 1-6 1 12 1-15 1 51 1-47 1 47 1-23 1 9 1 9 1-50 1 53 1-18 1-16 1-4 1 18 1-32 1 55 1-32 1 16 1-11 1-9 1 1 1-8 1 35 1-21 1 9 1-1 1 4 1-4 1 13 1-31 1-5 1 14 1-3 1 6 1 18 1-3 1-7 1-21 1 20 1-5 1 9 1-12 1-6 1 8 1-13 1-3 1 18 1-4 1 16 1-13 1-22 1 41 1 4 1-44 1 8 1 26 1-13 1-27 1 42 1-17 1 4 1 14 1-30 1-1 1 22 1 5 1-14 1 17 1-12 1 11 1-30 1 9 1 21 1-31 1 1 1 15 1-7 1-11 1-11 1 48 1-21 1 22 1-37 1 15 1-3 1 4 1-27 1 45 1-24 1 8 1-20 1 41 1-49 1 54 1-36 1 0 1-5 1 33 1-36 1 0 1-1 1 23 1 0 1-20 1 20 1 16 1-13 1-5 1-22 1 40 1-13 1-34 1 11 1-32 1 52 1-28 1 15 1 27 1-45 1 36 1-19 1-12 1 38 1-14 1-18 1 19 1-17 1-5 1 8 1 22 1-41 1 4 1 35 1-36 1 19 1-2 1-16 1 9 1 10 1 0 1 12 1-7 1 11 1-11 1-10 1 17 1-3 1 7 1-17 1 1 1 0 1-22 1 31 1-18 1-1 1 6 1 39 1-46 1 37 1-57 1 28 1 36 1-28 1 3 1-15 1-22 1 39 1 7 1 2 1 14 1-32 1 10 1-43 1 29 1 8 1 18 1 9 1-4 1-18 1-10 1 1 1 1 1 3 1 17 1-22 1-24 1 8 1 66 1-26 1-29 1 3 1 16 1-6 1 0 1-37 1 10 1 24 1 9 1-6 1 20 1-24 1 3 1-3 1 14 1-25 1 42 1-49 1 29 1-1 1 14 1-43 1 3 1 10 1 16 1 3 1-55 1 36 1 9 1 1 1 1 1-9 1 5 1-32 1 44 1-53 1 36 1-12 1 20 1-21 1 29 1-8 1 4 1 7 1 1 1-21 1 16 1-5 1 4 1-9 1-43 1 36 1 4 1-8 1-3 1 13 1-13 1 21 1 10 1-20 1 13 1-32 1 3 1 11 1-10 1 16 1 0 1 24 1-33 1 28 1-36 1 12 1 17 1-8 1-44 1 38 1 9 1-32 1 17 1 2 1 11 1 14 1-41 1 7 1 39 1-6 1 8 1-27 1 17 1-55 1 46 1-23 1-7 1 5 1 33 1 8 1-31 1 2 1 24 1-29 1 14 1 6 1 9 1-23 1-40 1 41 1 14 1-18 1-2 1-6 1 22 1-4 1 2 1-5 1 21 1-15 1-7 1-16 1 11 1 6 1 24 1-16 1-13 1 17 1-1 1-18 1 15 1-25 1 19 1 30 1-16 1-5 1 4 1-3 1-30 1 12 1-4 1 18 1 7 1 18 1-34 1-16 1 22 1-5 1 5 1-4 1 8 1-17 1 14 1 10 1-12 1 6 1-19 1 24 1-16 1-8 1 7 1-3 1 3 1-6 1 36 1-13 1-7 1 0 1-9 1 15 1-17 1 3 1-11 1 31 1-1 1-1 1 0 1-54 1 38 1 15 1-8 1-33 1 29 1 6 1-19 1-10 1 9 1-37 1 50 1-17 1 8 1 2 1 2 1 26 1-38 1 9 1-30 1 23 1-20 1 42 1-12 1-9 1 23 1-30 1 14 1-11 1-1 1 11 1-6 1 7 1-15 1-7 1 46 1-16 1-11 1 9 1-19 1 21 1-28 1 30 1-2 1-6 1 12 1-13 1 28 1-16 1-34 1 8 1 42 1-35 1 14 1-14 1 33 1-7 1-4 1-20 1 2 1 27 1-31 1-25 1 59 1-9 1-36 1 25 1 5 1-6 1 22 1-6 1-32 1 10 1 17 1 0 1-20 1 23 1-31 1 26 1-41 1 36 1 25 1-9 1-37 1-34 1 51 1 13 1-15 1 2 1-26 1 13 1-12 1 0 1 12 1 31 1-17 1-18 1 10 1-13 1 6 1 12 1-27 1 28 1-14 1 27 1-32 1 18 1-17 1 22 1-36 1 19 1-5 1-12 1 19 1 3 1-6 1-7 1 5 1 0 1 28 1-8 1 12 1-6 1 14 1-27 1 3 1-2 1-8 1 17 1-4 1 1 1-3 1 12 1-38 1 31 1-10 1-9 1 5 1 13 1 5 1-17 1 15 1-5 1 10 1 0 1-4 1-18 1-12 1 40 1-35 1 26 1-12 1 25 1-28 1-3 1-27 1 42 1-10 1-10 1 4 1 26 1-14 1 7 1-17 1 9 1 10 1-19 1 24 1-24 1 34 1-38 1 1 1 9 1-7 1 4 1 1 1 20 1-27 1 26 1-5 1-11 1-6 1 33 1-69 1 32 1 5 1 11 1-8 1 14 1-6 1 8 1-26 1 17 1 18 1-36 1 13 1-25 1 29 1-19 1 22 1-28 1 19 1-17 1 15 1 7 1 30 1-30 1 1 1 22 1-12 1-34 1 25 1-7 1 11 1-4 1-36 1 18 1 38 1-16 1-27 1 6 1 3 1-17 1-31 1 60 1-25 1 5 1-1 1 6 1-1 1 32 1-30 1 14 1-10 1 21 1-18 1-34 1 61 1-2 1-16 1-36 1 46 1-16 1-18 1 4 1 27 1-28 1 7 1-9 1 20 1-22 1 23 1-14 1 38 1-41 1 9 1 14 1-1 1-38 1 27 1 4 1 4 1-13 1 26 1-1 1-28 1-12 1 16 1 11 1 8 1-35 1 8 1-21 1 16 1 33 1 16 1-21 1-14 1-2 1 35 1-11 1-16 1-12 1-4 1 13 1 28 1-32 1-2 1 10 1-9 1 19 1-31 1 18 1-13 1 24 1-11 1-14 1 3 1 7 1 24 1-15 1-4 1-20 1-9 1 0 1 14 1 16 1-6 1 17 1-35 1 14 1-1 1-11 1-19 1 21 1 27 1-42 1 41 1 0 1-16 1 7 1-7 1 3 1 22 1-5 1-2 1-12 1-6 1 6 1-24 1 6 1 14 1-29 1 28 1-3 1-1 1 1 1-9 1 42 1-62 1 18 1-16 1 31 1 9 1 13 1-39 1 20 1-24 1 12 1 10 1-32 1 19 1-8 1 14 1 6 1-35 1 19 1-19 1-15 1 17 1 5 1-9 1 0 1 33 1-18 1 12 1 3 1-19 1 31 1-31 1-6 1-14 1 4 1 7 1-6 1 0 1-1 1-24 1 5 1 2 1-4 1-12 1 12 1-11 1 18 1-23 1 9 1-26 1 17 1 9 1-13 1 4 1-7 1-7 1 5 1-3 1-2 1-11 1-1 1-22 1 24 1-11 1 2 1 13 1-6 1 1 1-9 1 11 1-4 1 2 1-1 1 17 1-24 1 14 1 3 1 8 1-2 1-7 1 8 1 16 1-1 1-12 1 8 1 0 1 18 1-16 1 22 1 7 1-17 1 30 1-26 1 4 1 13 1-12 1 10 1-13 1 12 1 8 1-16 1 29 1 3 1-9 1 12 1 2 1-18 1 20 1-2 1-11 1 16 1-18 1-23 1 47 1-2 1 24 1-29 1 18 1-24 1-2 1 12 1 9 1-2 1 17 1 2 1-35 1 12 1 35 1-6 1-36 1 7 1 41 1-43 1 33 1-47 1 27 1-12 1 21 1 15 1-12 1 9 1 2 1 8 1-20 1-34 1 6 1 37 1-3 1 7 1-22 1-2 1-21 1 11 1 15 1-8 1-15 1 47 1-21 1 3 1-2 1-2 1-15 1 29 1-22 1-6 1 34 1-17 1 8 1-38 1 56 1-40 1-4 1 11 1-8 1 1 1 21 1 15 1-25 1 4 1 1 1 2 1-22 1 45 1-48 1 12 1 42 1-33 1-14 1 18 1 34 1-35 1-18 1 21 1 1 1-17 1 17 1-38 1 41 1-3 1-2 1-11 1 31 1-10 1 10 1-30 1 21 1 15 1-4 1-36 1 13 1-9 1 6 1 4 1 27 1-3 1-26 1 16 1-23 1-10 1-9 1 16 1 44 1-28 1 5 1 8 1-46 1 27 1 4 1 19 1-13 1-32 1-1 1 31 1-1 1-25 1 1 1 22 1-21 1 26 1-9 1-1 1 34 1-42 1-5 1 10 1-29 1 49 1-2 1-9 1-2 1 0 1-23 1 21 1 2 1 14 1-8 1 11 1-5 1-41 1 19 1 21 1-16 1 7 1 13 1-28 1 18 1 22 1-24 1-11 1 11 1-6 1-13 1 29 1-10 1-28 1 47 1-33 1 16 1 6 1-9 1-17 1-17 1 27 1 13 1-22 1 12 1 26 1-35 1 77 1-56 1-23 1 24 1-10 1 24 1-39 1 30 1-27 1 22 1 18 1-21 1 19 1-25 1 18 1-24 1 7 1 4 1-23 1 9 1 5 1 35 1-24 1-19 1-1 1 17 1-16 1 20 1-19 1 1 1 28" stroke="#0000ff"/>
<path vector-effect="non-scaling-stroke" d="M0 2353l1 13 1 49 1-26 1-59 1 43 1-15 1 21 1-45 1 49 1 0 1 35 1-31 1 5 1-50 1 97 1-107 1 78 1-36 1-13 1 6 1 1 1 27 1-12 1 42 1-84 1 47 1-22 1 43 1-73 1 46 1 14 1-42 1 63 1-20 1 22 1-1 1-48 1 5 1 16 1 24 1 3 1-39 1 4 1-5 1 6 1 9 1 4 1 55 1-64 1 6 1 19 1-35 1 15 1 11 1 19 1-52 1 68 1-43 1 14 1 17 1-4 1 10 1-21 1-5 1 9 1-32 1 55 1-49 1-12 1 83 1-54 1-25 1 76 1-54 1 35 1-47 1 15 1-36 1-5 1 24 1 23 1 22 1 41 1-86 1 51 1-39 1 11 1-32 1 0 1 18 1-10 1 30 1-17 1 48 1-26 1 0 1 25 1-15 1-14 1-1 1 0 1 30 1-7 1-10 1 11 1-33 1 27 1-47 1 68 1-31 1 3 1 10 1-14 1-6 1 36 1-26 1-25 1 33 1-52 1 83 1-45 1 6 1 54 1-2 1-49 1 12 1 12 1 15 1-44 1 6 1 27 1-23 1 12 1-3 1-42 1 7 1-43 1 58 1 39 1-59 1 57 1-5 1-25 1 1 1 3 1-23 1 14 1 6 1 17 1 4 1-37 1 39 1-39 1 15 1 13 1-9 1-2 1 10 1-20 1-2 1 11 1 29 1-26 1 49 1-41 1-76 1 61 1 51 1-40 1-10 1-10 1 53 1-8 1-7 1-6 1 25 1-15 1-49 1 48 1-14 1-6 1 21 1-18 1-70 1 107 1-12 1-27 1-6 1 14 1-36 1 39 1-13 1-3 1-13 1 6 1 43 1 6 1-20 1-13 1-20 1 38 1 22 1-77 1 67 1-80 1 44 1 18 1-42 1-3 1 40 1 17 1-32 1 43 1-50 1 61 1-39 1 3 1 9 1-7 1 37 1 8 1-39 1-17 1-24 1 11 1 18 1-3 1 2 1 1 1 12 1-44 1 8 1 52 1-7 1-32 1 43 1-47 1 11 1-37 1 63 1-20 1 26 1-9 1-14 1 2 1 24 1-32 1 1 1 5 1 18 1 3 1 24 1-48 1 32 1-45 1 30 1-11 1 38 1-26 1-25 1 24 1-5 1-15 1 0 1-15 1 87 1-61 1 20 1-51 1 2 1 22 1 0 1 23 1-43 1 37 1 23 1-58 1 44 1-45 1 31 1 1 1 32 1-57 1 20 1 21 1-53 1 28 1-20 1 4 1 32 1 1 1 44 1-29 1-2 1-34 1-3 1 10 1-57 1 93 1-55 1-10 1 14 1 32 1 8 1-38 1 19 1-12 1-22 1 27 1-3 1-37 1 62 1-64 1 43 1-30 1 5 1 2 1 34 1-47 1 25 1 41 1-53 1 15 1 17 1-30 1 25 1-27 1 32 1-15 1-24 1 55 1-36 1-4 1-16 1 11 1 9 1 6 1 22 1-58 1 23 1 36 1-24 1 5 1 28 1-30 1 3 1-12 1 43 1-17 1-43 1 30 1-40 1 53 1-10 1-20 1-6 1-34 1 61 1-21 1-5 1 25 1-34 1 2 1-3 1-16 1 90 1-63 1-3 1 29 1-97 1 75 1 0 1-23 1 34 1-60 1 48 1 21 1-75 1 18 1 30 1 3 1-16 1 24 1-3 1-39 1 30 1-29 1-20 1-8 1 82 1-28 1 50 1-83 1 26 1 17 1-12 1 15 1-9 1-18 1-42 1 33 1 64 1-23 1 15 1-48 1 9 1-16 1 30 1-8 1 9 1 32 1-63 1 37 1-52 1 61 1-38 1 9 1 5 1 36 1-41 1-12 1-17 1 36 1-28 1 8 1 11 1 17 1-34 1 33 1 27 1-80 1 70 1 19 1-68 1 30 1-49 1 41 1-16 1 15 1-30 1 2 1 9 1-7 1 2 1 10 1-23 1 24 1 15 1-69 1 61 1-23 1-10 1-6 1 12 1 2 1 27 1-40 1 56 1-46 1 37 1 10 1-57 1 56 1 28 1-65 1 25 1-17 1 5 1-7 1-7 1 30 1 4 1-22 1 37 1-11 1-9 1-35 1 64 1-14 1-86 1 25 1 16 1 35 1 7 1-38 1 13 1 11 1-49 1 46 1-23 1 12 1-6 1-28 1 4 1 26 1 2 1-10 1 32 1-35 1-22 1 22 1 4 1 0 1 32 1-16 1 13 1-11 1-20 1 30 1-33 1 13 1-32 1 28 1-11 1 17 1 35 1 14 1-34 1-26 1 21 1-16 1-21 1 14 1-5 1-10 1 50 1-49 1 1 1 30 1-35 1-12 1 7 1 33 1-3 1-2 1-20 1-11 1 45 1-59 1 30 1-28 1 23 1 6 1 34 1-103 1 106 1-57 1 29 1 13 1-40 1 16 1 15 1-16 1-16 1 23 1-2 1-41 1 72 1-29 1-68 1 40 1 64 1-3 1-34 1-50 1 36 1 33 1-18 1-18 1-11 1 39 1-27 1 14 1 4 1 28 1-37 1 1 1-52 1 73 1-6 1-23 1-58 1 43 1 16 1 51 1-39 1 5 1 0 1 13 1-64 1 7 1-9 1 23 1-2 1 11 1-29 1 28 1-25 1 76 1-68 1 78 1-24 1-73 1 55 1-9 1-56 1 55 1-19 1 11 1-31 1 20 1 12 1-16 1-11 1 11 1-22 1 34 1-76 1 105 1-38 1 11 1 9 1-55 1 91 1-88 1 40 1-4 1 26 1-35 1-37 1 45 1-74 1 59 1-7 1 52 1-49 1-4 1-9 1-3 1 7 1 30 1-51 1 29 1-33 1 33 1 8 1-37 1 17 1 17 1 17 1 5 1-29 1-24 1-17 1 63 1 16 1-28 1 31 1-53 1 1 1 51 1-69 1 43 1-7 1-6 1 41 1-70 1 12 1-45 1 27 1 14 1 2 1 5 1 13 1-27 1-35 1 56 1 7 1-43 1 9 1 68 1-20 1 1 1-12 1-15 1-18 1 28 1-21 1-7 1 11 1-3 1 25 1-50 1 92 1-95 1 15 1 36 1-48 1 8 1 13 1-82 1 66 1-13 1 19 1 20 1 3 1 22 1-2 1-12 1-30 1 29 1-57 1 24 1 41 1-18 1-61 1 21 1 41 1-9 1 12 1-79 1 13 1 27 1-21 1 25 1 1 1 8 1-14 1 19 1 5 1-18 1-39 1 69 1-31 1 5 1-8 1-50 1 60 1-35 1-17 1 69 1-45 1 16 1 16 1 19 1-97 1 30 1 39 1-39 1-74 1 95 1 2 1 15 1-17 1-19 1 17 1-7 1-14 1 20 1 2 1-39 1 57 1-6 1-2 1-101 1 80 1-7 1-26 1 44 1-60 1 77 1-24 1-26 1 54 1-28 1-5 1-47 1 51 1 25 1-9 1-70 1 76 1 6 1-23 1-36 1-33 1 17 1 8 1 24 1 8 1-39 1-26 1 34 1-27 1 76 1-75 1 49 1 9 1-53 1 57 1-34 1-20 1-5 1 30 1 27 1-87 1 72 1-23 1-19 1 19 1 2 1-3 1 25 1-51 1 84 1-33 1-44 1-40 1 55 1-12 1 33 1-1 1 34 1-61 1 26 1-36 1 0 1 56 1-50 1 0 1-9 1 20 1 7 1-22 1-32 1 44 1-36 1 13 1 16 1 0 1-78 1 119 1-28 1 33 1 16 1-104 1 10 1 23 1 19 1-44 1 4 1 41 1-61 1 32 1 25 1-42 1 30 1-28 1-46 1 30 1 9 1-6 1 10 1 10 1-5 1-5 1-20 1 5 1-6 1-8 1 58 1-101 1 63 1-59 1 31 1 41 1-35 1 50 1-73 1 18 1-12 1 18 1-11 1-4 1 13 1 30 1-32 1-4 1-13 1-14 1-25 1 11 1 32 1-62 1 78 1-35 1-18 1 11 1 36 1-10 1-5 1 46 1 17 1-115 1 67 1-53 1-20 1 26 1 48 1-43 1-6 1 58 1-29 1-20 1 60 1-44 1-39 1-13 1 20 1 18 1 23 1-4 1-25 1-42 1 66 1-29 1-39 1-6 1 45 1 2 1 14 1-67 1 100 1-123 1 56 1 44 1-12 1-66 1 49 1 19 1-18 1-57 1 85 1-110 1 53 1-38 1 20 1 1 1 26 1-60 1 48 1 34 1-42 1 14 1-5 1-41 1 11 1 13 1 12 1 51 1-15 1-71 1-1 1-21 1-44 1 119 1-27 1-85 1 65 1 77 1-64 1-1 1-11 1-34 1-15 1 10 1 32 1-15 1 31 1 35 1-41 1 7 1-42 1-33 1 117 1-50 1 14 1-54 1-47 1 102 1-120 1 67 1-14 1 25 1 19 1 0 1-102 1 105 1-100 1 87 1-39 1-25 1 19 1-28 1 44 1 32 1-6 1-27 1 36 1-22 1 56 1-58 1-39 1 9 1-17 1 15 1 4 1 28 1 3 1-27 1 12 1-41 1 5 1-68 1 58 1 9 1 107 1-139 1 49 1-15 1-45 1 64 1-10 1-53 1-31 1 79 1-49 1 73 1-34 1 27 1-30 1 64 1-31 1 29 1-51 1-41 1-15 1 32 1 27 1-33 1 109 1-91 1 18 1-14 1-49 1 82 1-15 1 7 1-65 1 33 1-3 1 42 1-92 1 73 1 21 1-62 1-15 1 76 1-39 1 31 1-15 1 11 1-46 1-71 1 97 1-47 1 47 1-42 1 77 1-69 1 38 1 10 1-44 1 14 1-14 1-34 1 87 1-88 1-24 1 37 1 22 1-3 1-15 1-5 1-63 1 100 1 40 1-91 1-40 1 93 1-35 1-140 1 117 1-26 1 9 1 116 1-38 1-43 1 6 1 57 1-99 1 67 1-52 1 54 1-24 1-36 1 66 1-20 1 47 1-84 1 20 1-32 1 70 1-74 1 27 1 48 1-29 1-10 1-2 1 2 1 11 1-37 1-63 1 123 1-90 1 107 1-59 1 108 1-76 1-29 1 18 1-88 1 58 1-21 1 13 1-79 1-6 1 109 1-27 1-19 1 12 1-22 1 5 1 43 1-36 1 35 1-55 1-43 1 43 1 18 1-38 1 27 1-6 1 53 1-4 1 8 1-72 1 41 1 35 1-43 1-11 1-28 1 60 1-26 1 30 1-45 1 83 1-81 1-47 1 54 1 9 1 30 1-69 1-4 1 9 1-6 1-67 1 108 1 19 1-79 1-9 1 31 1-27 1 61 1-56 1 47 1-73 1-8 1-6 1 4 1 71 1 15 1-28 1 1 1-94 1 128 1-93 1 98 1 43 1-93 1 21 1-1 1-76 1 7 1 16 1 32 1 27 1-29 1 38 1-64 1-35 1 55 1-3 1-54 1 95 1-78 1 9 1 37 1-51 1 66 1-9 1 2 1-18 1-19 1-11 1 42 1 41 1-23 1-16 1 24 1 13 1-101 1 47 1 49 1-73 1 7 1 42 1-32 1 55 1-59 1 35 1 74 1-53 1-97 1 12 1 1 1 37 1-53 1 76 1 45 1-6 1-91 1 19 1-1 1-21 1 98 1-93 1-17 1 58 1-2 1 47 1 0 1-67 1-75 1 108 1 5 1 38 1-131 1 16 1 105 1 3 1-13 1-52 1 51 1-72 1-27 1 46 1 6 1 27 1 11 1-111 1 80 1 7 1-68 1 39 1 12 1 15 1-50 1 10 1-20 1 56 1-26 1-10 1 47 1-31 1-40 1 91 1-7 1-20 1-58 1 84 1-66 1-50 1 68 1 75 1-87 1 40 1 30 1-45 1-19 1 13 1 22 1-42 1 33 1 9 1-36 1 42 1-5 1-34 1 6 1 11 1-9 1-2 1-31 1 44 1 24 1-3 1-55 1 53 1 2 1-58 1 56 1-26 1-7 1 23 1-16 1-76 1 93 1-50 1 39 1 30 1-34 1-8 1 23 1 14 1-50 1 8 1 44 1 42 1-60 1 33 1-60 1 29 1 3 1-51 1 48 1-6 1-88 1 93 1 15 1-2 1 3 1-53 1 15 1 21 1-25 1 15 1 64 1-78 1 20 1 82 1-73 1-31 1 47 1-2 1-1 1-66 1 72 1 5 1 62 1-50 1-40 1 28 1 14 1-30 1 5 1 53 1-32 1 2 1-54 1 52 1-85 1 116 1-62 1 41 1 29 1-91 1 83 1-33 1 34 1-55 1-11 1 74 1-32 1-13 1-43 1 91 1-60 1 5 1-17 1 26 1 22 1-23 1-1 1-16 1 75 1 5 1-69 1-21 1 42 1-68 1 68 1 2 1-4 1 53 1 9 1-50 1-28 1 51 1 4 1-84 1 18 1 17 1-50 1 21 1 100 1-105 1 77 1-59 1 66 1-24 1 22 1-82 1 61 1-31 1 49 1-1 1-19 1-10 1 5 1 10 1-27 1 3 1-7 1-14 1 76 1-84 1 95 1-21 1-86 1-4 1 67 1-38 1 44 1 29 1-20 1-20 1 2 1 60 1-65 1 75 1 12 1-85 1 24 1 52 1-86 1 41 1 23 1-73 1 51 1-8 1-23 1 75 1-59 1 86 1-55 1-49 1 35 1-36 1 57 1-5 1-65 1 28 1 32 1-14 1-36 1 74 1 11 1-100 1 105 1-124 1 68 1-18 1 5 1 26 1-47 1 38 1 64 1-43 1 38 1-22 1-86 1 120 1-32 1-6 1-35 1-5 1-17 1 32 1 10 1-9 1 1 1-62 1 43 1-1 1 39 1-26 1 1 1 20 1-19 1 7 1 49 1-43 1-25 1 53 1 8 1-5 1-67 1 79 1-30 1 4 1-1 1 14 1 2 1 34 1-41 1-10 1 26 1-25 1 42 1-31 1 21 1-42 1 52 1-12 1-49 1 17 1 17 1-47 1 9 1 54 1 1 1 30 1-88 1 32 1-56 1 129 1-103 1 37 1 75 1-16 1-77 1 107 1-61 1-49 1 45 1 14 1 0 1-92 1 135 1-115 1 47 1 57 1-34 1-14 1-18 1 41 1 28 1-64 1 34 1-26 1-1 1-54 1 79 1 24 1-35 1 41 1-28 1 36 1-35 1-16 1-3 1 20 1 8 1-35 1 22 1-38 1 1 1 67 1-9 1 19 1-24 1 5 1 53 1-87 1 38 1 43 1 16 1-47 1-21 1-30 1 30 1 11 1-3 1 17 1 3 1-33 1-13 1 21 1 24 1 40 1-105 1 89 1-43 1 45 1 27 1-44 1-52 1 24 1 27 1-22 1 10 1-22 1 19 1-12 1 48 1-16 1 15 1-75 1 39 1-9 1 11 1-13 1 6 1 74 1-57 1-31 1 32 1 82 1-48 1-51 1 22 1 7 1 4 1-58 1 29 1 26 1-48 1 50 1 9 1 23 1 10 1-38 1 13 1 16 1 11 1-28 1-25 1 43 1 9 1-21 1 14 1 33 1-64 1-6 1-11 1 46 1 20 1-44 1 73 1-74 1 28 1-11 1 47 1-61 1 71 1-55 1-36 1 25 1 14 1 58 1-66 1 15 1 65 1-58 1-23 1-3 1-24 1 59 1 28 1-48 1-21 1 42 1-7 1-4 1 19 1-12 1-12 1 43 1-87 1 23 1 27 1-32 1 88 1-112 1 89 1-3 1-6 1 3 1-29 1-4 1 66 1-47 1-39 1 8 1-9 1 56 1 28 1-44 1 15 1-19 1 43 1 1 1 2 1 28 1-91 1 63 1-71 1 70 1 4 1-2 1 4 1-27 1-15 1 44 1-41 1 41 1-46 1 37 1-1 1-33 1 17 1 38 1-26 1 16 1-31 1 21 1-46 1 21 1 61 1-20 1-14 1 4 1-43 1 53 1-47 1 15 1 43 1-41 1 8 1 13 1 7 1 37 1-88 1 39 1 30 1-31 1 4 1-11 1 16 1 29 1 18 1-25 1 31 1-36 1-50 1 71 1-79 1 58 1 3 1-32 1 28 1-9 1 21 1-12 1 28 1-28 1 30 1-16 1 8 1-3 1-16 1 47 1-14 1-80 1 31 1 84 1-55 1 89 1-67 1 2 1-25 1 8 1 12 1 22 1-22 1-3 1-25 1 15 1 2 1 10 1-16 1-9 1 22 1-59 1 28 1 20 1 34 1-29 1-10 1 49 1-21 1 42 1-43 1-13 1 11 1 60 1-6 1-37 1 25 1-66 1 73 1-24 1-11 1 4 1 7 1-18 1 3 1-22 1 76 1-66 1 21 1 33 1 6 1 6 1-54 1 5 1 11 1-48 1 75 1-68 1 42 1 29 1-1 1-34 1 37 1 6 1-74 1 39 1 26 1-5 1-17 1 4 1 66 1-71 1 39 1-59 1 47 1 14 1-38 1-4 1 67 1-53 1 34 1-65 1 85 1-97 1 29 1 10 1 15 1 8 1 39 1 14 1-5 1-27 1-15 1-60 1 54 1-13 1 33 1-42 1 5 1 3 1 38 1-12 1-31 1-18 1 31 1-1 1 3 1 18 1 17 1 2 1-37 1-2 1 60 1-45 1 26 1-13 1 5 1 33 1-48 1 36 1-14 1-17 1-8 1-1 1 45 1-4 1-48 1 33 1-57 1 49 1 53 1-84 1 39 1-23 1 18 1-29 1 33 1-65 1 54 1-1 1 6 1 56 1-83 1 13 1-18 1 49 1-12 1-31 1 56 1-17 1 30 1-17 1-17 1-22 1-36 1 41 1 46 1-36 1-15 1 28 1 13 1 54 1-98 1 17 1-20 1 11 1 43 1-26 1-35 1 73 1 12 1-25 1-47 1-1 1 62 1-60 1 12 1-23 1 88 1-67 1 14 1-15 1 2 1-12 1 60 1-47 1 56 1-70 1 46 1 13 1-55 1 37 1-21 1-13 1 18 1-38 1 42 1-32 1 57 1 23 1-2 1-55 1 16 1 55 1-18 1-16 1-71 1 47 1 67 1-45 1-23 1 14 1 61 1-28 1-67 1 5 1 31 1 33 1-53 1 5 1-51 1 51 1 32 1 1 1-54 1 59 1-42 1-15 1 51 1-55 1 30 1-10 1 19 1 10 1-17 1-10 1 9 1-48 1 60 1 57 1-43 1 21 1-29 1 2 1 11 1 7 1 0 1-38 1 23 1-39 1 66 1-27 1-6 1-25 1 46 1 14 1-12 1 16 1-48 1 45 1-24 1-68 1 77 1-33 1 23 1-13 1-5 1 51 1-41 1 19 1 14 1-27 1-22 1 35 1-4 1-20 1 27 1 30 1-7 1 16 1-4 1-30 1-4 1-28 1 59 1-44 1 30 1 28 1-39 1-41 1 12 1 18 1 44 1-42 1 5 1-23 1 36 1-6 1 19 1-44 1 40 1-52 1 20 1 3 1 10 1 15 1-69 1 58 1-8 1-23 1 26 1 20 1-22 1-1 1 30 1-36 1 47 1-17 1 2 1 5 1 17 1-49 1 47 1-50 1 32 1 6 1-11 1-31 1-2 1 3 1 27 1 6 1 10 1-52 1 47 1 18 1-21 1-4 1 21 1 20 1-2 1 2 1-70 1 68 1-43 1 29 1-35 1 24 1-23 1 8 1 55 1-77 1 54 1-22 1-29 1 61 1-32 1-14 1 23 1-28 1 61 1-78 1 25 1-37 1 56 1 15 1 3 1 16 1-38 1-11 1 34 1-37 1 24 1-20 1-6 1 17 1 29 1-5 1-18 1-68 1 65 1 10 1 4 1-30 1 42 1-16 1-55 1 66 1 22 1-33 1-26 1 64 1-19 1-70 1 72 1-16 1-3 1-50 1 2 1 46 1 43 1-43 1-1 1-18 1 6 1 35 1-44 1 65 1-34 1-4 1-11 1-14 1 11 1-29 1 37 1-48 1 101 1-56 1-36 1 44 1-3 1-16 1 20 1-26 1 16 1-1 1 17 1-25 1 21 1-76 1 96 1-22 1 10 1-19 1 28 1-22 1 6 1-3 1-14 1-9 1 36 1 2 1-16 1 32 1-26 1 9 1 15 1-9 1-21 1-22 1 8 1-6 1 45 1-105 1 135 1-70 1 48 1-18 1 6 1-44 1 56 1-26 1 17 1-37 1 22 1-16 1 25 1 10 1-22 1 16 1 2 1-13 1-5 1-39 1 72 1-21 1-10 1 12 1-18 1 6 1 19 1-47 1 29 1 13 1-42 1 11 1 57 1 22 1-44 1 9 1-36 1 53 1-33 1 4 1 7 1-22 1-3 1 16 1-24 1 11 1-47 1 38 1 35 1 16 1-12 1-34 1 22 1-24 1-3 1 49 1-32 1 2 1 12 1 18 1-19 1-8 1 14 1-9 1-6 1-44 1 32 1 18 1-21 1 68 1 11 1-13 1-61 1 33 1-1 1-2 1-45 1 59 1 19 1-20 1 30 1-56 1 24 1 14 1-51 1 19 1-15 1 39 1-47 1 34 1-20 1 34 1-33 1 9 1 10 1-24 1 8 1 5 1-6 1 18 1-24 1 20 1-9 1-8 1-11 1-18 1 27 1 29 1-20 1 42 1-57 1 14 1-28 1 63 1-57 1 41 1-3 1 53 1-29 1-12 1-14 1 40 1-51 1-20 1 49 1-21 1-15 1 25 1 4 1-47 1 58 1 24 1-55 1-25 1 41 1-9 1 21 1 4 1-23 1 38 1-79 1 28 1 21 1 5 1-11 1 13 1-39 1-23 1 72 1 12 1-30 1-26 1 11 1 30 1-9 1 26 1 8 1-9 1-33 1 30 1-12 1-7 1 0 1-6 1-21 1 32 1-26 1 17 1 20 1 0 1-60 1 27 1-9 1 31 1-22 1 38 1-31 1 21 1-32 1 6 1 10 1 17 1-56 1 48 1-34 1 37 1-44 1 31 1 37 1 6 1-55 1 61 1-47 1 11 1 11 1-9 1 6 1-4 1 16 1-14 1-15 1-12 1 0 1 21 1 18 1-8 1-14 1 17 1-22 1 16 1 8 1-18 1 38 1-4 1-31 1 20 1-9 1 4 1 0 1 22 1-21 1 0 1 14 1 0 1 19 1-55 1 33 1-55 1 42 1-29 1 0 1 26 1-20 1 18 1-53 1 89 1-87 1 44 1 51 1-66 1 67 1-12 1-25 1-6 1 2 1 13 1 15 1 8 1-74 1 65 1-5 1-40 1 47 1 1 1 0 1-21 1 19 1 9 1-39 1 3 1-1 1 38 1-24 1-16 1-6 1-5 1 32 1 14 1 10 1-49 1 1 1 1 1 2 1-13 1 65 1-23 1-20 1-43 1 83 1-12 1-13 1 13 1-30 1 29 1-25 1 22 1-13 1-24 1 5 1 46 1-1 1-25 1-11 1 6 1 18 1-37 1 50 1-37 1-6 1 23 1 42 1-55 1 7 1-16 1 30 1 1 1-5 1-8 1 16 1 10 1-26 1 5 1-8 1 2 1 37 1-46 1 25 1 19 1-32 1 23 1 4 1-46 1 51 1-41 1 24 1-34 1-1 1 29 1 39 1 20 1 4 1-28 1-3 1-8 1-2 1-21 1-1 1 19 1 1 1-22 1-12 1 10 1 85 1-83 1 44 1-4 1-2 1-35 1 55 1-35 1-19 1-2 1 13 1 46 1-70 1 14 1 14 1 10 1-32 1 2 1 9 1 26 1-17 1-1 1 9 1-2 1 18 1-34 1 15 1-13 1 28 1 3 1-22 1 30 1-28 1 32 1-36 1-1 1-21 1 10 1 13 1-35 1 43 1 18 1-6 1-7 1 10 1-25 1 2 1 27 1-19 1 23 1-30 1 24 1 12 1-27 1 36 1-2 1-81 1 103 1-86 1 83 1-68 1-25 1 16 1 37 1-30 1 9 1 37 1-45 1 31 1 16 1-64 1 14 1 29 1-5 1 6 1-46 1 24 1 25 1 4 1 14 1-33 1-7 1-5 1 2 1-23 1 76 1-43 1-5 1 1 1 24 1-9 1-18 1 37 1-15 1-9 1 3 1 24 1-9 1-16 1 23 1-64 1 58 1-32 1 5 1 8 1 42 1-40 1 0 1 15 1-52 1 36 1 18 1-33 1 31 1-26 1-15 1 48 1-16 1 14 1-12 1-25 1 42 1-11 1 0 1-16 1-14 1 51 1-13 1-12 1-15 1 38 1-43 1 2 1 58 1-31 1 6 1-3 1 28 1-34 1 2 1-28 1 19 1-32 1 23 1 8 1 14 1 13 1-40 1-8 1 27 1-23 1 51 1-8 1-45 1 24 1 21 1-44 1 9 1 8 1 29 1-18 1-14 1 11 1-5 1 2 1 6 1-4 1 8 1-13 1-6 1 0 1-26 1 22 1 45 1-36 1 11 1 7 1-27 1 3 1 17 1-28 1 36 1-4 1-9 1 0 1 10 1-13 1-50 1 59 1-29 1 9 1 2 1 0 1-25 1-4 1 36 1 2 1 8 1-33 1 19 1 21 1-22 1-4 1 51 1-72 1 17 1-6 1 12 1 72 1-83 1 15 1-5 1-4 1 31 1-25 1 30 1 7 1-37 1 37 1-50 1 29 1 14 1-40 1 19 1 11 1 2 1-5 1 33 1-42 1 26 1 18 1-53 1 4 1-12 1 34 1 14 1-62 1 16 1 6 1 56 1-51 1 15 1-31 1 40 1-37 1 19 1-19 1 19 1-2 1 8 1-1 1 31 1-49 1 40 1-20 1-9 1 9 1-1 1 12 1-1 1-4 1-7 1-36 1 48 1 4 1-14 1-1 1-22 1 21 1 11 1-42 1 16 1-1 1 34 1-33 1-26 1 37 1 23 1-29 1-6 1 13 1 28 1-38 1 0 1 13 1-23 1-18 1 35 1-10 1 13 1-4 1 7 1-31 1 27 1-24 1 23 1-15 1 40 1-49 1-27 1 45 1-12 1-9 1 21 1 26 1-35 1-10 1 38 1-6 1-22 1-11 1 22 1-27 1 0 1-5 1 24 1 16 1-28 1 30 1-70 1 33 1-32 1 45 1 4 1-58 1 16 1 12 1-31 1 7 1-6 1 15 1-18 1-12 1 2 1 7 1-2 1-11 1 18 1-32 1 1 1 1 1-22 1 19 1-17 1-8 1-34 1 3 1 1 1-2 1-35 1-8 1-22 1-13 1 26 1-26 1-4 1-4 1-26 1-9 1-26 1-6 1 2 1 0 1-15 1-30 1-10 1 7 1-11 1-7 1-10 1 4 1-15 1 8 1-13 1-7 1-12 1 15 1 7 1-5 1-8 1-4 1 22 1 29 1-24 1 16 1 16 1 19 1-12 1 22 1 14 1-7 1 31 1-6 1 26 1 18 1 4 1-6 1 37 1 12 1 3 1 20 1-7 1 4 1 20 1 19 1 16 1-16 1 23 1 7 1-2 1-17 1 12 1 50 1-34 1 2 1 11 1 24 1 32 1-10 1-10 1 7 1 17 1-2 1-28 1 55 1-2 1-31 1 17 1 14 1 0 1-8 1 9 1 33 1-35 1 24 1-11 1-23 1 33 1-4 1 16 1 9 1-8 1-12 1 5 1 6 1-28 1-3 1 33 1-33 1 16 1 37 1-15 1 7 1-22 1 21 1-35 1 1 1 12 1-9 1 37 1-26 1-18 1 38 1-3 1 9 1-42 1 6 1-25 1 48 1-8 1-9 1 35 1-37 1 4 1-6 1-2 1 17 1-2 1-3 1-13 1-4 1 13 1 10 1-14 1 8 1 2 1-11 1-10 1 25 1 32 1-20 1-10 1-10 1 1 1 31 1-39 1 53 1-31 1 5 1-11 1 24 1 0 1-30 1 46 1-29 1-30 1 36 1-3 1-2 1 12 1 5 1-41 1 18 1 1 1 3 1-33 1 37 1-3 1 34 1-50 1 7 1 17 1-8 1 16 1 6 1-38 1 18 1 10 1-25 1 54 1-35 1-2 1-30 1 15 1-24 1 49 1-27 1 16 1 6 1-4 1-11 1 21 1-33 1-14 1 7 1 41 1 12 1-38 1 2 1 17 1-31 1 15 1-17 1 27 1-54 1 26 1-5 1 31 1 10 1-9 1 38 1-37 1-18 1 9 1 21 1-4 1 31 1-35 1-21 1-3 1 35 1-65 1 58 1 8 1-23 1 12 1 20 1 3 1-2 1-7 1-21 1-18 1-17 1 71 1-13 1-42 1 43 1-28 1-1 1-13 1 60 1-63 1 5 1 33 1 3 1-6 1-28 1 15 1-12 1 7 1 42 1-28 1 10 1-31 1 7 1 18 1 14 1-25 1 31 1 16 1-77 1 33 1 13 1-17 1 35 1-28 1 4 1-36 1 48 1-24 1 14 1-13 1-8 1 10 1-20 1 18 1 25 1-3 1-35 1 33 1-22 1-5 1 23 1 3 1-25 1 29 1-18 1 40 1-67 1 23 1 0 1-11 1-9 1 48 1-18 1-30 1 15 1 3 1 13 1-24 1 46 1-27 1 26 1-16 1-15 1 2 1 11 1-5 1 2 1 10 1 8 1-41 1-11 1 13 1 39 1-26 1-8 1 18 1 8 1-34 1 2 1 17 1-1 1-11 1 55 1-19 1-25 1 15 1-34 1 39 1-21 1-9 1-12 1 40 1-14 1-12 1 30 1-23 1 9 1-13 1 16 1-29 1 14 1 8 1-16 1 5 1 24 1-22 1 28 1-11 1-8 1-27 1 55 1-1 1-21 1-3 1-1 1-9 1 3 1 12 1-35 1 27 1 8 1-39 1 20 1-16 1 2 1 36 1-32 1 70 1-52 1-11 1 10 1 5 1 5 1 1 1 0 1 14 1 2 1-20 1 5 1-20 1 3 1 4 1 31 1-37 1 17 1-1 1 12 1-25 1 4 1 26 1-14 1-15 1 32 1-20 1-11 1 26 1 16 1-39 1-11 1-25 1 76 1-43 1 5 1-13 1 15 1-15 1 46 1-15 1-22 1-12 1 33 1-26 1 38 1-17 1-6 1-21 1 26 1-28 1 45 1-57 1 30 1 49 1-52 1 23 1 6 1-13 1-9 1 21 1 1 1-29 1 39 1-5 1-42 1 28 1 1 1-7 1-14 1-10 1 30 1-37 1 18 1-24 1 22 1 16 1-29 1 40 1 3 1-9 1 4 1 15 1-13 1-44 1 28 1-12 1 16 1-31 1 31 1-5 1 14 1-27 1 13 1-33 1 35 1 2 1-23 1 24 1-25 1 33 1-23 1 7 1 37 1-19 1 17 1-9 1-20 1 30 1-23 1-5 1-7 1-13 1 31 1-14 1 12 1-10 1 13 1-21 1 15 1 14 1 5 1-23 1-16 1 43 1-4 1-33 1 34 1-13 1-25 1 18 1-24 1 16 1-1 1 6 1 21 1-45 1-29 1 66 1-17 1 22 1-2 1 15 1-64 1 62 1-28 1-8 1 36 1-5 1-46 1 13 1 36 1-49 1 31 1 2 1-12 1-6 1 24 1-18 1-14 1 29 1-38 1 18 1 16 1-32 1 50 1-19 1-7 1-18 1 22 1-9 1 12 1-16 1 14 1-31 1-1 1 13 1-22 1 31 1 5 1-31 1 26 1-8 1-1 1 34 1-29 1 6 1-10 1 2 1 7 1 2 1-4 1 22 1-22 1 2 1 32 1-26 1 11 1-3 1-18 1 29 1-18 1-2 1-1 1 6 1 7 1-51 1 60 1-59 1 14 1 32 1-14 1 15 1-33 1 22 1 9 1-24 1 1 1 15 1 7 1-52 1 37 1 11 1 20 1-45 1 21 1-21 1 3 1 5 1 40 1-19 1 7 1-19 1 21 1-18 1 12 1-39 1 11 1 26 1 26 1-5 1-50 1 14 1-2 1 49 1-58 1 17 1 16 1-9 1-34 1 56 1-71 1 39 1-12 1-18 1 18 1-2 1-13 1 9 1 5 1 5 1-41 1 27 1 8 1 15 1 0 1-49 1 17 1 12 1 6 1 13 1-35 1-17 1 17 1 0 1-17 1-7 1 19 1-32 1 7 1 8 1-6 1-6 1-19 1-40 1 31 1 15 1-2 1 2 1-18 1 5 1-23 1 0 1 14 1-36 1-3 1 14 1-8 1-29 1 27 1-23 1-2 1 16 1-6 1 1 1 9 1-3 1-33 1 31 1 7 1-3 1 1 1 10 1 5 1 2 1 4 1-6 1 20 1-5 1 24 1-11 1 7 1-7 1 19 1 16 1-19 1 37 1-11 1 0 1 18 1-1 1-31 1 48 1-2 1-7 1-46 1-9 1 34 1 45 1 4 1-11 1-1 1-35 1 38 1-13 1 14 1-13 1 32 1-18 1 13 1-6 1-11 1-12 1 4 1 7 1 18 1 33 1-26 1-8 1 17 1-34 1 25 1 0 1-43 1 44 1-15 1 9 1-3 1 7 1-15 1 29 1 2 1-34 1 22 1-8 1 26 1-35 1 16 1-6 1-21 1 44 1-14 1-26 1 36 1 3 1-44 1 23 1-1 1 2 1 2 1-6 1-23 1 31 1-23 1 12 1 20 1 24 1-8 1-36 1 9 1 27 1-13 1 6 1-30 1 25 1 2 1 12 1 8 1-43 1 37 1-29 1 6 1 24 1-21 1 6 1 19 1 11 1-27 1-30 1 21 1-13 1 3 1 12 1-11 1 5 1-2 1-1 1-31 1 28 1 2 1 30 1-13 1-9 1-15 1 18 1-34 1 37 1-24 1 1 1 32 1-20 1-2 1-18 1 43 1-67 1 53 1-3 1 3 1-19 1-7 1 49 1-22 1 8 1-45 1 46 1 9 1-11 1-44 1 9 1-26 1 51 1 12 1-12 1-14 1-8 1 31 1-32 1 51 1-23 1 15 1-21 1-7 1 13 1-23 1 10 1 2 1-14 1 25 1-28 1-14 1 27 1 3 1-3 1 5 1 3 1 2 1-4 1-1 1-27 1 36 1 10 1-25 1-7 1 30 1-26 1 15 1 5 1 12 1 35 1-58 1-53 1 59 1-15 1 25 1-5 1 10 1-17 1 17 1-25 1 22 1-32 1 3 1 14 1 13 1-28 1 17 1 11 1 1 1-32 1 52 1-39 1 14 1 20 1-40 1-20 1 55 1-47 1 28 1-18 1 49 1-27 1 25 1-22 1-18 1 25 1-34 1 9 1 26 1-3 1-30 1 14 1-1 1-19 1 43 1-42 1 20 1 1 1 2 1-56 1 58 1-14 1 34 1-49 1 44 1-8 1-24 1 19 1 7 1-34 1-8 1 25 1 18 1-5 1-5 1-12 1 2 1 24 1-6 1 21 1-18 1-8 1-10 1 7 1 27 1-35 1 3 1 11 1 4 1 15 1-26 1 40 1-36 1 3 1 1 1 19 1-8 1-12 1-21 1-5 1 27 1 1 1-8 1 7 1-16 1 16 1 19 1-15 1-6 1 1 1 14 1-28 1 4 1-6 1-17 1 53 1-10 1-26 1 45 1-44 1 20 1-20 1 37 1-15 1 3 1 0 1 28 1-78 1 32 1 9 1 8 1-10 1 1 1 15 1 2 1-25 1 31 1-21 1 4 1 32 1-10 1-59 1 47 1 3 1-10 1-17 1 36 1-34 1 8 1-12 1 9 1-22 1 45 1-30 1 11 1-7 1 33 1 10 1-28 1-5 1 1 1-20 1-1 1 7 1 11 1-13 1 7 1 5 1 11 1-9 1-13 1 10 1-22 1 42 1-7 1-4 1-37 1 23 1 8 1-9 1 19 1-37 1 34 1 11 1-28 1-1 1-10 1 28 1-12 1 3 1-11 1 20 1-8 1-3 1-4 1 13 1-13 1-4 1 2 1 0 1-10 1 49 1-3 1-54 1 15 1-4 1 43 1-35 1 16 1-21 1 10 1 19 1 21 1-33 1 22 1 3 1-4 1-1 1-33 1 30 1-15 1-36 1 43 1-8 1-15 1 25 1-25 1 7 1-2 1 32 1-33 1 40 1-21 1 14 1-20 1 0 1 1 1 11 1-7 1 8 1-32 1 36 1 7 1-13 1-2 1-2 1-17 1-8 1 15 1 4 1-5 1 11 1-18 1 9 1-15 1-3 1 43 1-19 1-7 1-14 1 24 1 24 1-43 1 6 1 12 1-22 1-18 1 45 1-15 1 21 1-3 1-13 1-25 1 45 1-13 1-5 1-1 1-1 1 8 1-27 1 21 1-19 1 3 1 13 1-7 1 9 1-2 1-10 1 21 1-3 1-13 1-7 1 36 1-47 1 33 1-21 1 25 1-16 1 32 1-22 1-12 1-7 1 22 1-11 1-27 1 8 1-9 1 56 1-4 1-25 1 21 1-22 1 0 1 1 1 13 1-20 1 16 1-7 1-30 1 8 1 35 1-16 1-4 1 6 1-4 1 5 1 15 1-22 1 13 1 11 1-12 1-39 1 56 1-39 1 10 1 18 1 21 1-19 1-9 1-8 1-3 1-7 1 29 1-15 1 4 1-24 1 25 1-30 1 35 1 22 1-45 1-4 1 40 1-30 1 29 1-41 1 27 1 10 1-9 1-21 1-29 1 42 1-10 1 14 1 25 1-52 1 20 1 17 1 21 1-31 1 18 1-33 1 15 1-1 1 11 1-11 1-1 1 19 1-16 1-3 1 6 1-6 1 18 1-6 1-24 1 14 1-27 1 12 1 15 1 21 1-14 1 11 1-28 1 32 1-12 1-17 1 1 1 4 1-20 1-1 1 12 1 16 1-6 1 29 1-10 1-22 1 24 1-25 1 3 1 13 1 31 1-42 1 34 1-34 1 21 1 2 1-8 1 0 1-15 1-22 1 27 1 0 1 28 1-27 1 3 1 4 1-20 1 15 1 13 1-19 1-16 1 19 1 16 1-18 1-6 1 20 1-37 1 25 1-1 1-13 1 12 1 17 1-1 1-12 1 15 1-8 1-29 1 35 1-16 1 2 1 1 1 21 1-31 1 17 1-10 1-7 1-17 1 36 1-19 1 2 1 5 1-8 1-17 1 51 1-14 1 1 1-8 1-5 1 5 1 2 1 2 1 19 1-43 1-5 1 14 1 17 1-6 1-34 1 40 1 13 1-27 1 16 1-8 1-14 1 30 1-20 1-21 1 37 1-48 1 64 1-68 1 24 1-19 1 39 1 12 1-42 1 28 1-27 1-8 1 30 1 16 1-17 1 0 1 14 1-9 1 9 1 1 1-7 1 1 1 3 1-13 1-2 1-6 1 23 1-21 1 26 1 3 1-20 1 0 1 24 1-19 1 27 1-49 1-5 1 26 1 0 1-8 1-19 1 24 1-6 1 15 1-5 1-16 1 6 1 19 1-16 1-9 1 5 1 34 1 7 1-26 1 4 1-5 1-2 1-38 1 68 1-39 1 10 1 3 1-23 1-9 1 32 1-5 1 5 1 16 1-42 1 5 1 17 1 12 1 2 1-32 1 8 1-4 1-6 1 21 1-26 1 29 1-23 1 43 1-38 1 23 1 3 1-24 1 15 1-2 1-18 1 8 1 38 1-27 1 3 1-38 1-3 1 38 1-13 1-16 1 8 1 2 1-19 1 42 1-45 1 64 1-61 1 17 1 23 1-6 1 11 1-27 1-20 1 47 1-27 1 17 1 17 1 5 1-60 1 41 1-31 1 11 1-4 1 41 1-22 1-17 1 29 1-30 1 37 1-30 1 17 1 11 1-36 1 29 1-4 1-1 1-24 1 22 1-14 1 18 1-39 1 29 1-11 1-7 1 40 1-37 1 8 1 17 1-24 1 33 1-33 1-1 1 8 1 2 1 32 1-10 1-21 1 19 1-28 1 21 1-9 1-7 1 31 1-15 1-2 1-30 1 22 1 8 1-40 1 49 1-17 1 3 1-17 1-14 1 24 1 0 1 3 1 35 1-36 1 35 1-38 1 23 1-25 1 4 1 33 1-17 1-33 1 36 1 4 1-11 1-18 1 8 1 12 1-5 1-2 1-19 1 46 1-16 1-28 1-8 1 37 1-15 1-33 1 37 1 2 1-18 1 0 1 26 1-30 1-3 1-13 1 34 1 21 1-21 1-24 1 27 1 10 1-23 1 16 1-9 1 37 1-48 1-15 1 25 1 23 1-19 1 17 1-13 1 15 1-22 1-10 1-2 1 5 1 14 1 10 1-25 1 31 1-29 1 26 1-28 1 8 1 13 1-13 1 52 1-42 1 7 1-30 1 11 1 26 1-4 1-9 1-2 1-17 1 14 1-13 1-10 1 17 1 30 1-30 1 11 1-21 1 10 1 22 1-14 1-10 1 26 1-18 1 11 1 21 1 2 1-53 1 22 1-21 1 15 1 8 1-15 1 29 1-22 1-26 1 28 1-22 1 12 1-5 1 13 1-28 1 19 1 12 1-15 1-15 1 33 1-9 1-16 1-3 1 15 1 15 1-28 1 11 1 31 1-25 1 5 1-3 1 22 1-37 1 16 1 0 1 9 1-13 1-33 1 20 1 15 1 23 1-38 1 38 1-27 1 14 1-4 1-20 1 19 1-12 1 28 1 1 1-15 1-2 1 0 1 17 1-16 1-24 1 25 1 45 1-66 1 27 1-9 1 19 1-1 1-24 1 17 1-31 1 23 1-30 1 41 1-25 1 16 1-18 1 22 1-12 1-12 1 18 1-7 1-10 1 3 1 14 1-20 1 22 1 0 1-13 1 13 1-23 1 18 1-11 1 22 1-2 1 25 1-44 1 19 1-16 1 16 1 21 1-13 1-17 1-1 1-19 1-6 1 25 1-11 1 21 1-17 1 21 1-25 1-1 1 38 1-37 1 10 1 3 1 4 1-42 1 43 1-24 1-10 1 38 1-31 1 30 1 8 1-23 1 2 1-26 1 16 1 41 1-20 1 3 1 0 1-3 1 1 1 1 1-35 1 0 1 17 1 16 1-32 1 33 1-26 1 44 1-15 1 23 1-17 1-43 1 22 1 10 1 0 1-16 1-16 1 8 1 9 1 3 1-7 1 0 1 6 1 12 1-23 1 13 1 13 1-23 1 6 1-18 1 20 1 0 1 14 1-10 1-20 1 22 1-20 1 6 1 1 1 42 1-10 1-45 1 29 1 11 1-3 1-14 1 2 1-3 1 1 1-4 1-14 1 31 1-20 1 40 1-28 1-1 1 15 1-11 1-4 1-20 1-1 1-2 1 37 1-25 1 9 1 3 1-18 1 13 1-7 1-8 1 9 1-11 1 15 1-1 1 4 1 23 1-26 1 23 1-2 1-27 1-4 1 3 1 21 1-9 1 5 1 2 1-2 1 13 1-49 1 25 1-17 1 41 1-19 1 2 1-21 1 20 1 9 1-15 1 9 1-1 1-22 1 21 1-6 1-9 1 33 1-9 1-12 1-5 1 22 1-30 1 22 1 11 1-42 1 20 1-23 1 69 1-48 1 10 1 16 1-36 1 20 1-21 1 43 1-30 1 9 1-6 1 32 1-28 1-10 1-7 1 19 1-25 1 21 1-7 1 4 1-15 1 5 1-6 1 16 1 23 1-10 1 0 1 14 1-57 1 52 1-39 1 34 1-19 1 11 1-53 1 27 1 15 1 13 1-26 1-27 1 23 1 4 1 24 1-31 1 37 1-17 1 0 1 6 1 8 1-9 1-11 1 0 1 6 1 0 1-11 1 15 1-6 1 3 1-3 1-23 1 14 1 7 1-7 1 9 1 8 1 24 1-10 1-33 1 9 1-3 1-5 1-3 1 6 1 13 1 13 1 17 1-16 1-30 1 6 1 17 1 1 1 4 1-43 1 36 1-14 1 19 1-26 1 19 1-20 1 30 1-21 1 34 1-57 1 3 1 41 1-14 1-4 1-9 1 16 1 3 1-11 1 12 1 21 1-26 1 18 1-29 1-3 1-5 1-6 1 6 1 3 1 17 1-31 1 45 1-46 1 35 1-4 1-1 1-11 1 15 1-44 1 62 1-19 1 0 1-8 1-17 1 9 1-15 1 20 1 10 1-34 1 43 1-18 1-3 1 16 1-15 1 0 1 4 1-13 1 11 1-23 1 26 1 27 1-24 1 3 1 0 1-25 1 9 1 9 1-1 1-14 1 8 1 4 1 6 1-31 1 34 1-1 1-15 1-26 1 32 1-21 1 36 1-28 1 32 1 17 1-17 1-12 1-17 1 12 1 1 1-15 1-26 1 35 1 14 1-6 1-7 1-8 1 14 1 17 1-65 1 71 1-31 1 4 1 0 1-18 1 38 1-48 1 38 1-40 1 47 1-28 1 24 1 2 1 9 1-21 1 9 1 5 1-23 1 5 1 39 1-69 1 58 1-24 1-7 1-18 1 26 1 13 1-15 1 27 1-38 1 6 1 6 1-9 1 10 1-13 1-7 1 10 1 17 1 5 1-28 1 33 1-16 1-3 1-13 1 15 1-8 1-7 1 26 1-2 1-10 1 17 1-3 1-4 1-7 1-16 1 13 1 12 1-11 1 0 1 3 1 11 1-28 1 26 1 12 1-47 1 4 1 20 1 21 1 0 1-10 1-2 1-8 1 1 1 17 1-35 1 10 1 13 1 16 1-38 1 11 1 9 1 5 1 17 1-14 1-22 1-8 1-4 1-4 1 20 1 34 1-28 1-10 1 9 1-8 1 32 1-18 1-18 1 15 1 3 1-19 1-5 1 16 1-38 1 18 1 25 1 6 1 15 1-19 1-5 1-8 1 0 1 22 1-9 1 10 1-24 1 22 1-34 1-6 1 42 1-3 1 3 1-23 1 17 1-7 1-23 1 27 1-32 1 29 1 3 1-22 1 26 1-27 1-1 1 27 1-10 1-23 1 71 1-39 1-1 1-9 1-10 1 10 1-2 1-6 1-2 1 21 1-23 1 35 1-7 1-21 1 6 1-12 1 13 1 1 1 1 1 1 1 3 1 4 1-21 1 12 1-19 1-23 1 23 1 2 1 1 1 29 1-23 1 26 1-27 1-5 1 12 1 30 1-48 1 24 1 9 1 1 1-23 1 17 1-5 1 25 1-26 1-7 1-8 1 16 1-31 1-8 1 21 1 28 1-12 1-7 1 40 1-31 1 12 1-11 1-14 1 17 1-16 1-22 1 22 1-18 1 32 1-5 1-14 1-15 1 12 1 27 1-5 1 5 1-31 1 43 1-6 1-15 1-7 1 29 1-31 1 21 1-32 1 35 1 6 1-29 1-14 1-7 1 25 1 0 1 9 1-22 1 3 1 25 1-16 1 6 1 22 1-52 1 57 1-26 1-9 1-4 1 29 1-33 1 38 1-17 1-20 1 13 1 25 1-37 1 11 1 6 1-35 1 33 1-17 1-16 1 24 1 5 1 6 1 0 1-39 1 19 1 10 1 26 1 1 1-11 1-3 1 0 1-24 1-1 1 2 1 41 1-21 1 25 1-16 1-20 1-10 1-4 1 32 1 8 1-39 1 21 1-37 1 64 1-9 1-35 1 37 1-56 1 42 1 26 1-37 1 12 1-26 1-7 1 21 1-33 1 41 1 4 1-22 1 9 1 12 1-19 1-31 1 44 1-8 1 5 1 6 1 6 1-15 1 6 1-25 1 25 1 0 1 21 1-24 1-16 1 19 1-18 1 28 1-32 1 30 1-29 1 23 1-10 1 16 1-17 1 33 1-24 1 29 1-33 1-11 1-13 1 20 1 28 1-5 1-20 1-5 1-7 1-22 1 33 1 3 1-44 1 42 1 16 1-20 1-10 1-6 1 30 1-33 1 21 1 18 1-5 1-19 1 43 1-18 1-22 1 25 1-26 1 5 1-3 1 6 1-5 1 6 1-11 1-16 1 52 1-10 1-28 1 25 1-42 1 17 1 5 1 42 1-23 1-38 1 45 1-25 1-13 1 13 1 7 1-2 1 8 1-29 1-2 1-1 1 25 1-25 1-20 1 16 1 29 1 21 1-30 1 9 1-51 1 34 1 15 1-33 1 13 1-5 1 9 1 8 1 21 1-1 1-11 1 17 1-4 1-20 1 21 1-29 1 4 1 0 1 32 1 5 1-30 1-9 1 38 1-48 1 38 1 0 1-31 1 27 1-28 1 18 1-11 1 13 1-12 1-8 1 17 1 7 1-4 1-23 1 42 1-31 1 14 1-31 1 25 1-13 1 8 1 17 1-18 1 1 1 17 1-2 1-22 1 3 1 3 1-7 1 4 1 19 1-24 1 18 1-19 1-16 1 30 1 4 1 2 1-2 1-1 1-33 1 26 1 16 1-2 1-18 1 10 1 7 1-13 1 6 1 10 1-7 1-12 1-19 1 14 1 32 1-18 1 19 1-25 1 30 1-43 1-17 1 42 1-13 1 13 1 28 1-33 1 7 1-49 1 40 1-13 1 9 1 20 1-2 1-36 1 21 1 22 1-5 1 24 1-61 1 26 1-29 1 49 1-12 1 11 1-27 1 25 1-55 1 38 1-23 1 7 1-7 1 20 1-7 1-14 1 6 1 35 1-28 1 18 1-35 1 28 1 27 1-44 1 33 1-42 1 9 1 1 1 28 1-29 1 13 1 0 1 9 1-2 1 0 1-23 1 21 1-23 1 31 1 20 1-24 1-24 1 16 1 22 1-33 1 2 1-27 1 36 1 1 1 6 1-8 1-14 1 4 1 23 1-34 1 30 1 5 1-23 1-9 1 33 1-33 1 20 1-5 1 32 1-57 1 28 1-5 1-27 1 43 1-4 1 10 1-20 1-5 1-41 1 40 1 17 1-5 1 6 1-1 1-12 1 13 1 5 1 9 1-10 1-39 1 19 1-6 1 4 1 1 1-5 1 15 1-19 1 26 1-21 1 16 1 18 1-38 1-1 1 18 1-16 1 29 1-30 1-10 1-7 1 35 1-8 1 8 1-17 1 26 1-9 1 0 1-14 1 20 1 1 1-15 1-7 1-16 1 25 1 3 1-39 1 49 1-15 1 6 1-8 1 6 1-20 1 24 1 13 1-22 1 16 1 0 1-17 1 8 1 8 1 5 1-19 1-1 1 8 1 11 1-39 1 17 1-4 1 2 1 3 1 46 1-22 1-26 1-12 1 14 1 20 1-18 1 42 1-47 1 5 1-11 1 5 1-1 1 1 1-9 1 14 1 22 1-20 1 7 1-19 1 11 1 28 1-29 1-1 1-2 1 27 1-27 1-13 1 4 1-8 1 16 1 2 1 3 1-10 1 21 1-50 1 7 1 36 1-21 1 23 1-24 1 9 1-15 1 24 1-36 1 2 1 43 1-1 1-34 1-9 1 17 1-23 1 22 1-20 1 37 1-56 1 41 1-23 1 12 1-15 1 20 1 20 1-28 1-26 1 31 1-32 1 16 1-8 1 15 1-12 1-1 1-17 1 8 1 10 1-8 1-13 1 5 1 23 1-11 1-22 1 2 1 9 1-23 1 19 1-5 1-11 1 3 1-1 1 9 1 9 1-3 1-25 1-5 1 8 1 16 1-23 1 24 1-21 1 1 1 0 1-10 1 21 1-17 1-9 1 0 1 5 1-6 1 11 1-16 1 11 1 2 1-8 1 5 1-13 1 8 1 5 1 2 1-6 1 11 1 12 1 2 1-17 1 0 1 13 1-11 1 9 1 12 1-14 1 10 1-8 1 26 1-20 1-13 1 34 1-13 1-4 1 14 1-8 1-2 1 11 1-5 1 15 1 12 1-4 1-41 1 38 1-10 1 18 1-4 1-2 1-11 1 20 1-6 1-8 1 31 1-5 1-29 1 23 1 8 1-21 1 12 1 8 1-3 1 30 1-18 1-14 1-7 1 22 1 10 1-10 1 10 1-15 1-6 1 21 1-45 1 45 1-4 1-26 1 15 1 30 1-24 1-1 1 16 1-6 1-2 1 21 1 12 1-45 1 20 1-13 1 16 1-5 1 19 1-30 1-4 1 18 1-13 1 22 1 9 1-32 1 41 1-17 1-1 1-4 1 24 1-52 1 15 1 14 1 15 1-19 1 21 1-27 1 41 1-38 1-20 1-23 1 29 1 19 1 4 1-9 1-3 1-19 1 57 1-24 1 5 1-9 1-15 1 43 1-18 1-15 1 4 1-19 1 21 1 6 1-35 1 24 1-3 1 12 1-18 1 15 1 11 1-7 1 6 1-18 1 17 1 20 1-30 1 16 1-14 1 17 1-8 1-37 1 18 1 9 1 30 1-45 1 4 1 13 1-9 1-25 1 61 1-54 1 22 1 19 1-21 1 34 1-30 1 5 1-13 1 14 1-8 1 8 1-18 1-5 1 22 1-9 1 11 1 17 1-5 1-13 1-7 1 3 1-3 1 4 1-20 1 24 1 7 1-4 1-11 1 12 1-22 1 17 1-11 1 14 1-16 1 21 1-32 1 4 1 34 1 2 1 2 1-22 1-1 1 6 1-22 1-2 1 16 1 4 1 11 1-30 1 18 1-7 1 2 1 15 1 12 1-16 1 21 1-2 1-11 1-15 1 17 1-6 1 12 1-9 1 1 1 9 1-19 1 26 1 2 1-18 1 11 1-11 1-9 1 2 1 14 1-9 1-19 1-26 1 54 1 6 1-4 1 5 1-33 1 24 1-6 1-44 1 25 1 18 1-8 1 29 1-42 1 4 1 20 1-22 1-10 1 25v146" stroke="#000000"/>
<path vector-effect="non-scaling-stroke" d="M0 2498l1-15 1 36 1 23 1 24 1-32 1-19 1-6 1 50 1 29 1-42 1-46 1 10 1 83 1-44 1-60 1 54 1-33 1 18 1 6 1-6 1 42 1-18 1-16 1 33 1 14 1-76 1 45 1-22 1 27 1-34 1 43 1-1 1-7 1-22 1 21 1-20 1-7 1 50 1-40 1 72 1-13 1-83 1 72 1-42 1 36 1 2 1-62 1 56 1 0 1 39 1-65 1 60 1-56 1 25 1-14 1 71 1-26 1 58 1-53 1 7 1 1 1-43 1 17 1 44 1-52 1 19 1-5 1 20 1-29 1 8 1 13 1-3 1-29 1 55 1-66 1 4 1-1 1 69 1-39 1-18 1-3 1 47 1-43 1-6 1 58 1-53 1 27 1 10 1-12 1 13 1 43 1-55 1-21 1-16 1 49 1-3 1 19 1-21 1 1 1-6 1 6 1 22 1-16 1 16 1 54 1-41 1-60 1 99 1-41 1-37 1 56 1-26 1-18 1 1 1-10 1 31 1 31 1-40 1 23 1 43 1-90 1 44 1-15 1-22 1 2 1 31 1 13 1-27 1 18 1 20 1-12 1 18 1-11 1 1 1 40 1-34 1-14 1 18 1-47 1 18 1 33 1-4 1 27 1-43 1-42 1 99 1-24 1-61 1 71 1-39 1-52 1 41 1-2 1 61 1-68 1 16 1 0 1-2 1-15 1 34 1 25 1-12 1-44 1-6 1 37 1-23 1 3 1-30 1 105 1-29 1-53 1 54 1 13 1-106 1 53 1 5 1 31 1-22 1-2 1 5 1 55 1 9 1-75 1-11 1 103 1-104 1 13 1 17 1 14 1 16 1-18 1-35 1 39 1-6 1 46 1-53 1-37 1 9 1 71 1-56 1-43 1 43 1 17 1 34 1-61 1 47 1 4 1-41 1 15 1 55 1-1 1-24 1-14 1 23 1-35 1 1 1-21 1 25 1-2 1 81 1-83 1 41 1 2 1-42 1 39 1-93 1 64 1 21 1-90 1 35 1 62 1-36 1-23 1 20 1-4 1 36 1-7 1-20 1-11 1 18 1 38 1-26 1 8 1-22 1-31 1 17 1 38 1-15 1-28 1-19 1 48 1-12 1 0 1 1 1 17 1 1 1 19 1-1 1 12 1-14 1-32 1 9 1 15 1-22 1 24 1 17 1-53 1-27 1 82 1-32 1 20 1-56 1 84 1-27 1-23 1-6 1 13 1-7 1-3 1-23 1 66 1-36 1 4 1 1 1-67 1 79 1-23 1 1 1 11 1-29 1 50 1-41 1-6 1 2 1 28 1 16 1-36 1-25 1 71 1-58 1 62 1-33 1-18 1 2 1 31 1 12 1-30 1 32 1 31 1-62 1-25 1 3 1-9 1 21 1-2 1-16 1 51 1-86 1 36 1 91 1-26 1-14 1-2 1 36 1-33 1-12 1-35 1 31 1-17 1 1 1 0 1 18 1-7 1 33 1-60 1 32 1 55 1-49 1 32 1-2 1 5 1-15 1-57 1 30 1-3 1-31 1 29 1-21 1-11 1 51 1-7 1-17 1-7 1 11 1 4 1 0 1 9 1-10 1 22 1 4 1-4 1-28 1 1 1 29 1-17 1 4 1-66 1-6 1 82 1 0 1 29 1-19 1-13 1-6 1-39 1 63 1-40 1 30 1-9 1 2 1 17 1-37 1 3 1-13 1 13 1 55 1-55 1 42 1-10 1-2 1 2 1-49 1 37 1 33 1-62 1 18 1-18 1 28 1-38 1 72 1-53 1-32 1 90 1-22 1-12 1 0 1-24 1 4 1 25 1 6 1 0 1-19 1-19 1 8 1 35 1 9 1-48 1-4 1 47 1-15 1 0 1-54 1 25 1-4 1 20 1-51 1 79 1-26 1 4 1-44 1 31 1 37 1-78 1 50 1 11 1-38 1 41 1-31 1 42 1-19 1-8 1 48 1-32 1 13 1-67 1 14 1 40 1 2 1-26 1 23 1-50 1 35 1-37 1 40 1-22 1-5 1 19 1 48 1-77 1 11 1 45 1-40 1 59 1-42 1-3 1 7 1 37 1-29 1-4 1-7 1-49 1 18 1 64 1-18 1-9 1 4 1-32 1 24 1-34 1 35 1-30 1 13 1 18 1-21 1 26 1-5 1-3 1 26 1-75 1-4 1 60 1 9 1 28 1-34 1 2 1-46 1 44 1-2 1-47 1 4 1 21 1 11 1-88 1 82 1 4 1-11 1 12 1 5 1-40 1 38 1-18 1-19 1 31 1 35 1-80 1-5 1-1 1 99 1-61 1 5 1-20 1-4 1-30 1 60 1 2 1-61 1 25 1 8 1 19 1 8 1 23 1 6 1-8 1 7 1-68 1 16 1 46 1-24 1-7 1-55 1 3 1 70 1-11 1-18 1-4 1-36 1 57 1 18 1 16 1-44 1-7 1-25 1 63 1 12 1-64 1 25 1-6 1-19 1-53 1 58 1 26 1-57 1 16 1-68 1 126 1-23 1-13 1-9 1-10 1 14 1-6 1 1 1 5 1 4 1 39 1-84 1 47 1-25 1-15 1-34 1 82 1-45 1 6 1 33 1-44 1 31 1-4 1 24 1 5 1-52 1 49 1-29 1 6 1-10 1 27 1-56 1 41 1 25 1-42 1 65 1-78 1 26 1-20 1-4 1-15 1 16 1 13 1-21 1 46 1 18 1-86 1 66 1-19 1 1 1 62 1-36 1-25 1-4 1-67 1 82 1-43 1 26 1-3 1 24 1 30 1-30 1 7 1-43 1 19 1 9 1-63 1 98 1-79 1-16 1 82 1 13 1-81 1 2 1 106 1-86 1-60 1 38 1 74 1-38 1 2 1 13 1-17 1-29 1-36 1 57 1-45 1 30 1 51 1-35 1-14 1-1 1 19 1 5 1-65 1 43 1 43 1-28 1-44 1 2 1-40 1 35 1 69 1-49 1-23 1 7 1 13 1 0 1-8 1-12 1 40 1 25 1-61 1 0 1 49 1-77 1 25 1 5 1 16 1-14 1-18 1 34 1-44 1-17 1-9 1 80 1-72 1 63 1 5 1 4 1-29 1-12 1 18 1-20 1-21 1 74 1-64 1 78 1-38 1-29 1 26 1 22 1-76 1 12 1-4 1 35 1 6 1-11 1-23 1 5 1 50 1-3 1-29 1-43 1 56 1-11 1-1 1 43 1-28 1-53 1-1 1 69 1-35 1 19 1-30 1-26 1 37 1 38 1-37 1-44 1 24 1-6 1 19 1 25 1 27 1-52 1-20 1 14 1-2 1-14 1 13 1-2 1-35 1 50 1-28 1-19 1 43 1-30 1 66 1-38 1-13 1-26 1 10 1 36 1-47 1 43 1-87 1 68 1 18 1-15 1-12 1 30 1-57 1-5 1 32 1 32 1-24 1-20 1 14 1 3 1-52 1-48 1 53 1-16 1 27 1-20 1 9 1 39 1-11 1-5 1 50 1-66 1 2 1 49 1-74 1-17 1 89 1-30 1 7 1 0 1 7 1-43 1 11 1-33 1 37 1 2 1-22 1 33 1 70 1-128 1 60 1 3 1 3 1-59 1 61 1-18 1-25 1-8 1 17 1 21 1-3 1 43 1-83 1 29 1-34 1 37 1-21 1-24 1-24 1 17 1 30 1 38 1-23 1-63 1 22 1 15 1-6 1 4 1 22 1-20 1-29 1-41 1 50 1-44 1 47 1 14 1-54 1 37 1-7 1 70 1-47 1-76 1 73 1-2 1-20 1-7 1 30 1 2 1-9 1-46 1 23 1-43 1 1 1 29 1-16 1 19 1 92 1-64 1-45 1-42 1 41 1-20 1-25 1 93 1-40 1 29 1 85 1-92 1-5 1 7 1-21 1-19 1 19 1 43 1-46 1-36 1 3 1 7 1 33 1 14 1 0 1 22 1-46 1 33 1-17 1 12 1-83 1 100 1-91 1 13 1 61 1-39 1 70 1-53 1-39 1 38 1-19 1 63 1 1 1-29 1-39 1 16 1 30 1-61 1-1 1 53 1-4 1-33 1-2 1-56 1 102 1-44 1-44 1 9 1 7 1 84 1-34 1-68 1 105 1-19 1-80 1-54 1 119 1-53 1 14 1-14 1 58 1 7 1-24 1-33 1 13 1 10 1-74 1 93 1-54 1 19 1-6 1 25 1 4 1 37 1-87 1-20 1 34 1-28 1 50 1-57 1 30 1 26 1 2 1-29 1 40 1-6 1-102 1 68 1-7 1-17 1-13 1 22 1 10 1-5 1 36 1-14 1-55 1-7 1 54 1-54 1 28 1 10 1 18 1-19 1 31 1-67 1 38 1-47 1 28 1-3 1-37 1-59 1 121 1-21 1-9 1-30 1 12 1 26 1-16 1 38 1-37 1-33 1 49 1-44 1 28 1-71 1 50 1 30 1-43 1 21 1 21 1-20 1 59 1-72 1 2 1 0 1-64 1 14 1 71 1-30 1 59 1-52 1-4 1 41 1-28 1 46 1-94 1 52 1 7 1-5 1 20 1-5 1-35 1-22 1 53 1-33 1 31 1 14 1-41 1-40 1 22 1 36 1-36 1 49 1-41 1 3 1-28 1 18 1 42 1-52 1 0 1-17 1 55 1-83 1 30 1 55 1 17 1-59 1 41 1-105 1 97 1-18 1-54 1-21 1 45 1 26 1 4 1-10 1 23 1-4 1-74 1 35 1-6 1 55 1-55 1 53 1-34 1 80 1-86 1 2 1-5 1 8 1 81 1-105 1-14 1 24 1 30 1-59 1 63 1-2 1-34 1-3 1-20 1 18 1-20 1 73 1 13 1-69 1 9 1-68 1 49 1 31 1-3 1-6 1 25 1-27 1-18 1 71 1-127 1 27 1 15 1 0 1-3 1 20 1-18 1 23 1 23 1-21 1 3 1-39 1-7 1 30 1 43 1-20 1 25 1-4 1 4 1-70 1 74 1-18 1 47 1-54 1-10 1-17 1 10 1-65 1 50 1 7 1 36 1-59 1 28 1 60 1-85 1 49 1-50 1 15 1 20 1 15 1-50 1-20 1 91 1-48 1 21 1 4 1-6 1-37 1 4 1-52 1 62 1-24 1 16 1 67 1-43 1-23 1-51 1 74 1 28 1-85 1 44 1-34 1 12 1-8 1-45 1 39 1-41 1 108 1-14 1-36 1 8 1-9 1 4 1 0 1-17 1 2 1-43 1 12 1 13 1 29 1-22 1 82 1-77 1-6 1 28 1 20 1 29 1-32 1-57 1 14 1 44 1-29 1 18 1-32 1 60 1-6 1-12 1-36 1-64 1 8 1 60 1 12 1-130 1 88 1 58 1-8 1-53 1 41 1-23 1-9 1 48 1 0 1-61 1-15 1-14 1-4 1 99 1 19 1-60 1 30 1-63 1 22 1 35 1-22 1-13 1-59 1 7 1 38 1-6 1 18 1-21 1 15 1 10 1 17 1-17 1-22 1 9 1 43 1-40 1-28 1-2 1 47 1 10 1 24 1-56 1 61 1-63 1 4 1-12 1 40 1 18 1-39 1-17 1-38 1 61 1-18 1 5 1-15 1-9 1 16 1 31 1 19 1-35 1 12 1-19 1 2 1-45 1 81 1-10 1 31 1-75 1 27 1-38 1 42 1-13 1 28 1-29 1 28 1-41 1 39 1-32 1-5 1 19 1 10 1-64 1-4 1 61 1-9 1-71 1 12 1 33 1 40 1-5 1 29 1 6 1 43 1-137 1 51 1 39 1-83 1-6 1 58 1 32 1 6 1-109 1 20 1 40 1-15 1 31 1-7 1 59 1-66 1 9 1-4 1 37 1-80 1 54 1-41 1-23 1 94 1-24 1 32 1-41 1 14 1-18 1 16 1-35 1 77 1-94 1 94 1-68 1 39 1-26 1 11 1 38 1-48 1-39 1 43 1 15 1-112 1 125 1 5 1-104 1 59 1 36 1-71 1 27 1 3 1 33 1 21 1-41 1 4 1 31 1-13 1-23 1 52 1-99 1 58 1-21 1-2 1 26 1-5 1 88 1-65 1-11 1 48 1-22 1-104 1 72 1 23 1-48 1 33 1-27 1 31 1-72 1-11 1 51 1 28 1 41 1-58 1-16 1 60 1-31 1 65 1-68 1-67 1 42 1-5 1-16 1 23 1 4 1 15 1-9 1 35 1 1 1-8 1 1 1-74 1 8 1 29 1 42 1-61 1 38 1 25 1 63 1-61 1-28 1 59 1-31 1-17 1 51 1-72 1 41 1-4 1 31 1-73 1-5 1 34 1 4 1 13 1-15 1 30 1 10 1-16 1-45 1 81 1-96 1 49 1 40 1-53 1 69 1 23 1-11 1-40 1 20 1-52 1 33 1 3 1-12 1 3 1-12 1-61 1 85 1-2 1 63 1-47 1-22 1 30 1-8 1-22 1-12 1-38 1 58 1 54 1-123 1 33 1 62 1-19 1 9 1-80 1 46 1 39 1 4 1-9 1-41 1 51 1-60 1 10 1-7 1 93 1-65 1 17 1-78 1 117 1-21 1-74 1 3 1 115 1-90 1 99 1-81 1-69 1 127 1-21 1 8 1-41 1 11 1 42 1-61 1-39 1 101 1-52 1 67 1-60 1 2 1 8 1-73 1 124 1-62 1 16 1 59 1-46 1 28 1-18 1 16 1-16 1 31 1-46 1 24 1-39 1 66 1-115 1 83 1 7 1 0 1-11 1 47 1 28 1-93 1-44 1 29 1 11 1 24 1 4 1 40 1-51 1 14 1 6 1-33 1 20 1 107 1-97 1-29 1-41 1 111 1-45 1-10 1 106 1-34 1-107 1 48 1 47 1-5 1-66 1 100 1 3 1-100 1-22 1 14 1 71 1 15 1-30 1-26 1 18 1 23 1-60 1-15 1 55 1 46 1-35 1 1 1-29 1 55 1-89 1 57 1-17 1 15 1-25 1 57 1-27 1-17 1 38 1-18 1-16 1-1 1 46 1-57 1 25 1-1 1 20 1-16 1 80 1-131 1 79 1-20 1 39 1-91 1 96 1-87 1 71 1-6 1-15 1-25 1-2 1 31 1-28 1-39 1 5 1 88 1 2 1-10 1-15 1 12 1 5 1-8 1-34 1 3 1-13 1 44 1-37 1 28 1 50 1-56 1 46 1 20 1-111 1 13 1 64 1-38 1 42 1 6 1-39 1 45 1 31 1-25 1-60 1 25 1-12 1 70 1-57 1-15 1 25 1 16 1-28 1 16 1-2 1 25 1 8 1-22 1-23 1 29 1-41 1 65 1-23 1-2 1-86 1 157 1-29 1-5 1-36 1 18 1 72 1-114 1 48 1-4 1-14 1 8 1-43 1 54 1-62 1 103 1-33 1-52 1-39 1 72 1 14 1-48 1 87 1-44 1-23 1-29 1 42 1-1 1 28 1 14 1-32 1 14 1 32 1-25 1-27 1 29 1-36 1 32 1-12 1-35 1 55 1-16 1 22 1-65 1 78 1 2 1-47 1 9 1 6 1-2 1 28 1-48 1-13 1 29 1 69 1-72 1-19 1 4 1 35 1 32 1-59 1 29 1 2 1 9 1-10 1 30 1-11 1-40 1 96 1-118 1 2 1 74 1-26 1-12 1 14 1 16 1-34 1-6 1-12 1 7 1 2 1 62 1-27 1 9 1-34 1 51 1-80 1 64 1 7 1-39 1-13 1 49 1-38 1-5 1 28 1-33 1 31 1 68 1-76 1 42 1-60 1 36 1-10 1 4 1 29 1 44 1-70 1 45 1-29 1 13 1-37 1-6 1 16 1-17 1 24 1-31 1 33 1 6 1 51 1-2 1-37 1-30 1 35 1 7 1-31 1-19 1-28 1 54 1 61 1-64 1 18 1 0 1 5 1 9 1-84 1 58 1 16 1-13 1 40 1-47 1 40 1 26 1-60 1 9 1-9 1 33 1-88 1 21 1 37 1 36 1-8 1-42 1 74 1-45 1-21 1 35 1 24 1-40 1-43 1 29 1 21 1 26 1-58 1 39 1-43 1 38 1-41 1 26 1-31 1 17 1-17 1-11 1 96 1 0 1-21 1-24 1 56 1-52 1 22 1 22 1-27 1 38 1-48 1 1 1 9 1-37 1 3 1 56 1-74 1 85 1-24 1 28 1-12 1-4 1 34 1-53 1 0 1 37 1-52 1 54 1-12 1-35 1-22 1-21 1 116 1-99 1 9 1 62 1-11 1-7 1-3 1-14 1-13 1 6 1 40 1 15 1 4 1-35 1-64 1 82 1-19 1-73 1 120 1-33 1-7 1 9 1-1 1 4 1-2 1-2 1 17 1-5 1 61 1-65 1-17 1-1 1 29 1-6 1 5 1-12 1 2 1 28 1 19 1-28 1-12 1-29 1 2 1 35 1-7 1 5 1-27 1 29 1-51 1 23 1 12 1 41 1-33 1-8 1 35 1-9 1 29 1-15 1-2 1-11 1 25 1-38 1-21 1 69 1-38 1 16 1 17 1 12 1-108 1 52 1 64 1-80 1 61 1-22 1-14 1 22 1-43 1 59 1 22 1-71 1 22 1 52 1-22 1-19 1 50 1-85 1 39 1 11 1-11 1 32 1-68 1 48 1-22 1 55 1-3 1-49 1-9 1 30 1-22 1 9 1 28 1-24 1 63 1-47 1-16 1-15 1 17 1 45 1-15 1 25 1-3 1-20 1-33 1 15 1 7 1-46 1 54 1-36 1 26 1-11 1 30 1 56 1-103 1 33 1 56 1-80 1 20 1 4 1 12 1-52 1 53 1 8 1 53 1-70 1-13 1 20 1-73 1 79 1 34 1-42 1 0 1-5 1 11 1-36 1 75 1-53 1 0 1 57 1-43 1-11 1 56 1-39 1 21 1-39 1-31 1 52 1 34 1-50 1 22 1 11 1-12 1-4 1 19 1-15 1-19 1 43 1-6 1-11 1 10 1-88 1 77 1-5 1-53 1 107 1-45 1-20 1 2 1 18 1-7 1-41 1 32 1 23 1 5 1 7 1-50 1 12 1 27 1-25 1 22 1-27 1 37 1-13 1 14 1-13 1-21 1-11 1 34 1-17 1-22 1 25 1 35 1 12 1-11 1 16 1-45 1 7 1-21 1 5 1 63 1-30 1 6 1 51 1-17 1-72 1 48 1-44 1 45 1-73 1 25 1 1 1 75 1-97 1 75 1 0 1-25 1 19 1 46 1-60 1-13 1 42 1-14 1-49 1 34 1 3 1-36 1 5 1 8 1-14 1 45 1-5 1-65 1 47 1 15 1-39 1 28 1 15 1-51 1 36 1-52 1 80 1-38 1-18 1-10 1 5 1 76 1-55 1 8 1 4 1-28 1 58 1-83 1 87 1-42 1 21 1 6 1 14 1-52 1 47 1-17 1-2 1-3 1 36 1-16 1 21 1-9 1-74 1 48 1 29 1-49 1-19 1-16 1 110 1-74 1 28 1-32 1 39 1 32 1-79 1 35 1-17 1-28 1 25 1 24 1 31 1 1 1-32 1-42 1 59 1-16 1 0 1-29 1 26 1 54 1-12 1-5 1-15 1-27 1 11 1 4 1 6 1-18 1-13 1 51 1-38 1 32 1-26 1 22 1-4 1 6 1 0 1-42 1-10 1 34 1 43 1-62 1-2 1 81 1-96 1 25 1 5 1-7 1 1 1 44 1-21 1-1 1-46 1 62 1-15 1 0 1 17 1-12 1-8 1 11 1-27 1-5 1-11 1 59 1-40 1 21 1 23 1 18 1-53 1 13 1-1 1-35 1 21 1 82 1-71 1 46 1-24 1 25 1-11 1-26 1-36 1 66 1-17 1-6 1 10 1-40 1 23 1-3 1-36 1 7 1 27 1-51 1 73 1 1 1-20 1 9 1-51 1 49 1 14 1-5 1 10 1-24 1 51 1-38 1 10 1 7 1-45 1-8 1 47 1-50 1 17 1 39 1-51 1 3 1-6 1 6 1 71 1-32 1 10 1-70 1-11 1 31 1 54 1 3 1-76 1 6 1 59 1-10 1 5 1 6 1-40 1 28 1-10 1 37 1-37 1-38 1 77 1 13 1-20 1-31 1-14 1 47 1-36 1 25 1 7 1-22 1-45 1 61 1-36 1-13 1 37 1 5 1-6 1 18 1-61 1 61 1 25 1-41 1-10 1 9 1 34 1-34 1-14 1-21 1 74 1 1 1-34 1 50 1-59 1 27 1-48 1 8 1 24 1 12 1 3 1-36 1 9 1 11 1-4 1 1 1 26 1 8 1-71 1 75 1-27 1 4 1 1 1 14 1-5 1-53 1 57 1-47 1 36 1-4 1-41 1 37 1-6 1-10 1 64 1-44 1-12 1 50 1-42 1-2 1-44 1 62 1 9 1 22 1-69 1 49 1 8 1-15 1-17 1-39 1 43 1-17 1-28 1 56 1-17 1-3 1 52 1-59 1-36 1-3 1 65 1-18 1-12 1-32 1 30 1-6 1 24 1-18 1 0 1 19 1-17 1 26 1-87 1 51 1 58 1-24 1-30 1 21 1-9 1 5 1 42 1-43 1 15 1-24 1 2 1-18 1 21 1 6 1 2 1 9 1 1 1 13 1-20 1 36 1-16 1 18 1-33 1 30 1-26 1-41 1 39 1-4 1-29 1 11 1 9 1 67 1-45 1 35 1-20 1 3 1-6 1-52 1 63 1-52 1 34 1-12 1 40 1-10 1 15 1-30 1-11 1 18 1 38 1-43 1-11 1-29 1 12 1 15 1 18 1-1 1-16 1 6 1 32 1 7 1-14 1 8 1-6 1 13 1-70 1 18 1 17 1 4 1 22 1-72 1 46 1 3 1-21 1 12 1 26 1-11 1-13 1 8 1-8 1 25 1-23 1 24 1-34 1 12 1-24 1 21 1 24 1-41 1 15 1 11 1-10 1 27 1-46 1 47 1 11 1 8 1-38 1-17 1-17 1 51 1 4 1-12 1 2 1 8 1-23 1-25 1 2 1 14 1-2 1-15 1 26 1-13 1 38 1-15 1 19 1-47 1 6 1-11 1 42 1 64 1-64 1-14 1 14 1-5 1 23 1-21 1-19 1-22 1 50 1 14 1-18 1-22 1 10 1 3 1 20 1-14 1 28 1-30 1-9 1 55 1-62 1 5 1 63 1-39 1 33 1-93 1 82 1-27 1 3 1 9 1-71 1 41 1 30 1 61 1-86 1 68 1-37 1 9 1-43 1 34 1-31 1-7 1 54 1-43 1 5 1 26 1-32 1-9 1 32 1 2 1 27 1-57 1 40 1 1 1-25 1 6 1 5 1-23 1-6 1 44 1-37 1 2 1 38 1-28 1 3 1-21 1 4 1-3 1 0 1 57 1-47 1-29 1 26 1 39 1-39 1 24 1-19 1-17 1 26 1-10 1 26 1 11 1-16 1 58 1-79 1 52 1-20 1 21 1-18 1-58 1 41 1 29 1-21 1-29 1 17 1 19 1 19 1-38 1 15 1-22 1-5 1 14 1 40 1-13 1-21 1 6 1 12 1-14 1-6 1 3 1 20 1-21 1 25 1-56 1 24 1 7 1 22 1-32 1 8 1 19 1-9 1-12 1 8 1-12 1 36 1-7 1 9 1 29 1-20 1-15 1-12 1 49 1-41 1-9 1 31 1-17 1-13 1 14 1 32 1-37 1 6 1-26 1 9 1 29 1-20 1 5 1 20 1-29 1 39 1-44 1-2 1-1 1-14 1 43 1-11 1 28 1-43 1 31 1 12 1-32 1 2 1-47 1 90 1-41 1 16 1-24 1 18 1-30 1 39 1-13 1-9 1 16 1-44 1 40 1-12 1 38 1-13 1-19 1-2 1 66 1-80 1 59 1-19 1-3 1-54 1 56 1-27 1-8 1 31 1-26 1 26 1-30 1 31 1-3 1-25 1-2 1 6 1 3 1-1 1 49 1-28 1-15 1 0 1-9 1 22 1-7 1-12 1 0 1 6 1-12 1 23 1-20 1 29 1-17 1 17 1-21 1-26 1 12 1 20 1 14 1 0 1 3 1 3 1-6 1 2 1-13 1 16 1-13 1 1 1 5 1 42 1-74 1 20 1 4 1 14 1-8 1 32 1-62 1 66 1-60 1 11 1 25 1-9 1-2 1 2 1 6 1 12 1-11 1-32 1 10 1 41 1 11 1-19 1 3 1-15 1 35 1-51 1 4 1-8 1 45 1-40 1 20 1-36 1-2 1 48 1-5 1 3 1-13 1-9 1-2 1-14 1 15 1 33 1-29 1-22 1 21 1-14 1-3 1 20 1-13 1-9 1 53 1 4 1-30 1 26 1-37 1 8 1 26 1-20 1 10 1-68 1 58 1-13 1 6 1-27 1 14 1 27 1-1 1 4 1 2 1 5 1-14 1-12 1-6 1 3 1-11 1 0 1 17 1-42 1 21 1 8 1 25 1 11 1-14 1-7 1-9 1 31 1-8 1-26 1 12 1 9 1 9 1-23 1 35 1-6 1-31 1 5 1-14 1 1 1 23 1 21 1 0 1-23 1-11 1-5 1 21 1-17 1 22 1-16 1 8 1-15 1 48 1-17 1-19 1-19 1 28 1 3 1-35 1 23 1 37 1-35 1-11 1 18 1 24 1-43 1 0 1 4 1 6 1 21 1-16 1-48 1 50 1-1 1 4 1-6 1-8 1 12 1-22 1-19 1 25 1-14 1 52 1-34 1 31 1-55 1 3 1 30 1-40 1 20 1-24 1 44 1-41 1 30 1-31 1 42 1 11 1-18 1-21 1 26 1 10 1-4 1 9 1 12 1-31 1-10 1-7 1 12 1-5 1-6 1 16 1 30 1-51 1 5 1 2 1-12 1 38 1-23 1 13 1-41 1 40 1-13 1-25 1 42 1 1 1-13 1 4 1-27 1 36 1-24 1 12 1 2 1-3 1-23 1 18 1-4 1 18 1-36 1 30 1-9 1-9 1 32 1-21 1-26 1 14 1-21 1-9 1 10 1-2 1 37 1-18 1-59 1 37 1-12 1 7 1 2 1-5 1 3 1-25 1 34 1-30 1 19 1-28 1 6 1-30 1 29 1-19 1-17 1 6 1-5 1-39 1 6 1-12 1 22 1-18 1-22 1-9 1 1 1-43 1 23 1 16 1-53 1-7 1-9 1 11 1-27 1 25 1-39 1-15 1-19 1 12 1-6 1-23 1 3 1-12 1-21 1-13 1-17 1-1 1-15 1 12 1-16 1-17 1-9 1 3 1 2 1-12 1 5 1-17 1 6 1 5 1-3 1 4 1 9 1-6 1 16 1-10 1 17 1-2 1 8 1 20 1 17 1-6 1 12 1 25 1-14 1 31 1-14 1 2 1 39 1 3 1 9 1-14 1 48 1-1 1 1 1 26 1-5 1 16 1 9 1 36 1-7 1 30 1-22 1 3 1 53 1-40 1 48 1-29 1 36 1-16 1 43 1 14 1-9 1-6 1-6 1 24 1 27 1-38 1-7 1 54 1-30 1 20 1-6 1 5 1-6 1 5 1-23 1 21 1-2 1 37 1-23 1 9 1-29 1 33 1 27 1-22 1 14 1-20 1-4 1 30 1-24 1-10 1 18 1-4 1 27 1-5 1-38 1 36 1-32 1 28 1 8 1-19 1 0 1 24 1-18 1-14 1 50 1-13 1-7 1-2 1 13 1-16 1 13 1-8 1-17 1 31 1-15 1-17 1 7 1-35 1 14 1 4 1 39 1-1 1 9 1-12 1 23 1-38 1-6 1-3 1 21 1-15 1-5 1 7 1 13 1-26 1 24 1 0 1 30 1-27 1-25 1 27 1 0 1-26 1-32 1 68 1-16 1-10 1 10 1 27 1 8 1-39 1 36 1-28 1 1 1-2 1 1 1-1 1-10 1 13 1-18 1 28 1-21 1 20 1-10 1-30 1 53 1-15 1-7 1-4 1 38 1-36 1 21 1-13 1-27 1 37 1-41 1 36 1-1 1-3 1-17 1 39 1 6 1-48 1 10 1 36 1-37 1 26 1-35 1 6 1 16 1 4 1-34 1 7 1 28 1 14 1-13 1-3 1 2 1-30 1 29 1 9 1-5 1-31 1 3 1 38 1-45 1 6 1 48 1-45 1 3 1 25 1 3 1-17 1-23 1 17 1 12 1-19 1-1 1 40 1-13 1 5 1 2 1-34 1 27 1 13 1-10 1-32 1-7 1 13 1 25 1-13 1 8 1-27 1 37 1-28 1 34 1-21 1-53 1 50 1-12 1 1 1 12 1 22 1-4 1 10 1-25 1-33 1 24 1-6 1 4 1 60 1-34 1-31 1 39 1-27 1-18 1 45 1-30 1 11 1 39 1-59 1 37 1-24 1-14 1 15 1 8 1 0 1-31 1 43 1-30 1 21 1-2 1-14 1 21 1-23 1-4 1-9 1-7 1 20 1-26 1 33 1-4 1 39 1-49 1 41 1-14 1-1 1-17 1-3 1 9 1 5 1 11 1-19 1 37 1 2 1-74 1 47 1-5 1-15 1-30 1 17 1 27 1 16 1-4 1 1 1-13 1 22 1-9 1 11 1-22 1-9 1-16 1 55 1-38 1-8 1-19 1 48 1-34 1 25 1 4 1 21 1-38 1-22 1 50 1-11 1-16 1 11 1 34 1-32 1-13 1 11 1 11 1-3 1-1 1 0 1-26 1 31 1 8 1-7 1-13 1 0 1 5 1-2 1-30 1 27 1 24 1-28 1-3 1 20 1-9 1-14 1 15 1 28 1 2 1-30 1-5 1 24 1-13 1 2 1-11 1-22 1-3 1 25 1-18 1 33 1 3 1 9 1-24 1 33 1-12 1-16 1 7 1-23 1-46 1 74 1-9 1 21 1-21 1-12 1-6 1-2 1 14 1-35 1 12 1 35 1-51 1 8 1 17 1 4 1 8 1 14 1-10 1 5 1-21 1 11 1-13 1 11 1 12 1-1 1-42 1 13 1 55 1-71 1 37 1-22 1 17 1-6 1 11 1-21 1 38 1 21 1-82 1 28 1-12 1 29 1 23 1 0 1-2 1-19 1-14 1 30 1-31 1-3 1 15 1-23 1 19 1-13 1 18 1 15 1-27 1 19 1 8 1-30 1 12 1-5 1 38 1-41 1 11 1-26 1 8 1 27 1-16 1 18 1-12 1 45 1-50 1 21 1-29 1 5 1-20 1 74 1-83 1 39 1-10 1 22 1-24 1 43 1-13 1-11 1 0 1 9 1-10 1 20 1-12 1-16 1 8 1-4 1 18 1-26 1 7 1-24 1 34 1-8 1-16 1 42 1-30 1-20 1 40 1-23 1-51 1 60 1-6 1 1 1-5 1-10 1 16 1-32 1 27 1 18 1 2 1-26 1 43 1-29 1-13 1 11 1-15 1 27 1-32 1 4 1-7 1 6 1 9 1 37 1-28 1 16 1-19 1 15 1-35 1-1 1 52 1-26 1-34 1 38 1-14 1-1 1 19 1-36 1 43 1-17 1-13 1-15 1 54 1-37 1-18 1 22 1 11 1 2 1 15 1-16 1-11 1 40 1-4 1-54 1 36 1-27 1 36 1-42 1 21 1 23 1-22 1 13 1-31 1-10 1 2 1 31 1-22 1 37 1-32 1 29 1-17 1-25 1 20 1 7 1 0 1-10 1 21 1-3 1 0 1-30 1-23 1 46 1-24 1 5 1 5 1 10 1-36 1 28 1 25 1-49 1 21 1 30 1-11 1-4 1-8 1-27 1 26 1-19 1 19 1-15 1-8 1 20 1 19 1-27 1 11 1 9 1-4 1-30 1 12 1 15 1-6 1 29 1-20 1-25 1 26 1 7 1-8 1-3 1-33 1 23 1 10 1-17 1 0 1 13 1-19 1-5 1 12 1 0 1 15 1-18 1-17 1 26 1-23 1 24 1-22 1 17 1-6 1-10 1-18 1 12 1 27 1-22 1 13 1-19 1-4 1-17 1 18 1-22 1-2 1 25 1-34 1 45 1-37 1-12 1 23 1-36 1 11 1-5 1 7 1 6 1-23 1-25 1-5 1 6 1 11 1-13 1-3 1-12 1 15 1-33 1 29 1-12 1-10 1-11 1-7 1 0 1-9 1-1 1-6 1 13 1-7 1 2 1-12 1-4 1 3 1 12 1-12 1 19 1-13 1 8 1 10 1-11 1-6 1 38 1-10 1-1 1 29 1 12 1-20 1 8 1 33 1-34 1 27 1 2 1-14 1-1 1 7 1 17 1 7 1 35 1-45 1 20 1-9 1 27 1-3 1-22 1 16 1 11 1 13 1 0 1 5 1-7 1 12 1-6 1 16 1-4 1-21 1 15 1-9 1 12 1 12 1-6 1-2 1-6 1 35 1-23 1-15 1 9 1 24 1 19 1-12 1-25 1 20 1-41 1 42 1-17 1 9 1-24 1 27 1-27 1-6 1 53 1-45 1 36 1-24 1 7 1 3 1 19 1-11 1-22 1 6 1 31 1 1 1-30 1 23 1-16 1 18 1-33 1 30 1-23 1-11 1 31 1 0 1-35 1-13 1 37 1 10 1-17 1 11 1-9 1-2 1 16 1 15 1-13 1-13 1-6 1 15 1-41 1 39 1-3 1 2 1-5 1 2 1-21 1 35 1-16 1 6 1-9 1-16 1 36 1-15 1 0 1 11 1 22 1-29 1 10 1 22 1-36 1 26 1-20 1 17 1-15 1 14 1-29 1 5 1-2 1 5 1 24 1-11 1 4 1-15 1 5 1 6 1-1 1-15 1 3 1-12 1 31 1 5 1 15 1-84 1 66 1-4 1 35 1-53 1-5 1 17 1-28 1 0 1 34 1-38 1 9 1 39 1-10 1-31 1 45 1-22 1-7 1 8 1-4 1 21 1-9 1-25 1 6 1 22 1-23 1-6 1-24 1 54 1-14 1-3 1-12 1 6 1 9 1-19 1 21 1 28 1-38 1 9 1 27 1-25 1 25 1-10 1-1 1-18 1-5 1 30 1-20 1-4 1-35 1 34 1 45 1-31 1 19 1-26 1-27 1 26 1 28 1-27 1-8 1 2 1-17 1 14 1 9 1 14 1-3 1-32 1-14 1 27 1-7 1 27 1-31 1 27 1-17 1 26 1-18 1-34 1-7 1 45 1-22 1 33 1-17 1 31 1-30 1-13 1-21 1 42 1-12 1-1 1 51 1-32 1-29 1 27 1-38 1 16 1 25 1-36 1 22 1 1 1 2 1-20 1-7 1 24 1 11 1-28 1 31 1 5 1-13 1 12 1-1 1 4 1-16 1 1 1 1 1 14 1-28 1 33 1-40 1 48 1-22 1 35 1-41 1 7 1-37 1 21 1 8 1 4 1 4 1-8 1-3 1 16 1-41 1 18 1 19 1-12 1 21 1-31 1 5 1 17 1 19 1-52 1-6 1 8 1-1 1 26 1 11 1-16 1 5 1 6 1-4 1-1 1-1 1 15 1-38 1 11 1 13 1 41 1-60 1 28 1-26 1 10 1-10 1 44 1-25 1-14 1 24 1-28 1 17 1-27 1 17 1 11 1 0 1-20 1 2 1-16 1-7 1 32 1 23 1-11 1 2 1-10 1 0 1-1 1 29 1-33 1 25 1-43 1 6 1 16 1-23 1 50 1-21 1 3 1-14 1 15 1-18 1 33 1-1 1-32 1-3 1-11 1 1 1 45 1-7 1 13 1-17 1 6 1-3 1-19 1 11 1 13 1-14 1-18 1 0 1 65 1-63 1 3 1 13 1-3 1 19 1-24 1 18 1-10 1 0 1-4 1-11 1 6 1-11 1 12 1 9 1 2 1-22 1 6 1 7 1 27 1-18 1 3 1 14 1-12 1-17 1 36 1-29 1 22 1-13 1 4 1 11 1-29 1-16 1 28 1-6 1-3 1 5 1-26 1 25 1-4 1 9 1-6 1-5 1 17 1 7 1-19 1-13 1 3 1 31 1-47 1 28 1 3 1 3 1-40 1 36 1-40 1 27 1-8 1-17 1 61 1-34 1-21 1 8 1 16 1 13 1-11 1-19 1 45 1-20 1 22 1-4 1-17 1 17 1-24 1 19 1-43 1-3 1 11 1 27 1-6 1-14 1 2 1 0 1 12 1 15 1-1 1-19 1 3 1 10 1-27 1 17 1 10 1-2 1-15 1-6 1-1 1 38 1-23 1-20 1-13 1 34 1 24 1-29 1-10 1 28 1-19 1 3 1 7 1-10 1 17 1 2 1-15 1-7 1 14 1-46 1 34 1-2 1 21 1-29 1 35 1-20 1 9 1 14 1-18 1-13 1 15 1 0 1 27 1-32 1 16 1 6 1-3 1-22 1-15 1 36 1 11 1-17 1 9 1-17 1 12 1 8 1-21 1 19 1-20 1-14 1 21 1-9 1 10 1 2 1-12 1 10 1-14 1 20 1-27 1-8 1 39 1-49 1 28 1 1 1 17 1-18 1 0 1-26 1 46 1-33 1 16 1-12 1 31 1-33 1-7 1 43 1-32 1 14 1 4 1-32 1 41 1-33 1 18 1 6 1-8 1-13 1 29 1-29 1-7 1 40 1 1 1-50 1 27 1 3 1-45 1 36 1 28 1-35 1 38 1 11 1-35 1-9 1 13 1-25 1 45 1-13 1-31 1 10 1 8 1 23 1-4 1-24 1 13 1-10 1 15 1-12 1 39 1-27 1-12 1-13 1-5 1 34 1 2 1 12 1-42 1 29 1-32 1 31 1-2 1-5 1-9 1-3 1 2 1-25 1 42 1-29 1 21 1-4 1 13 1-10 1-1 1 4 1 12 1-23 1-7 1 14 1-2 1 14 1-5 1-4 1 16 1-14 1 6 1-17 1 31 1-13 1-26 1 1 1 43 1-25 1 24 1 10 1-35 1 3 1 8 1-28 1-15 1 60 1-43 1 11 1 26 1-23 1 14 1-9 1-26 1 8 1 14 1-17 1 31 1-10 1-31 1 33 1-16 1 4 1 16 1-41 1 14 1 20 1-28 1 44 1-73 1 70 1-6 1-22 1 11 1-13 1 42 1-30 1 8 1-3 1-27 1-9 1 34 1 20 1-12 1-14 1 10 1-12 1 26 1-11 1-5 1 29 1-43 1-5 1 11 1-5 1-1 1 20 1-2 1-36 1 17 1 2 1-21 1 39 1-8 1 6 1-18 1 1 1 13 1-3 1-8 1 15 1-19 1 26 1-8 1-16 1-11 1 25 1 13 1-17 1 22 1-10 1 8 1-44 1 13 1 12 1 2 1-6 1-4 1-28 1 53 1-6 1-20 1 8 1-10 1 26 1-20 1 22 1-26 1-7 1-11 1 33 1-17 1 19 1 8 1-12 1 19 1-30 1-7 1 18 1-7 1 28 1-54 1 11 1 38 1-33 1 9 1-5 1 7 1 35 1-16 1-18 1 31 1-46 1 18 1 28 1-51 1 5 1 0 1 10 1 18 1 12 1-6 1 3 1-16 1-14 1-6 1 15 1-15 1-5 1 28 1-22 1 9 1 38 1-26 1 1 1-12 1-11 1 24 1-16 1 4 1-7 1 16 1-3 1-39 1 20 1 12 1 33 1-45 1 21 1 12 1 0 1-26 1 23 1-10 1-3 1-10 1-20 1 20 1-17 1 39 1-7 1 21 1-52 1-1 1 22 1 6 1 11 1-33 1-10 1 12 1 70 1-70 1 6 1 24 1-4 1-17 1-42 1 59 1-19 1 30 1-20 1 8 1-39 1 32 1-3 1-6 1 14 1 3 1-16 1 17 1 14 1-15 1-11 1 7 1-8 1 8 1 8 1-18 1 16 1 16 1-30 1-8 1 5 1 17 1-4 1-16 1-32 1 50 1-1 1-1 1-17 1-25 1 30 1-7 1 22 1 15 1-10 1-19 1 18 1-21 1 20 1-10 1-10 1 15 1-4 1 20 1-24 1-1 1 25 1-16 1-2 1 28 1-71 1 16 1 14 1 31 1 4 1-19 1-15 1-12 1 31 1-2 1-15 1 26 1 10 1-41 1 19 1-25 1 24 1-24 1 21 1 30 1-40 1 32 1-1 1-3 1-25 1-17 1 23 1 10 1-19 1-6 1-6 1 68 1-81 1 46 1-21 1 27 1 1 1-37 1 15 1-4 1 15 1-12 1 15 1-5 1-17 1 27 1-10 1 1 1-15 1 18 1-18 1 27 1-14 1-43 1 47 1-2 1-8 1 13 1-37 1 29 1-18 1 16 1-15 1-9 1 15 1-22 1 28 1 11 1 9 1-14 1-14 1 4 1 1 1 22 1-35 1 7 1-25 1 53 1-39 1-1 1-11 1 35 1-9 1-1 1-17 1 14 1 27 1-43 1 26 1 20 1-40 1 28 1 1 1-24 1 11 1 12 1 4 1-24 1-14 1 26 1 0 1 9 1 11 1-4 1-4 1-19 1 25 1-1 1-24 1-3 1-14 1 15 1 8 1-4 1 13 1-9 1-14 1 33 1-47 1 44 1-16 1 4 1-15 1 13 1 23 1-36 1 16 1-3 1-51 1 39 1 14 1-15 1 7 1-16 1 45 1-21 1-8 1-9 1 27 1-13 1 11 1-3 1-31 1 29 1-46 1-5 1 38 1 32 1-19 1 0 1-22 1 11 1 10 1-41 1 21 1 4 1 22 1 5 1-28 1 33 1-22 1-3 1 22 1-33 1 2 1-10 1 7 1-23 1 75 1-28 1 19 1-55 1-4 1 52 1-28 1-1 1-2 1-14 1 10 1 46 1-52 1 41 1-17 1 7 1 5 1-34 1 30 1-7 1 37 1-37 1 10 1-13 1 2 1-1 1-5 1 17 1-12 1 4 1 6 1-25 1 6 1 10 1 2 1 21 1-62 1 21 1-3 1 16 1-5 1-23 1 12 1 0 1-13 1 11 1 7 1 26 1-15 1-10 1-4 1 9 1 23 1 1 1-34 1 8 1 8 1 2 1-21 1 26 1 4 1 1 1 16 1-14 1-19 1-20 1 22 1-10 1 28 1-19 1-18 1 12 1 32 1-35 1 14 1 14 1-12 1-27 1-1 1 9 1 21 1-3 1-16 1 12 1 4 1-31 1 7 1 21 1 16 1-20 1 6 1 20 1-36 1 12 1-4 1 34 1-38 1-5 1 29 1 32 1-32 1 6 1 0 1-12 1-12 1 32 1-20 1-26 1 10 1 8 1-14 1 13 1-6 1 0 1-17 1 47 1-42 1-3 1 32 1-14 1 1 1 31 1-41 1-9 1 7 1 3 1 15 1 4 1 10 1-25 1 15 1-24 1 8 1 10 1-21 1 46 1-34 1-8 1 0 1 18 1 24 1-49 1 24 1-17 1 27 1-21 1-27 1 16 1 14 1 0 1 29 1-17 1-24 1 30 1-15 1 35 1-38 1-5 1 15 1 24 1-35 1 31 1-24 1 3 1 17 1-3 1-8 1 20 1-37 1-32 1 51 1-9 1-6 1 22 1-55 1 31 1 26 1-16 1 15 1-16 1-24 1 0 1 22 1-24 1 47 1-40 1-15 1 25 1 13 1-10 1-2 1-5 1-21 1 31 1 11 1-29 1 24 1-36 1 31 1-20 1 30 1-37 1 4 1 14 1 5 1-5 1 17 1-12 1-5 1 32 1-11 1-12 1 2 1-35 1 9 1 55 1-59 1 40 1-9 1-13 1 48 1-46 1 28 1-34 1 15 1 1 1-2 1 15 1-14 1-26 1 25 1-32 1 51 1-7 1-1 1-18 1 11 1-44 1 26 1 12 1-39 1 40 1-10 1 12 1-15 1 32 1-23 1 20 1-5 1-34 1-15 1 29 1 11 1 0 1-13 1 43 1-37 1 26 1-52 1 36 1-11 1 20 1 24 1-52 1 2 1 7 1-3 1 5 1 1 1-10 1 9 1-4 1 25 1-31 1 23 1-4 1-6 1 15 1-49 1 37 1-18 1-26 1 31 1 12 1-38 1 37 1-21 1 3 1 38 1-5 1-9 1-4 1-22 1 45 1-12 1-6 1 12 1-20 1-3 1 12 1 1 1 14 1-34 1 36 1-28 1 16 1-12 1-35 1 27 1 0 1-4 1 48 1-48 1 16 1 2 1-19 1-16 1 8 1 41 1-38 1 18 1-1 1-23 1 32 1-5 1-30 1 6 1 8 1 25 1-30 1-21 1 62 1-47 1 8 1 0 1-23 1 54 1-5 1 1 1-13 1 49 1-76 1 24 1-6 1-34 1 25 1 10 1 1 1-3 1 5 1 3 1-7 1 25 1-21 1 23 1 2 1-21 1-17 1 21 1 15 1-59 1 32 1 45 1-44 1-8 1-1 1 3 1 2 1-14 1 24 1-2 1-23 1 43 1-2 1-27 1 4 1 11 1-6 1 9 1 9 1 8 1-9 1-20 1-2 1-20 1 27 1 25 1-17 1-20 1 16 1-13 1 8 1-11 1 37 1-63 1 19 1 27 1-46 1 29 1-14 1 26 1-5 1-2 1 2 1-4 1 36 1-38 1-12 1 19 1-27 1 8 1 34 1-13 1-5 1 20 1-34 1-15 1 48 1-22 1 45 1-67 1 28 1-10 1 13 1-6 1-4 1 31 1-7 1-12 1 5 1-5 1-35 1 15 1 20 1-3 1 26 1-41 1 10 1 3 1 3 1 17 1-35 1 31 1-10 1-31 1 2 1 20 1 32 1-24 1 4 1-4 1-26 1 9 1-16 1 41 1-21 1 28 1-23 1-22 1 17 1 24 1-22 1 6 1-27 1 20 1 18 1-14 1 5 1 2 1-18 1 14 1-2 1-11 1 41 1-2 1-5 1-23 1-24 1 38 1-24 1 24 1-19 1-5 1-20 1 36 1 5 1 1 1 5 1-43 1 30 1 12 1 3 1-44 1 31 1 13 1-6 1-27 1 31 1-11 1 20 1-36 1 14 1-2 1 11 1-35 1 22 1-20 1 18 1-6 1 8 1 14 1-7 1 2 1-1 1-9 1-8 1 16 1-35 1 33 1-13 1-3 1 13 1 0 1-19 1 18 1 9 1-21 1 23 1-35 1 10 1 25 1-16 1-4 1 17 1 4 1-13 1 7 1-5 1-10 1 13 1-9 1-29 1 25 1 17 1-8 1-1 1-10 1-14 1 8 1-6 1-3 1 33 1-15 1-13 1 28 1 5 1-37 1 35 1-31 1 62 1-36 1-38 1 51 1-35 1 24 1 20 1-12 1-42 1 28 1-12 1 14 1-9 1 3 1 28 1-36 1 30 1-35 1 12 1-21 1 43 1-17 1-24 1 24 1-8 1-1 1-1 1 19 1-21 1 27 1-6 1 5 1 3 1-11 1-19 1 26 1-37 1 12 1 29 1-47 1 14 1-7 1 28 1-23 1 20 1-3 1 31 1 2 1-47 1 3 1 10 1-5 1 0 1 3 1 17 1 8 1-45 1 32 1-7 1-18 1 15 1-8 1 10 1 0 1-29 1 19 1 12 1-13 1-40 1 71 1-24 1 13 1-21 1-4 1 31 1-15 1-9 1 13 1-11 1 10 1 9 1-13 1-7 1 18 1 8 1-15 1-4 1 0 1-11 1 22 1-18 1 1 1 12 1 17 1-5 1-35 1 40 1-10 1-11 1 13 1-11 1 27 1-43 1 36 1-31 1 2 1 19 1-46 1 46 1 7 1-48 1 16 1 28 1-33 1-6 1 51 1-36 1 33 1-10 1-10 1-19 1 31 1-10 1-17 1-3 1 6 1-13 1 11 1 15 1-22 1 9 1 1 1 2 1-8 1 17 1 13 1-40 1 12 1 6 1 21 1-21 1-6 1 23 1-17 1-15 1 22 1-3 1-12 1-17 1 19 1 15 1-1 1-30 1 6 1 33 1-44 1 43 1-3 1 22 1-59 1 40 1-23 1 10 1-18 1 32 1-6 1-28 1-4 1 28 1-13 1 11 1 0 1 3 1-5 1-9 1 24 1-4 1-13 1 7 1-6 1-2 1-6 1 30 1-31 1 31 1-11 1-2 1 2 1-4 1-28 1-3 1 11 1 3 1 9 1-2 1 8 1-33 1 29 1-14 1 0 1 0 1 11 1-15 1 26 1 1 1-24 1 0 1 11 1 20 1-9 1-22 1 10 1-18 1 12 1-10 1 26 1-13 1 3 1-25 1 18 1 1 1 24 1-45 1 12 1 0 1 22 1-16 1 29 1 6 1-57 1 52 1-9 1 2 1-5 1-12 1-4 1-1 1-5 1 19 1-6 1 4 1-1 1-29 1 26 1-11 1-3 1 14 1 14 1-17 1 8 1 21 1-14 1-2 1-20 1 25 1-19 1 30 1 7 1-43 1 16 1-1 1 21 1-45 1 40 1-1 1-16 1 7 1-10 1 6 1-7 1-20 1 13 1 1 1 17 1-16 1 14 1 10 1-23 1 14 1-30 1 24 1 14 1-1 1 41 1-65 1 10 1 0 1-12 1 10 1-20 1 16 1 52 1-60 1 27 1 7 1 1 1-12 1-6 1 9 1 2 1-40 1 48 1-22 1 13 1 1 1-10 1-25 1-9 1 42 1-25 1-13 1 15 1 8 1 25 1-43 1 25 1-5 1-9 1-10 1 40 1-27 1 8 1-8 1 33 1-24 1-12 1 21 1-12 1-18 1-8 1 14 1 1 1-17 1-9 1 36 1-1 1 8 1-29 1 19 1 1 1-7 1-8 1 14 1-9 1-1 1 4 1-10 1 0 1 13 1 3 1 11 1-15 1-10 1-5 1 33 1-23 1-9 1 41 1-7 1-25 1 7 1-12 1 12 1 24 1-24 1 18 1 5 1-50 1 17 1 34 1-31 1 0 1-3 1 26 1-15 1 41 1-35 1-38 1 13 1 23 1 28 1-15 1-26 1 1 1-16 1 42 1-43 1 39 1 2 1-8 1 12 1 17 1-48 1 41 1-62 1 28 1 3 1 2 1 19 1-22 1-11 1-1 1 10 1 14 1-26 1 6 1 1 1 18 1-3 1-22 1-2 1 8 1 16 1 16 1-19 1-13 1 45 1-21 1-51 1 49 1 8 1-2 1-25 1-17 1 26 1 10 1-2 1-3 1-17 1 13 1-3 1-7 1 37 1-34 1 0 1 34 1-36 1 0 1 4 1-18 1 30 1-16 1 9 1 14 1-27 1 2 1-18 1 37 1-20 1 20 1-14 1-7 1-5 1 32 1-9 1 6 1-17 1-21 1 20 1 11 1 1 1 3 1 3 1-2 1 11 1-53 1 37 1-1 1 3 1-11 1-13 1 14 1 8 1-11 1 15 1-3 1-46 1 66 1-52 1 52 1-25 1-21 1 13 1-7 1 10 1-30 1 15 1-31 1 34 1-8 1-10 1 1 1 11 1-7 1 5 1-6 1-2 1-2 1 22 1-21 1 4 1 9 1 6 1-37 1 13 1-9 1 13 1-2 1-24 1 7 1 1 1 19 1-38 1 30 1-7 1-9 1 7 1-11 1 28 1-22 1-8 1 15 1-13 1-11 1 5 1 5 1-5 1 0 1-1 1 3 1-9 1 17 1-14 1 5 1-12 1-8 1 5 1 1 1-8 1-22 1 21 1 14 1 4 1-1 1-17 1 0 1 18 1-9 1-16 1 1 1 2 1 3 1-15 1 15 1 2 1 13 1-8 1-12 1 20 1 7 1 9 1-6 1 1 1 10 1-27 1 31 1 3 1-25 1 21 1-24 1 47 1-20 1-7 1-9 1 14 1 9 1-7 1 14 1-7 1-8 1 20 1 27 1-61 1 28 1 13 1-18 1-5 1 6 1 13 1-15 1-8 1 6 1 23 1-4 1 16 1-9 1-17 1 8 1-1 1 24 1-12 1 0 1 8 1 5 1-17 1-9 1 19 1-4 1 13 1-24 1 40 1-21 1 21 1-10 1-8 1-12 1 12 1-10 1 39 1-37 1 14 1-12 1 3 1 12 1 29 1-48 1 19 1 16 1-16 1-7 1 51 1-38 1-14 1-15 1 11 1 5 1 24 1-14 1-12 1 38 1-8 1-23 1 20 1-13 1-8 1-8 1 13 1 5 1 3 1-2 1 14 1 7 1-23 1 11 1 9 1-23 1-7 1-20 1 28 1-29 1 17 1 22 1 7 1-33 1-12 1 11 1 27 1 27 1-34 1-29 1 13 1 36 1-11 1 3 1-11 1 1 1-31 1 46 1 11 1-35 1-1 1 10 1-4 1-14 1 2 1 22 1 14 1-27 1-14 1 30 1 11 1-28 1-6 1 8 1 5 1 27 1-39 1 22 1 2 1-14 1 34 1-17 1-19 1 5 1 5 1 25 1-30 1 16 1-5 1-22 1 21 1-21 1 10 1 4 1 12 1-11 1-5 1-2 1 2 1 9 1-23 1 10 1 11 1-38 1 48 1 3 1-23 1 9 1 0 1-5 1 9 1-20 1 30 1-22 1 26 1 25 1-36 1 3 1-3 1-6 1 13 1 5 1-24 1 29 1-24 1 26 1-25 1-29 1 26 1-8 1 11 1 16 1-23 1 0 1 13 1-24 1 15 1 26 1 3 1-31 1 3 1 18 1 7 1-24 1-7 1 2 1 29 1-10 1-20 1 37 1-29 1-7 1 28 1 0 1-26 1 2 1 18 1-14 1 23 1-6 1-20 1-34" stroke="#8800ff"/>
</g></g>
<g stroke="#000" stroke-width="11.5" stroke-linecap="round" stroke-dasharray="45.5 59.8">
<line x1="1253.3" y1="43.75" x2="1248.5" y2="1635.25"/>
<line x1="1458.5" y1="30.75" x2="1452.8" y2="1622.25"/>
<line x1="2129.0" y1="23.75" x2="2124.0" y2="1615.25"/>
</g>
<g fill="none" stroke="#000" stroke-width="4.6" stroke-linejoin="round" stroke-linecap="butt">
<path d="M269 78.5 H299.5 V1643" />
<path d="M283 845 H299.5" />
<path d="M269 1613.5 H2205.5 V1643" />
<path d="M617.5 1613.5 V1643" />
<path d="M935.0 1613.5 V1643" />
<path d="M1252.5 1613.5 V1643" />
<path d="M1570.0 1613.5 V1643" />
<path d="M1887.5 1613.5 V1643" />
<path d="M458.8 1613.5 V1627" />
<path d="M776.2 1613.5 V1627" />
<path d="M1093.8 1613.5 V1627" />
<path d="M1411.2 1613.5 V1627" />
<path d="M1728.8 1613.5 V1627" />
<path d="M2046.2 1613.5 V1627" />
</g>
<g fill="#000">
<text x="301.5" y="1767.5" text-anchor="middle" font-size="130">10</text>
<text x="619.0" y="1767.5" text-anchor="middle" font-size="130">20</text>
<text x="936.5" y="1767.5" text-anchor="middle" font-size="130">30</text>
<text x="1254.0" y="1767.5" text-anchor="middle" font-size="130">40</text>
<text x="1571.5" y="1767.5" text-anchor="middle" font-size="130">50</text>
<text x="1889.0" y="1767.5" text-anchor="middle" font-size="130">60</text>
<text x="2206.5" y="1767.5" text-anchor="middle" font-size="130">70</text>
<text x="956.3" y="1977.5" font-size="177">2θ (degrees)</text>
<text x="150.5" y="1401" font-size="175" transform="rotate(-90 150.5 1401)">Intensity (a. u.)</text>
<text x="1209" y="348" font-size="104" transform="rotate(-90 1209 348)">Pt(111)</text>
<text x="1421.7" y="348" font-size="104" transform="rotate(-90 1421.7 348)">Pt(200)</text>
<text x="2097.2" y="348" font-size="104" transform="rotate(-90 2097.2 348)">Pt(220)</text>
</g>
<g font-size="110">
<text x="1821" y="520.3" fill="#008000">PLa8</text>
<text x="1821" y="840.7" fill="#ff0000">PLa4</text>
<text x="1821" y="1030.6" fill="#0000ff">PLa2</text>
<text x="1821" y="1279" fill="#000000" textLength="225" lengthAdjust="spacing">PLa1</text>
<text x="1636" y="1491.6" fill="#8800ff" font-size="108">PSBA-15</text>
</g>
</svg>
</body></html>
